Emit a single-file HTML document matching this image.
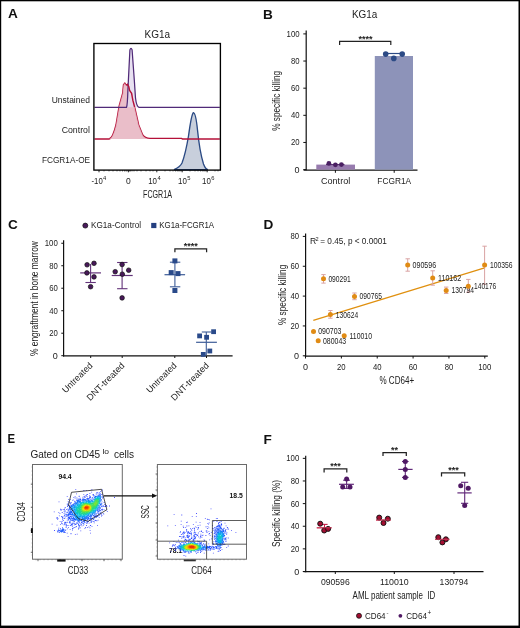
<!DOCTYPE html>
<html><head><meta charset="utf-8"><style>
html,body{margin:0;padding:0;background:#fff;}
#f{position:relative;width:520px;height:628px;overflow:hidden;background:#fff;}
svg{position:absolute;left:0;top:0;will-change:transform;}
text{font-family:"Liberation Sans", sans-serif;}
</style></head><body><div id="f">
<svg width="520" height="628" viewBox="0 0 520 628">
<rect x="0" y="0" width="520" height="628" fill="#fff"/>
<text x="8" y="18.4" font-size="13.6" text-anchor="start" fill="#111" font-weight="bold" >A</text>
<text x="157.4" y="37.9" font-size="11.1" text-anchor="middle" fill="#222" textLength="25.6" lengthAdjust="spacingAndGlyphs" >KG1a</text>
<text x="89.9" y="103" font-size="9.6" text-anchor="end" fill="#222" textLength="38.2" lengthAdjust="spacingAndGlyphs" >Unstained</text>
<text x="89.9" y="133.3" font-size="9.2" text-anchor="end" fill="#222" textLength="28.2" lengthAdjust="spacingAndGlyphs" >Control</text>
<text x="90.1" y="162.8" font-size="9.9" text-anchor="end" fill="#222" textLength="48.2" lengthAdjust="spacingAndGlyphs" >FCGR1A-OE</text>
<path d="M174,169.7 C178,168 180.5,166 182,163 C185,155 187,145 188.5,136 C190,125 191.5,114 193.4,112.6 C195.5,113 196.5,120 197.5,130 C199,145 201,156 203.5,164 C205,168 206.5,169.5 208,169.7 Z" fill="#c8cfdc" stroke="#2b4a84" stroke-width="1.35" />
<path d="M94.5,139 L109,139 C112,138.6 114,133 116,125 L119.2,106 L122.7,93.3 L123.5,84.7 L124.8,83.2 L126.1,85.2 L127.5,84.5 L128.7,86.4 L129.6,90.4 L131.6,93.3 L132.8,100.2 L134.6,107 L138.7,125 L142.7,135 C144.5,137.8 146,138.4 150,138.4 L181.5,138.4 L182.5,139 L219.8,139" fill="none" stroke="#b51038" stroke-width="1.4" />
<path d="M109,139 C112,138.6 114,133 116,125 L119.2,106 L122.7,93.3 L123.5,84.7 L124.8,83.2 L126.1,85.2 L127.5,84.5 L128.7,86.4 L129.6,90.4 L131.6,93.3 L132.8,100.2 L134.6,107 L138.7,125 L142.7,135 C144.5,137.8 146,138.4 150,139 Z" fill="#e6b3c0" stroke="none" stroke-width="1" fill-opacity="0.85"/>
<path d="M126.5,107.3 C127.3,106 127.6,100 127.9,90 L129.9,50 Q131,46.5 132.1,50 L134.3,80 L135.5,98 C136.2,104 137,106.8 139,107.3 Z" fill="#e4dcee" stroke="none" stroke-width="1" fill-opacity="0.85"/>
<path d="M94.5,107.3 L126.5,107.3 C127.3,106 127.6,100 127.9,90 L129.9,50 Q131,46.5 132.1,50 L134.3,80 L135.5,98 C136.2,104 137,106.8 139,107.3 L219.8,107.3" fill="none" stroke="#502a78" stroke-width="1.25" />
<path d="M126.1,85.2 L127.5,84.5 L128.7,86.4 L129.6,90.4 L131.6,93.3 L132.8,100.2 L134.6,107" fill="none" stroke="#b51038" stroke-width="1.4" />
<rect x="93.9" y="43.5" width="126.5" height="126.6" fill="none" stroke="#000" stroke-width="1.35"/>
<line x1="99" y1="170" x2="99" y2="172.3" stroke="#111" stroke-width="0.9"/>
<line x1="128.4" y1="170" x2="128.4" y2="172.3" stroke="#111" stroke-width="0.9"/>
<line x1="156.8" y1="170" x2="156.8" y2="172.3" stroke="#111" stroke-width="0.9"/>
<line x1="182.2" y1="170" x2="182.2" y2="172.3" stroke="#111" stroke-width="0.9"/>
<line x1="207.2" y1="170" x2="207.2" y2="172.3" stroke="#111" stroke-width="0.9"/>
<line x1="104" y1="170" x2="104" y2="171.4" stroke="#111" stroke-width="0.7"/>
<line x1="109" y1="170" x2="109" y2="171.4" stroke="#111" stroke-width="0.7"/>
<line x1="113" y1="170" x2="113" y2="171.4" stroke="#111" stroke-width="0.7"/>
<line x1="117" y1="170" x2="117" y2="171.4" stroke="#111" stroke-width="0.7"/>
<line x1="120" y1="170" x2="120" y2="171.4" stroke="#111" stroke-width="0.7"/>
<line x1="122.5" y1="170" x2="122.5" y2="171.4" stroke="#111" stroke-width="0.7"/>
<line x1="124.5" y1="170" x2="124.5" y2="171.4" stroke="#111" stroke-width="0.7"/>
<line x1="126" y1="170" x2="126" y2="171.4" stroke="#111" stroke-width="0.7"/>
<line x1="127" y1="170" x2="127" y2="171.4" stroke="#111" stroke-width="0.7"/>
<line x1="129.5" y1="170" x2="129.5" y2="171.4" stroke="#111" stroke-width="0.7"/>
<line x1="130.5" y1="170" x2="130.5" y2="171.4" stroke="#111" stroke-width="0.7"/>
<line x1="132" y1="170" x2="132" y2="171.4" stroke="#111" stroke-width="0.7"/>
<line x1="134" y1="170" x2="134" y2="171.4" stroke="#111" stroke-width="0.7"/>
<line x1="137" y1="170" x2="137" y2="171.4" stroke="#111" stroke-width="0.7"/>
<line x1="141" y1="170" x2="141" y2="171.4" stroke="#111" stroke-width="0.7"/>
<line x1="146" y1="170" x2="146" y2="171.4" stroke="#111" stroke-width="0.7"/>
<line x1="150" y1="170" x2="150" y2="171.4" stroke="#111" stroke-width="0.7"/>
<line x1="153" y1="170" x2="153" y2="171.4" stroke="#111" stroke-width="0.7"/>
<line x1="165" y1="170" x2="165" y2="171.4" stroke="#111" stroke-width="0.7"/>
<line x1="170" y1="170" x2="170" y2="171.4" stroke="#111" stroke-width="0.7"/>
<line x1="173" y1="170" x2="173" y2="171.4" stroke="#111" stroke-width="0.7"/>
<line x1="175.5" y1="170" x2="175.5" y2="171.4" stroke="#111" stroke-width="0.7"/>
<line x1="177.3" y1="170" x2="177.3" y2="171.4" stroke="#111" stroke-width="0.7"/>
<line x1="178.8" y1="170" x2="178.8" y2="171.4" stroke="#111" stroke-width="0.7"/>
<line x1="180" y1="170" x2="180" y2="171.4" stroke="#111" stroke-width="0.7"/>
<line x1="181.2" y1="170" x2="181.2" y2="171.4" stroke="#111" stroke-width="0.7"/>
<line x1="190" y1="170" x2="190" y2="171.4" stroke="#111" stroke-width="0.7"/>
<line x1="195" y1="170" x2="195" y2="171.4" stroke="#111" stroke-width="0.7"/>
<line x1="198" y1="170" x2="198" y2="171.4" stroke="#111" stroke-width="0.7"/>
<line x1="200.5" y1="170" x2="200.5" y2="171.4" stroke="#111" stroke-width="0.7"/>
<line x1="202.3" y1="170" x2="202.3" y2="171.4" stroke="#111" stroke-width="0.7"/>
<line x1="203.8" y1="170" x2="203.8" y2="171.4" stroke="#111" stroke-width="0.7"/>
<line x1="205" y1="170" x2="205" y2="171.4" stroke="#111" stroke-width="0.7"/>
<line x1="206.2" y1="170" x2="206.2" y2="171.4" stroke="#111" stroke-width="0.7"/>
<line x1="215" y1="170" x2="215" y2="171.4" stroke="#111" stroke-width="0.7"/>
<line x1="218" y1="170" x2="218" y2="171.4" stroke="#111" stroke-width="0.7"/>
<text x="91.5" y="183.9" font-size="8.5" text-anchor="start" fill="#222" textLength="11.2" lengthAdjust="spacingAndGlyphs" >-10</text>
<text x="103.0" y="180.3" font-size="5.8" text-anchor="start" fill="#222" >4</text>
<text x="125.9" y="183.9" font-size="8.5" text-anchor="start" fill="#222" >0</text>
<text x="148.2" y="183.9" font-size="8.5" text-anchor="start" fill="#222" textLength="8.8" lengthAdjust="spacingAndGlyphs" >10</text>
<text x="157.4" y="180.3" font-size="5.8" text-anchor="start" fill="#222" >4</text>
<text x="178.0" y="183.9" font-size="8.5" text-anchor="start" fill="#222" textLength="8.8" lengthAdjust="spacingAndGlyphs" >10</text>
<text x="187.2" y="180.3" font-size="5.8" text-anchor="start" fill="#222" >5</text>
<text x="202.0" y="183.9" font-size="8.5" text-anchor="start" fill="#222" textLength="8.8" lengthAdjust="spacingAndGlyphs" >10</text>
<text x="211.2" y="180.3" font-size="5.8" text-anchor="start" fill="#222" >6</text>
<text x="157.5" y="198.2" font-size="10.6" text-anchor="middle" fill="#222" textLength="28.9" lengthAdjust="spacingAndGlyphs" >FCGR1A</text>
<text x="263" y="18.6" font-size="13.6" text-anchor="start" fill="#111" font-weight="bold" >B</text>
<text x="364.7" y="18.3" font-size="11.1" text-anchor="middle" fill="#222" textLength="25.4" lengthAdjust="spacingAndGlyphs" >KG1a</text>
<line x1="303.3" y1="169.6" x2="306.2" y2="169.6" stroke="#111" stroke-width="1"/>
<text x="299.6" y="172.6" font-size="9" text-anchor="end" fill="#222" >0</text>
<line x1="303.3" y1="142.45999999999998" x2="306.2" y2="142.45999999999998" stroke="#111" stroke-width="1"/>
<text x="299.6" y="145.45999999999998" font-size="9" text-anchor="end" fill="#222" textLength="8.6" lengthAdjust="spacingAndGlyphs" >20</text>
<line x1="303.3" y1="115.32" x2="306.2" y2="115.32" stroke="#111" stroke-width="1"/>
<text x="299.6" y="118.32" font-size="9" text-anchor="end" fill="#222" textLength="8.6" lengthAdjust="spacingAndGlyphs" >40</text>
<line x1="303.3" y1="88.17999999999999" x2="306.2" y2="88.17999999999999" stroke="#111" stroke-width="1"/>
<text x="299.6" y="91.17999999999999" font-size="9" text-anchor="end" fill="#222" textLength="8.6" lengthAdjust="spacingAndGlyphs" >60</text>
<line x1="303.3" y1="61.03999999999999" x2="306.2" y2="61.03999999999999" stroke="#111" stroke-width="1"/>
<text x="299.6" y="64.03999999999999" font-size="9" text-anchor="end" fill="#222" textLength="8.6" lengthAdjust="spacingAndGlyphs" >80</text>
<line x1="303.3" y1="33.900000000000006" x2="306.2" y2="33.900000000000006" stroke="#111" stroke-width="1"/>
<text x="299.6" y="36.900000000000006" font-size="9" text-anchor="end" fill="#222" textLength="13.05" lengthAdjust="spacingAndGlyphs" >100</text>
<line x1="306.2" y1="30.6" x2="306.2" y2="170.3" stroke="#111" stroke-width="1.2"/>
<line x1="303.6" y1="170.1" x2="417.5" y2="170.1" stroke="#111" stroke-width="1.2"/>
<text x="280.1" y="100.8" font-size="10.3" text-anchor="middle" fill="#222" textLength="60" lengthAdjust="spacingAndGlyphs" transform="rotate(-90 280.1 100.8)" >% specific killing</text>
<rect x="316.3" y="164.6" width="38.7" height="5.0" fill="#977bae" stroke="none" stroke-width="0"/>
<rect x="374.8" y="56.0" width="38.2" height="113.6" fill="#8d93b9" stroke="none" stroke-width="0"/>
<line x1="335.4" y1="170" x2="335.4" y2="172.8" stroke="#111" stroke-width="1"/>
<line x1="394.2" y1="170" x2="394.2" y2="172.8" stroke="#111" stroke-width="1"/>
<text x="335.6" y="184" font-size="8.7" text-anchor="middle" fill="#222" textLength="29.2" lengthAdjust="spacingAndGlyphs" >Control</text>
<text x="394.2" y="184" font-size="8.7" text-anchor="middle" fill="#222" textLength="33.8" lengthAdjust="spacingAndGlyphs" >FCGR1A</text>
<line x1="326" y1="164.6" x2="344.5" y2="164.6" stroke="#4d2266" stroke-width="1"/>
<circle cx="328.9" cy="163.4" r="2.4" fill="#4a1f62" stroke="none" stroke-width="0"/>
<circle cx="335.4" cy="164.8" r="2.4" fill="#4a1f62" stroke="none" stroke-width="0"/>
<circle cx="341.4" cy="164.6" r="2.4" fill="#4a1f62" stroke="none" stroke-width="0"/>
<line x1="385.7" y1="53.5" x2="402.2" y2="53.5" stroke="#2c4a85" stroke-width="1.2"/>
<circle cx="385.7" cy="54.1" r="2.8" fill="#2c4a85" stroke="none" stroke-width="0"/>
<circle cx="393.8" cy="58.4" r="2.8" fill="#2c4a85" stroke="none" stroke-width="0"/>
<circle cx="402.2" cy="54.1" r="2.8" fill="#2c4a85" stroke="none" stroke-width="0"/>
<path d="M339.6,44.9 L339.6,41.4 L390.8,41.4 L390.8,44.9" fill="none" stroke="#222" stroke-width="1.2" />
<text x="365.4" y="41.9" font-size="9" text-anchor="middle" fill="#222" font-weight="bold" >****</text>
<text x="8" y="228.7" font-size="13.6" text-anchor="start" fill="#111" font-weight="bold" >C</text>
<circle cx="85.3" cy="225.6" r="2.5" fill="#4a1a5c" stroke="#111" stroke-width="0.7"/>
<text x="91" y="228.3" font-size="9.4" text-anchor="start" fill="#222" textLength="50" lengthAdjust="spacingAndGlyphs" >KG1a-Control</text>
<rect x="151.2" y="222.9" width="5.2" height="5.2" fill="#243f80" stroke="none" stroke-width="0"/>
<text x="159.3" y="228.3" font-size="9.4" text-anchor="start" fill="#222" textLength="54.8" lengthAdjust="spacingAndGlyphs" >KG1a-FCGR1A</text>
<line x1="61.3" y1="355.7" x2="63.6" y2="355.7" stroke="#111" stroke-width="1"/>
<text x="57.8" y="358.7" font-size="9" text-anchor="end" fill="#222" >0</text>
<line x1="61.3" y1="333.21" x2="63.6" y2="333.21" stroke="#111" stroke-width="1"/>
<text x="57.8" y="336.21" font-size="9" text-anchor="end" fill="#222" textLength="8.6" lengthAdjust="spacingAndGlyphs" >20</text>
<line x1="61.3" y1="310.71999999999997" x2="63.6" y2="310.71999999999997" stroke="#111" stroke-width="1"/>
<text x="57.8" y="313.71999999999997" font-size="9" text-anchor="end" fill="#222" textLength="8.6" lengthAdjust="spacingAndGlyphs" >40</text>
<line x1="61.3" y1="288.23" x2="63.6" y2="288.23" stroke="#111" stroke-width="1"/>
<text x="57.8" y="291.23" font-size="9" text-anchor="end" fill="#222" textLength="8.6" lengthAdjust="spacingAndGlyphs" >60</text>
<line x1="61.3" y1="265.74" x2="63.6" y2="265.74" stroke="#111" stroke-width="1"/>
<text x="57.8" y="268.74" font-size="9" text-anchor="end" fill="#222" textLength="8.6" lengthAdjust="spacingAndGlyphs" >80</text>
<line x1="61.3" y1="243.25" x2="63.6" y2="243.25" stroke="#111" stroke-width="1"/>
<text x="57.8" y="246.25" font-size="9" text-anchor="end" fill="#222" textLength="13.05" lengthAdjust="spacingAndGlyphs" >100</text>
<line x1="63.6" y1="240.2" x2="63.6" y2="356.4" stroke="#111" stroke-width="1.2"/>
<line x1="63.0" y1="355.9" x2="232.6" y2="355.9" stroke="#111" stroke-width="1.3"/>
<text x="38.2" y="298.6" font-size="10.3" text-anchor="middle" fill="#222" textLength="115" lengthAdjust="spacingAndGlyphs" transform="rotate(-90 38.2 298.6)" >% engraftment in bone marrow</text>
<line x1="90.6" y1="264" x2="90.6" y2="282.5" stroke="#623279" stroke-width="1.1"/>
<line x1="80.2" y1="272.9" x2="101" y2="272.9" stroke="#623279" stroke-width="1.2"/>
<line x1="85.4" y1="282.5" x2="95.8" y2="282.5" stroke="#623279" stroke-width="1.1"/>
<circle cx="87.1" cy="264.8" r="2.3" fill="#48185a" stroke="#111" stroke-width="0.7"/>
<circle cx="94" cy="263.3" r="2.3" fill="#48185a" stroke="#111" stroke-width="0.7"/>
<circle cx="86.9" cy="272.9" r="2.3" fill="#48185a" stroke="#111" stroke-width="0.7"/>
<circle cx="94" cy="276.9" r="2.3" fill="#48185a" stroke="#111" stroke-width="0.7"/>
<circle cx="90.6" cy="286.7" r="2.3" fill="#48185a" stroke="#111" stroke-width="0.7"/>
<line x1="122.1" y1="262.5" x2="122.1" y2="288.7" stroke="#623279" stroke-width="1.1"/>
<line x1="111.7" y1="275.5" x2="132.7" y2="275.5" stroke="#623279" stroke-width="1.2"/>
<line x1="117.1" y1="262.5" x2="127.5" y2="262.5" stroke="#623279" stroke-width="1.1"/>
<line x1="117.1" y1="288.7" x2="127.5" y2="288.7" stroke="#623279" stroke-width="1.1"/>
<circle cx="122.1" cy="264.5" r="2.3" fill="#48185a" stroke="#111" stroke-width="0.7"/>
<circle cx="115.2" cy="271.7" r="2.3" fill="#48185a" stroke="#111" stroke-width="0.7"/>
<circle cx="128.7" cy="270.2" r="2.3" fill="#48185a" stroke="#111" stroke-width="0.7"/>
<circle cx="122.3" cy="274.2" r="2.3" fill="#48185a" stroke="#111" stroke-width="0.7"/>
<circle cx="122.1" cy="297.9" r="2.3" fill="#48185a" stroke="#111" stroke-width="0.7"/>
<line x1="174.9" y1="262.2" x2="174.9" y2="286.8" stroke="#3e5d98" stroke-width="1.1"/>
<line x1="164.5" y1="274.7" x2="185.1" y2="274.7" stroke="#3e5d98" stroke-width="1.2"/>
<line x1="169.9" y1="262.2" x2="180.3" y2="262.2" stroke="#3e5d98" stroke-width="1.1"/>
<line x1="169.9" y1="286.8" x2="180.3" y2="286.8" stroke="#3e5d98" stroke-width="1.1"/>
<rect x="172.4" y="258.4" width="5" height="5" fill="#2a4a8a" stroke="none" stroke-width="0"/>
<rect x="168.7" y="270.1" width="5" height="5" fill="#2a4a8a" stroke="none" stroke-width="0"/>
<rect x="175.5" y="271.1" width="5" height="5" fill="#2a4a8a" stroke="none" stroke-width="0"/>
<rect x="172.4" y="288.0" width="5" height="5" fill="#2a4a8a" stroke="none" stroke-width="0"/>
<line x1="206.3" y1="332" x2="206.3" y2="355" stroke="#3e5d98" stroke-width="1.1"/>
<line x1="196.1" y1="342.3" x2="216.9" y2="342.3" stroke="#3e5d98" stroke-width="1.2"/>
<line x1="201.8" y1="332" x2="211.4" y2="332" stroke="#3e5d98" stroke-width="1.1"/>
<rect x="197.2" y="333.5" width="4.8" height="4.8" fill="#2a4a8a" stroke="none" stroke-width="0"/>
<rect x="204.2" y="334.90000000000003" width="4.8" height="4.8" fill="#2a4a8a" stroke="none" stroke-width="0"/>
<rect x="211.2" y="329.3" width="4.8" height="4.8" fill="#2a4a8a" stroke="none" stroke-width="0"/>
<rect x="207.4" y="348.6" width="4.8" height="4.8" fill="#2a4a8a" stroke="none" stroke-width="0"/>
<rect x="200.9" y="352.0" width="4.8" height="4.8" fill="#2a4a8a" stroke="none" stroke-width="0"/>
<path d="M174.9,252.3 L174.9,248.9 L206.6,248.9 L206.6,252.3" fill="none" stroke="#222" stroke-width="1.25" />
<text x="190.8" y="248.8" font-size="9" text-anchor="middle" fill="#222" font-weight="bold" >****</text>
<line x1="90.7" y1="356" x2="90.7" y2="358" stroke="#111" stroke-width="1"/>
<line x1="122.2" y1="356" x2="122.2" y2="358" stroke="#111" stroke-width="1"/>
<line x1="174.8" y1="356" x2="174.8" y2="358" stroke="#111" stroke-width="1"/>
<line x1="206.5" y1="356" x2="206.5" y2="358" stroke="#111" stroke-width="1"/>
<text x="93.10000000000001" y="366.2" font-size="9.0" text-anchor="end" fill="#222" textLength="38.5" lengthAdjust="spacingAndGlyphs" transform="rotate(-45 93.10000000000001 366.2)" >Untreated</text>
<text x="125.2" y="366.2" font-size="9.0" text-anchor="end" fill="#222" textLength="49.5" lengthAdjust="spacingAndGlyphs" transform="rotate(-45 125.2 366.2)" >DNT-treated</text>
<text x="177.20000000000002" y="366.2" font-size="9.0" text-anchor="end" fill="#222" textLength="38.5" lengthAdjust="spacingAndGlyphs" transform="rotate(-45 177.20000000000002 366.2)" >Untreated</text>
<text x="209.5" y="366.2" font-size="9.0" text-anchor="end" fill="#222" textLength="49.5" lengthAdjust="spacingAndGlyphs" transform="rotate(-45 209.5 366.2)" >DNT-treated</text>
<text x="263.5" y="228.6" font-size="13.6" text-anchor="start" fill="#111" font-weight="bold" >D</text>
<line x1="302.8" y1="355.8" x2="305.6" y2="355.8" stroke="#111" stroke-width="1"/>
<text x="299" y="358.8" font-size="9" text-anchor="end" fill="#222" >0</text>
<line x1="302.8" y1="325.95" x2="305.6" y2="325.95" stroke="#111" stroke-width="1"/>
<text x="299" y="328.95" font-size="9" text-anchor="end" fill="#222" textLength="8.6" lengthAdjust="spacingAndGlyphs" >20</text>
<line x1="302.8" y1="296.1" x2="305.6" y2="296.1" stroke="#111" stroke-width="1"/>
<text x="299" y="299.1" font-size="9" text-anchor="end" fill="#222" textLength="8.6" lengthAdjust="spacingAndGlyphs" >40</text>
<line x1="302.8" y1="266.25" x2="305.6" y2="266.25" stroke="#111" stroke-width="1"/>
<text x="299" y="269.25" font-size="9" text-anchor="end" fill="#222" textLength="8.6" lengthAdjust="spacingAndGlyphs" >60</text>
<line x1="302.8" y1="236.40000000000003" x2="305.6" y2="236.40000000000003" stroke="#111" stroke-width="1"/>
<text x="299" y="239.40000000000003" font-size="9" text-anchor="end" fill="#222" textLength="8.6" lengthAdjust="spacingAndGlyphs" >80</text>
<line x1="305.5" y1="356" x2="305.5" y2="358.5" stroke="#111" stroke-width="1"/>
<text x="305.5" y="369.7" font-size="9" text-anchor="middle" fill="#222" >0</text>
<line x1="341.36" y1="356" x2="341.36" y2="358.5" stroke="#111" stroke-width="1"/>
<text x="341.36" y="369.7" font-size="9" text-anchor="middle" fill="#222" textLength="8.6" lengthAdjust="spacingAndGlyphs" >20</text>
<line x1="377.22" y1="356" x2="377.22" y2="358.5" stroke="#111" stroke-width="1"/>
<text x="377.22" y="369.7" font-size="9" text-anchor="middle" fill="#222" textLength="8.6" lengthAdjust="spacingAndGlyphs" >40</text>
<line x1="413.08" y1="356" x2="413.08" y2="358.5" stroke="#111" stroke-width="1"/>
<text x="413.08" y="369.7" font-size="9" text-anchor="middle" fill="#222" textLength="8.6" lengthAdjust="spacingAndGlyphs" >60</text>
<line x1="448.94" y1="356" x2="448.94" y2="358.5" stroke="#111" stroke-width="1"/>
<text x="448.94" y="369.7" font-size="9" text-anchor="middle" fill="#222" textLength="8.6" lengthAdjust="spacingAndGlyphs" >80</text>
<line x1="484.79999999999995" y1="356" x2="484.79999999999995" y2="358.5" stroke="#111" stroke-width="1"/>
<text x="484.79999999999995" y="369.7" font-size="9" text-anchor="middle" fill="#222" textLength="13.05" lengthAdjust="spacingAndGlyphs" >100</text>
<line x1="305.6" y1="233.4" x2="305.6" y2="356.5" stroke="#111" stroke-width="1.2"/>
<line x1="304.8" y1="356.1" x2="487.8" y2="356.1" stroke="#111" stroke-width="1.2"/>
<text x="286.4" y="294.9" font-size="10.3" text-anchor="middle" fill="#222" textLength="60.3" lengthAdjust="spacingAndGlyphs" transform="rotate(-90 286.4 294.9)" >% specific killing</text>
<text x="396.8" y="383.6" font-size="10.6" text-anchor="middle" fill="#222" textLength="34.7" lengthAdjust="spacingAndGlyphs" >% CD64+</text>
<text x="310" y="244.2" font-size="8.6" text-anchor="start" fill="#222" >R</text>
<text x="315.6" y="240.6" font-size="5.6" text-anchor="start" fill="#222" >2</text>
<text x="320.3" y="244.2" font-size="8.7" text-anchor="start" fill="#222" textLength="66.6" lengthAdjust="spacingAndGlyphs" >= 0.45, p &lt; 0.0001</text>
<line x1="313.3" y1="320.4" x2="484.6" y2="267.9" stroke="#e0900f" stroke-width="1.3"/>
<line x1="323.5" y1="274.6" x2="323.5" y2="283.1" stroke="#d9a3a3" stroke-width="1"/>
<line x1="321.3" y1="274.6" x2="325.7" y2="274.6" stroke="#d9a3a3" stroke-width="1"/>
<line x1="321.3" y1="283.1" x2="325.7" y2="283.1" stroke="#d9a3a3" stroke-width="1"/>
<line x1="354.5" y1="293" x2="354.5" y2="299.7" stroke="#d9a3a3" stroke-width="1"/>
<line x1="352.3" y1="293" x2="356.7" y2="293" stroke="#d9a3a3" stroke-width="1"/>
<line x1="352.3" y1="299.7" x2="356.7" y2="299.7" stroke="#d9a3a3" stroke-width="1"/>
<line x1="330.4" y1="310.5" x2="330.4" y2="318.2" stroke="#d9a3a3" stroke-width="1"/>
<line x1="328.2" y1="310.5" x2="332.59999999999997" y2="310.5" stroke="#d9a3a3" stroke-width="1"/>
<line x1="328.2" y1="318.2" x2="332.59999999999997" y2="318.2" stroke="#d9a3a3" stroke-width="1"/>
<line x1="407.7" y1="258.8" x2="407.7" y2="271.2" stroke="#d9a3a3" stroke-width="1"/>
<line x1="405.5" y1="258.8" x2="409.9" y2="258.8" stroke="#d9a3a3" stroke-width="1"/>
<line x1="405.5" y1="271.2" x2="409.9" y2="271.2" stroke="#d9a3a3" stroke-width="1"/>
<line x1="432.7" y1="270.8" x2="432.7" y2="285.2" stroke="#d9a3a3" stroke-width="1"/>
<line x1="430.5" y1="270.8" x2="434.9" y2="270.8" stroke="#d9a3a3" stroke-width="1"/>
<line x1="430.5" y1="285.2" x2="434.9" y2="285.2" stroke="#d9a3a3" stroke-width="1"/>
<line x1="446.2" y1="287.1" x2="446.2" y2="293.5" stroke="#d9a3a3" stroke-width="1"/>
<line x1="444.0" y1="287.1" x2="448.4" y2="287.1" stroke="#d9a3a3" stroke-width="1"/>
<line x1="444.0" y1="293.5" x2="448.4" y2="293.5" stroke="#d9a3a3" stroke-width="1"/>
<line x1="468.3" y1="279.4" x2="468.3" y2="292.3" stroke="#d9a3a3" stroke-width="1"/>
<line x1="466.1" y1="279.4" x2="470.5" y2="279.4" stroke="#d9a3a3" stroke-width="1"/>
<line x1="466.1" y1="292.3" x2="470.5" y2="292.3" stroke="#d9a3a3" stroke-width="1"/>
<line x1="484.6" y1="246.2" x2="484.6" y2="284.2" stroke="#d9a3a3" stroke-width="1"/>
<line x1="482.40000000000003" y1="246.2" x2="486.8" y2="246.2" stroke="#d9a3a3" stroke-width="1"/>
<line x1="482.40000000000003" y1="284.2" x2="486.8" y2="284.2" stroke="#d9a3a3" stroke-width="1"/>
<circle cx="323.5" cy="278.8" r="2.5" fill="#e08b14" stroke="none" stroke-width="0"/>
<text x="328.4" y="281.7" font-size="8.2" text-anchor="start" fill="#222" textLength="22.4" lengthAdjust="spacingAndGlyphs" >090291</text>
<circle cx="354.5" cy="296.5" r="2.5" fill="#e08b14" stroke="none" stroke-width="0"/>
<text x="359.6" y="299.4" font-size="8.2" text-anchor="start" fill="#222" textLength="22.3" lengthAdjust="spacingAndGlyphs" >090765</text>
<circle cx="330.4" cy="314.6" r="2.5" fill="#e08b14" stroke="none" stroke-width="0"/>
<text x="335.8" y="317.5" font-size="8.2" text-anchor="start" fill="#222" textLength="22.3" lengthAdjust="spacingAndGlyphs" >130624</text>
<circle cx="313.5" cy="331.5" r="2.5" fill="#e08b14" stroke="none" stroke-width="0"/>
<text x="318.2" y="334.4" font-size="8.2" text-anchor="start" fill="#222" textLength="23.3" lengthAdjust="spacingAndGlyphs" >090703</text>
<circle cx="318.2" cy="340.8" r="2.5" fill="#e08b14" stroke="none" stroke-width="0"/>
<text x="323.0" y="343.7" font-size="8.2" text-anchor="start" fill="#222" textLength="23.2" lengthAdjust="spacingAndGlyphs" >080043</text>
<circle cx="344.2" cy="335.8" r="2.5" fill="#e08b14" stroke="none" stroke-width="0"/>
<text x="349.5" y="338.7" font-size="8.2" text-anchor="start" fill="#222" textLength="22.5" lengthAdjust="spacingAndGlyphs" >110010</text>
<circle cx="407.7" cy="265.0" r="2.5" fill="#e08b14" stroke="none" stroke-width="0"/>
<text x="412.5" y="267.9" font-size="8.2" text-anchor="start" fill="#222" textLength="23.7" lengthAdjust="spacingAndGlyphs" >090596</text>
<circle cx="432.7" cy="278.1" r="2.5" fill="#e08b14" stroke="none" stroke-width="0"/>
<text x="438.0" y="281.0" font-size="8.2" text-anchor="start" fill="#222" textLength="23.2" lengthAdjust="spacingAndGlyphs" >110162</text>
<circle cx="446.2" cy="290.4" r="2.5" fill="#e08b14" stroke="none" stroke-width="0"/>
<text x="451.5" y="293.29999999999995" font-size="8.2" text-anchor="start" fill="#222" textLength="22.5" lengthAdjust="spacingAndGlyphs" >130794</text>
<circle cx="468.3" cy="286.2" r="2.5" fill="#e08b14" stroke="none" stroke-width="0"/>
<text x="474.0" y="289.09999999999997" font-size="8.2" text-anchor="start" fill="#222" textLength="22.2" lengthAdjust="spacingAndGlyphs" >140176</text>
<circle cx="484.6" cy="265.0" r="2.5" fill="#e08b14" stroke="none" stroke-width="0"/>
<text x="489.9" y="267.9" font-size="8.2" text-anchor="start" fill="#222" textLength="22.6" lengthAdjust="spacingAndGlyphs" >100356</text>
<text x="7.6" y="443.0" font-size="13.6" text-anchor="start" fill="#111" font-weight="bold" textLength="7.6" lengthAdjust="spacingAndGlyphs" >E</text>
<text x="30.4" y="458.4" font-size="10.4" text-anchor="start" fill="#222" textLength="69.8" lengthAdjust="spacingAndGlyphs" >Gated on CD45</text>
<text x="102.4" y="454.4" font-size="7" text-anchor="start" fill="#222" textLength="6.6" lengthAdjust="spacingAndGlyphs" >lo</text>
<text x="113.9" y="458.4" font-size="10.4" text-anchor="start" fill="#222" textLength="20.2" lengthAdjust="spacingAndGlyphs" >cells</text>
<text x="65.0" y="478.8" font-size="6.8" text-anchor="middle" fill="#111" font-weight="bold" >94.4</text>
<text x="236.2" y="498.3" font-size="6.8" text-anchor="middle" fill="#111" font-weight="bold" >18.5</text>
<text x="175.5" y="553.2" font-size="6.8" text-anchor="middle" fill="#111" font-weight="bold" >78.1</text>
<text x="77.9" y="574.2" font-size="11.5" text-anchor="middle" fill="#222" textLength="20.4" lengthAdjust="spacingAndGlyphs" >CD33</text>
<text x="201.5" y="574.2" font-size="11.5" text-anchor="middle" fill="#222" textLength="20.5" lengthAdjust="spacingAndGlyphs" >CD64</text>
<text x="25.0" y="511.9" font-size="11.8" text-anchor="middle" fill="#222" textLength="19.8" lengthAdjust="spacingAndGlyphs" transform="rotate(-90 25.0 511.9)" >CD34</text>
<text x="148.8" y="511.9" font-size="11.8" text-anchor="middle" fill="#222" textLength="13.4" lengthAdjust="spacingAndGlyphs" transform="rotate(-90 148.8 511.9)" >SSC</text>
<path fill="rgb(38, 45, 255)" d="M76.0 493.4h0.8v0.8h-0.8zM109.2 505.6h0.8v0.8h-0.8zM51.7 523.8h0.8v0.8h-0.8zM56.6 524.7h0.8v0.8h-0.8zM90.1 532.8h0.8v0.8h-0.8zM80.4 530.5h0.8v0.8h-0.8zM53.8 511.4h0.8v0.8h-0.8zM76.8 533.7h0.8v0.8h-0.8zM54.2 530.1h0.8v0.8h-0.8zM75.4 488.9h0.8v0.8h-0.8zM85.9 490.0h0.8v0.8h-0.8zM58.6 501.4h0.8v0.8h-0.8zM66.8 495.9h0.8v0.8h-0.8zM91.5 489.0h0.8v0.8h-0.8zM114.2 497.1h0.8v0.8h-0.8zM89.7 529.9h0.8v0.8h-0.8zM67.7 536.2h0.8v0.8h-0.8zM74.9 534.3h0.8v0.8h-0.8zM106.9 511.0h0.8v0.8h-0.8zM97.0 525.3h0.8v0.8h-0.8zM83.5 490.1h0.8v0.8h-0.8z"/><path fill="rgb(36, 57, 255)" d="M92.3 494.5h0.8v0.8h-0.8zM82.8 496.5h0.8v0.8h-0.8zM105.3 505.5h0.8v0.8h-0.8zM106.2 505.1h0.8v0.8h-0.8zM76.5 497.5h0.8v0.8h-0.8zM106.1 509.4h0.8v0.8h-0.8zM105.2 506.1h0.8v0.8h-0.8zM86.1 494.4h0.8v0.8h-0.8zM106.5 505.9h0.8v0.8h-0.8zM59.5 513.3h0.8v0.8h-0.8zM78.8 495.8h0.8v0.8h-0.8zM104.1 503.9h0.8v0.8h-0.8zM95.1 520.3h0.8v0.8h-0.8zM64.4 507.7h0.8v0.8h-0.8zM100.1 491.2h0.8v0.8h-0.8zM68.7 502.3h0.8v0.8h-0.8zM103.7 502.1h0.8v0.8h-0.8zM101.6 515.2h0.8v0.8h-0.8zM95.8 493.6h0.8v0.8h-0.8zM86.6 523.0h0.8v0.8h-0.8zM85.9 495.0h0.8v0.8h-0.8zM104.4 505.9h0.8v0.8h-0.8zM103.6 509.0h0.8v0.8h-0.8zM70.2 502.6h0.8v0.8h-0.8zM73.4 496.9h0.8v0.8h-0.8zM89.2 495.5h0.8v0.8h-0.8zM102.4 495.9h0.8v0.8h-0.8zM101.9 489.4h0.8v0.8h-0.8zM97.4 492.0h0.8v0.8h-0.8zM102.1 494.5h0.8v0.8h-0.8zM96.4 492.3h0.8v0.8h-0.8zM63.1 520.2h0.8v0.8h-0.8zM93.8 522.5h0.8v0.8h-0.8zM60.5 509.4h0.8v0.8h-0.8zM100.6 514.3h0.8v0.8h-0.8zM70.6 533.4h0.8v0.8h-0.8zM71.9 526.3h0.8v0.8h-0.8zM60.0 508.7h0.8v0.8h-0.8zM65.5 526.8h0.8v0.8h-0.8zM56.3 517.6h0.8v0.8h-0.8zM89.5 493.1h0.8v0.8h-0.8zM86.2 525.1h0.8v0.8h-0.8zM102.8 513.3h0.8v0.8h-0.8zM61.7 516.5h0.8v0.8h-0.8zM98.8 517.2h0.8v0.8h-0.8zM74.4 527.1h0.8v0.8h-0.8zM68.4 502.5h0.8v0.8h-0.8zM61.1 521.6h0.8v0.8h-0.8zM89.5 527.5h0.8v0.8h-0.8zM63.6 524.4h0.8v0.8h-0.8zM62.1 523.4h0.8v0.8h-0.8zM75.1 524.1h0.8v0.8h-0.8zM57.0 517.0h0.8v0.8h-0.8zM67.8 501.2h0.8v0.8h-0.8zM101.2 515.6h0.8v0.8h-0.8zM95.5 520.1h0.8v0.8h-0.8zM87.2 494.1h0.8v0.8h-0.8zM81.6 525.5h0.8v0.8h-0.8zM72.8 499.5h0.8v0.8h-0.8zM83.2 524.8h0.8v0.8h-0.8zM97.7 519.7h0.8v0.8h-0.8zM68.2 527.2h0.8v0.8h-0.8zM64.9 507.0h0.8v0.8h-0.8zM89.9 525.0h0.8v0.8h-0.8zM83.4 494.3h0.8v0.8h-0.8zM70.9 502.0h0.8v0.8h-0.8zM64.2 518.2h0.8v0.8h-0.8zM61.0 515.9h0.8v0.8h-0.8zM96.5 520.4h0.8v0.8h-0.8zM67.3 528.4h0.8v0.8h-0.8zM69.7 529.3h0.8v0.8h-0.8zM59.7 520.9h0.8v0.8h-0.8zM72.2 529.6h0.8v0.8h-0.8zM68.4 525.2h0.8v0.8h-0.8zM91.6 526.2h0.8v0.8h-0.8zM72.9 527.6h0.8v0.8h-0.8zM84.8 495.6h0.8v0.8h-0.8zM79.9 527.4h0.8v0.8h-0.8zM74.7 496.0h0.8v0.8h-0.8zM100.9 513.4h0.8v0.8h-0.8zM64.1 509.0h0.8v0.8h-0.8zM91.3 491.7h0.8v0.8h-0.8zM57.5 518.1h0.8v0.8h-0.8zM61.8 512.1h0.8v0.8h-0.8zM86.6 496.1h0.8v0.8h-0.8zM90.3 525.2h0.8v0.8h-0.8zM103.4 513.8h0.8v0.8h-0.8zM74.7 497.6h0.8v0.8h-0.8zM76.2 526.0h0.8v0.8h-0.8zM70.6 533.0h0.8v0.8h-0.8zM57.3 519.3h0.8v0.8h-0.8zM61.5 509.0h0.8v0.8h-0.8zM66.0 509.3h0.8v0.8h-0.8zM101.7 490.5h0.8v0.8h-0.8zM70.3 525.1h0.8v0.8h-0.8zM88.7 522.7h0.8v0.8h-0.8zM75.5 526.4h0.8v0.8h-0.8zM78.7 496.2h0.8v0.8h-0.8zM85.3 527.1h0.8v0.8h-0.8zM69.9 499.2h0.8v0.8h-0.8zM72.4 500.0h0.8v0.8h-0.8zM87.2 527.2h0.8v0.8h-0.8zM72.2 528.1h0.8v0.8h-0.8zM58.9 515.4h0.8v0.8h-0.8zM62.2 520.8h0.8v0.8h-0.8zM60.0 524.0h0.8v0.8h-0.8zM78.0 528.6h0.8v0.8h-0.8zM61.3 522.9h0.8v0.8h-0.8zM68.1 499.2h0.8v0.8h-0.8zM78.6 527.6h0.8v0.8h-0.8zM88.5 526.5h0.8v0.8h-0.8zM66.8 518.5h0.8v0.8h-0.8zM84.5 528.0h0.8v0.8h-0.8zM66.8 525.2h0.8v0.8h-0.8zM66.8 520.5h0.8v0.8h-0.8zM63.7 513.2h0.8v0.8h-0.8zM63.6 510.7h0.8v0.8h-0.8zM62.3 519.3h0.8v0.8h-0.8zM61.8 523.4h0.8v0.8h-0.8zM63.3 509.0h0.8v0.8h-0.8zM64.5 517.7h0.8v0.8h-0.8zM58.4 511.9h0.8v0.8h-0.8zM60.7 509.9h0.8v0.8h-0.8zM66.1 526.6h0.8v0.8h-0.8zM66.8 532.8h0.8v0.8h-0.8zM58.4 527.8h0.8v0.8h-0.8zM64.9 532.0h0.8v0.8h-0.8z"/><path fill="rgb(34, 68, 255)" d="M96.3 515.9h0.8v0.8h-0.8zM100.6 511.7h0.8v0.8h-0.8zM90.2 496.4h0.8v0.8h-0.8zM95.9 516.7h0.8v0.8h-0.8zM93.6 495.1h0.8v0.8h-0.8zM84.1 496.7h0.8v0.8h-0.8zM88.2 520.9h0.8v0.8h-0.8zM97.7 513.1h0.8v0.8h-0.8zM93.3 495.2h0.8v0.8h-0.8zM102.2 497.6h0.8v0.8h-0.8zM76.4 498.8h0.8v0.8h-0.8zM97.7 512.0h0.8v0.8h-0.8zM66.9 505.7h0.8v0.8h-0.8zM102.6 505.2h0.8v0.8h-0.8zM102.7 496.9h0.8v0.8h-0.8zM101.1 509.0h0.8v0.8h-0.8zM94.5 519.7h0.8v0.8h-0.8zM101.6 506.5h0.8v0.8h-0.8zM67.6 509.6h0.8v0.8h-0.8zM82.4 497.6h0.8v0.8h-0.8zM74.4 501.2h0.8v0.8h-0.8zM80.0 498.7h0.8v0.8h-0.8zM96.0 516.9h0.8v0.8h-0.8zM98.7 515.0h0.8v0.8h-0.8zM96.4 514.9h0.8v0.8h-0.8zM98.1 513.7h0.8v0.8h-0.8zM92.3 518.0h0.8v0.8h-0.8zM84.2 496.2h0.8v0.8h-0.8zM99.5 512.8h0.8v0.8h-0.8zM74.4 500.8h0.8v0.8h-0.8zM64.7 511.3h0.8v0.8h-0.8zM97.4 512.0h0.8v0.8h-0.8zM101.9 509.3h0.8v0.8h-0.8zM64.6 513.9h0.8v0.8h-0.8zM98.9 514.4h0.8v0.8h-0.8zM74.7 501.3h0.8v0.8h-0.8zM101.6 501.5h0.8v0.8h-0.8zM66.4 512.4h0.8v0.8h-0.8zM79.6 497.7h0.8v0.8h-0.8zM98.1 515.4h0.8v0.8h-0.8zM68.5 505.1h0.8v0.8h-0.8zM65.7 515.2h0.8v0.8h-0.8zM64.5 511.6h0.8v0.8h-0.8zM101.7 508.9h0.8v0.8h-0.8zM89.8 496.7h0.8v0.8h-0.8zM93.7 518.0h0.8v0.8h-0.8zM67.6 504.8h0.8v0.8h-0.8zM89.3 497.3h0.8v0.8h-0.8zM102.7 506.1h0.8v0.8h-0.8zM96.7 493.4h0.8v0.8h-0.8zM99.8 493.3h0.8v0.8h-0.8zM101.2 499.3h0.8v0.8h-0.8zM89.5 495.8h0.8v0.8h-0.8zM65.4 523.0h0.8v0.8h-0.8zM78.5 498.5h0.8v0.8h-0.8zM78.0 524.2h0.8v0.8h-0.8zM62.1 527.2h0.8v0.8h-0.8zM67.9 519.7h0.8v0.8h-0.8zM81.2 524.2h0.8v0.8h-0.8zM74.7 523.5h0.8v0.8h-0.8zM90.7 520.5h0.8v0.8h-0.8zM64.7 521.7h0.8v0.8h-0.8zM70.1 521.4h0.8v0.8h-0.8zM66.9 512.2h0.8v0.8h-0.8zM89.2 497.1h0.8v0.8h-0.8zM102.1 508.7h0.8v0.8h-0.8zM66.2 523.9h0.8v0.8h-0.8zM66.8 522.3h0.8v0.8h-0.8zM64.9 522.3h0.8v0.8h-0.8zM65.6 521.9h0.8v0.8h-0.8zM64.2 522.9h0.8v0.8h-0.8zM80.9 522.3h0.8v0.8h-0.8zM93.2 519.1h0.8v0.8h-0.8zM93.2 520.9h0.8v0.8h-0.8zM94.6 516.0h0.8v0.8h-0.8zM89.2 520.1h0.8v0.8h-0.8zM103.0 505.6h0.8v0.8h-0.8zM64.6 509.9h0.8v0.8h-0.8zM102.0 509.7h0.8v0.8h-0.8zM62.6 517.7h0.8v0.8h-0.8zM98.5 493.6h0.8v0.8h-0.8zM65.3 516.5h0.8v0.8h-0.8zM72.1 524.5h0.8v0.8h-0.8zM87.4 520.9h0.8v0.8h-0.8zM93.1 494.1h0.8v0.8h-0.8zM90.0 497.4h0.8v0.8h-0.8zM71.3 524.2h0.8v0.8h-0.8zM95.3 515.7h0.8v0.8h-0.8zM92.5 517.4h0.8v0.8h-0.8zM70.4 503.2h0.8v0.8h-0.8zM65.0 513.8h0.8v0.8h-0.8zM64.3 524.0h0.8v0.8h-0.8zM66.8 511.8h0.8v0.8h-0.8zM62.5 516.5h0.8v0.8h-0.8zM101.0 494.3h0.8v0.8h-0.8zM93.5 520.9h0.8v0.8h-0.8zM66.2 524.9h0.8v0.8h-0.8zM67.0 506.2h0.8v0.8h-0.8zM78.6 526.6h0.8v0.8h-0.8zM78.6 523.4h0.8v0.8h-0.8zM76.8 523.1h0.8v0.8h-0.8zM62.1 517.1h0.8v0.8h-0.8zM60.2 528.0h0.8v0.8h-0.8zM71.1 524.6h0.8v0.8h-0.8zM79.2 525.8h0.8v0.8h-0.8zM67.5 508.5h0.8v0.8h-0.8zM84.8 497.2h0.8v0.8h-0.8zM64.4 522.1h0.8v0.8h-0.8zM78.0 523.7h0.8v0.8h-0.8zM72.7 522.9h0.8v0.8h-0.8zM67.7 503.6h0.8v0.8h-0.8zM66.8 503.7h0.8v0.8h-0.8zM72.2 522.7h0.8v0.8h-0.8zM69.4 522.5h0.8v0.8h-0.8zM79.0 522.2h0.8v0.8h-0.8zM79.3 525.1h0.8v0.8h-0.8zM80.5 524.8h0.8v0.8h-0.8zM91.5 520.4h0.8v0.8h-0.8zM69.8 504.7h0.8v0.8h-0.8zM93.9 516.1h0.8v0.8h-0.8zM75.9 523.8h0.8v0.8h-0.8zM86.3 522.6h0.8v0.8h-0.8zM71.6 523.6h0.8v0.8h-0.8zM70.6 504.4h0.8v0.8h-0.8zM76.2 522.5h0.8v0.8h-0.8zM62.5 518.2h0.8v0.8h-0.8zM65.0 524.5h0.8v0.8h-0.8zM63.8 515.7h0.8v0.8h-0.8zM97.1 516.1h0.8v0.8h-0.8zM89.9 521.8h0.8v0.8h-0.8zM99.3 491.9h0.8v0.8h-0.8zM71.2 524.1h0.8v0.8h-0.8zM70.5 523.4h0.8v0.8h-0.8zM72.4 524.7h0.8v0.8h-0.8zM68.9 522.5h0.8v0.8h-0.8zM89.5 520.0h0.8v0.8h-0.8zM67.8 504.9h0.8v0.8h-0.8zM99.9 512.6h0.8v0.8h-0.8zM64.0 515.0h0.8v0.8h-0.8zM66.9 522.2h0.8v0.8h-0.8zM80.2 523.5h0.8v0.8h-0.8zM81.6 522.6h0.8v0.8h-0.8zM67.9 519.0h0.8v0.8h-0.8zM93.7 521.0h0.8v0.8h-0.8zM91.1 521.9h0.8v0.8h-0.8zM74.2 524.5h0.8v0.8h-0.8zM68.9 522.0h0.8v0.8h-0.8zM73.5 521.6h0.8v0.8h-0.8zM86.6 521.1h0.8v0.8h-0.8zM78.1 525.3h0.8v0.8h-0.8zM66.7 516.2h0.8v0.8h-0.8zM70.3 521.8h0.8v0.8h-0.8zM87.2 522.2h0.8v0.8h-0.8zM64.0 514.9h0.8v0.8h-0.8zM73.8 523.2h0.8v0.8h-0.8zM83.6 523.8h0.8v0.8h-0.8zM94.8 517.3h0.8v0.8h-0.8zM69.2 520.9h0.8v0.8h-0.8zM91.5 521.2h0.8v0.8h-0.8zM74.1 520.9h0.8v0.8h-0.8zM58.7 529.9h0.8v0.8h-0.8zM58.3 529.2h0.8v0.8h-0.8zM63.8 531.3h0.8v0.8h-0.8zM58.7 531.7h0.8v0.8h-0.8zM57.0 530.8h0.8v0.8h-0.8zM64.0 531.9h0.8v0.8h-0.8zM57.7 531.2h0.8v0.8h-0.8zM56.9 530.4h0.8v0.8h-0.8zM65.4 529.5h0.8v0.8h-0.8zM64.2 531.5h0.8v0.8h-0.8zM57.4 531.8h0.8v0.8h-0.8zM65.0 529.9h0.8v0.8h-0.8z"/><path fill="rgb(32, 79, 255)" d="M69.7 516.1h0.8v0.8h-0.8zM80.4 499.1h0.8v0.8h-0.8zM94.8 495.7h0.8v0.8h-0.8zM89.2 518.8h0.8v0.8h-0.8zM90.6 518.7h0.8v0.8h-0.8zM76.3 500.0h0.8v0.8h-0.8zM100.6 509.7h0.8v0.8h-0.8zM95.7 513.2h0.8v0.8h-0.8zM72.8 517.0h0.8v0.8h-0.8zM66.0 514.2h0.8v0.8h-0.8zM80.3 499.4h0.8v0.8h-0.8zM82.8 498.7h0.8v0.8h-0.8zM88.7 498.3h0.8v0.8h-0.8zM95.9 513.2h0.8v0.8h-0.8zM101.4 503.6h0.8v0.8h-0.8zM69.6 516.7h0.8v0.8h-0.8zM98.0 511.1h0.8v0.8h-0.8zM100.0 510.3h0.8v0.8h-0.8zM89.8 519.8h0.8v0.8h-0.8zM69.1 517.1h0.8v0.8h-0.8zM76.8 500.2h0.8v0.8h-0.8zM99.2 506.9h0.8v0.8h-0.8zM91.9 518.5h0.8v0.8h-0.8zM87.2 497.8h0.8v0.8h-0.8zM98.4 510.4h0.8v0.8h-0.8zM100.1 507.0h0.8v0.8h-0.8zM85.2 499.1h0.8v0.8h-0.8zM100.7 505.8h0.8v0.8h-0.8zM90.4 518.3h0.8v0.8h-0.8zM101.0 506.3h0.8v0.8h-0.8zM77.8 521.5h0.8v0.8h-0.8zM68.9 510.8h0.8v0.8h-0.8zM84.0 521.5h0.8v0.8h-0.8zM70.5 518.7h0.8v0.8h-0.8zM68.1 517.8h0.8v0.8h-0.8zM101.5 503.3h0.8v0.8h-0.8zM67.0 514.5h0.8v0.8h-0.8zM91.0 518.4h0.8v0.8h-0.8zM84.1 498.7h0.8v0.8h-0.8zM69.5 509.4h0.8v0.8h-0.8zM91.0 518.0h0.8v0.8h-0.8zM79.6 499.3h0.8v0.8h-0.8zM97.5 511.3h0.8v0.8h-0.8zM68.4 508.9h0.8v0.8h-0.8zM99.7 510.2h0.8v0.8h-0.8zM79.4 499.2h0.8v0.8h-0.8zM100.1 508.0h0.8v0.8h-0.8zM94.5 515.5h0.8v0.8h-0.8zM93.7 514.0h0.8v0.8h-0.8zM78.4 499.2h0.8v0.8h-0.8zM81.2 521.9h0.8v0.8h-0.8zM97.5 510.8h0.8v0.8h-0.8zM68.4 516.9h0.8v0.8h-0.8zM99.2 508.4h0.8v0.8h-0.8zM95.3 514.8h0.8v0.8h-0.8zM93.0 498.7h0.8v0.8h-0.8zM67.9 512.7h0.8v0.8h-0.8zM89.9 518.3h0.8v0.8h-0.8zM83.0 498.4h0.8v0.8h-0.8zM87.5 498.3h0.8v0.8h-0.8zM99.1 510.8h0.8v0.8h-0.8zM95.7 513.9h0.8v0.8h-0.8zM70.8 517.5h0.8v0.8h-0.8zM88.1 498.2h0.8v0.8h-0.8zM96.7 495.6h0.8v0.8h-0.8zM99.5 493.8h0.8v0.8h-0.8zM93.5 496.4h0.8v0.8h-0.8zM99.8 494.4h0.8v0.8h-0.8zM98.8 494.4h0.8v0.8h-0.8zM100.1 494.7h0.8v0.8h-0.8zM72.8 519.0h0.8v0.8h-0.8zM69.8 509.2h0.8v0.8h-0.8zM92.1 497.0h0.8v0.8h-0.8zM77.4 521.9h0.8v0.8h-0.8zM66.9 514.2h0.8v0.8h-0.8zM80.2 498.9h0.8v0.8h-0.8zM68.4 516.2h0.8v0.8h-0.8zM91.4 516.8h0.8v0.8h-0.8zM92.4 498.5h0.8v0.8h-0.8zM93.2 515.1h0.8v0.8h-0.8zM69.0 517.9h0.8v0.8h-0.8zM72.4 519.8h0.8v0.8h-0.8zM86.8 519.0h0.8v0.8h-0.8zM71.7 520.3h0.8v0.8h-0.8zM69.5 506.8h0.8v0.8h-0.8zM74.6 520.0h0.8v0.8h-0.8zM69.0 506.8h0.8v0.8h-0.8zM68.5 513.0h0.8v0.8h-0.8zM73.5 503.3h0.8v0.8h-0.8zM99.5 510.1h0.8v0.8h-0.8zM69.7 519.6h0.8v0.8h-0.8zM69.3 518.1h0.8v0.8h-0.8zM70.4 516.2h0.8v0.8h-0.8zM100.7 505.6h0.8v0.8h-0.8zM67.6 515.0h0.8v0.8h-0.8zM83.3 522.9h0.8v0.8h-0.8zM74.8 502.1h0.8v0.8h-0.8zM93.8 515.6h0.8v0.8h-0.8zM84.0 521.1h0.8v0.8h-0.8zM70.8 515.9h0.8v0.8h-0.8zM66.2 515.8h0.8v0.8h-0.8zM99.3 510.3h0.8v0.8h-0.8zM70.7 519.5h0.8v0.8h-0.8zM81.6 521.2h0.8v0.8h-0.8zM72.7 520.8h0.8v0.8h-0.8zM82.0 521.8h0.8v0.8h-0.8zM66.2 514.3h0.8v0.8h-0.8zM83.1 522.7h0.8v0.8h-0.8zM68.0 510.0h0.8v0.8h-0.8zM70.6 517.9h0.8v0.8h-0.8zM68.7 506.4h0.8v0.8h-0.8zM69.4 505.8h0.8v0.8h-0.8zM72.8 517.4h0.8v0.8h-0.8zM83.0 521.1h0.8v0.8h-0.8zM73.2 520.3h0.8v0.8h-0.8zM67.9 511.4h0.8v0.8h-0.8zM82.6 522.9h0.8v0.8h-0.8zM90.2 517.2h0.8v0.8h-0.8zM71.4 520.0h0.8v0.8h-0.8zM74.5 502.4h0.8v0.8h-0.8zM68.5 518.5h0.8v0.8h-0.8zM81.3 520.1h0.8v0.8h-0.8zM91.5 497.8h0.8v0.8h-0.8zM81.7 521.1h0.8v0.8h-0.8zM72.4 516.2h0.8v0.8h-0.8zM97.1 510.1h0.8v0.8h-0.8zM78.8 521.3h0.8v0.8h-0.8zM87.4 518.9h0.8v0.8h-0.8zM77.4 498.8h0.8v0.8h-0.8zM91.3 516.8h0.8v0.8h-0.8zM87.8 519.4h0.8v0.8h-0.8zM77.5 521.7h0.8v0.8h-0.8zM70.3 519.6h0.8v0.8h-0.8zM71.0 518.2h0.8v0.8h-0.8zM77.7 521.3h0.8v0.8h-0.8zM70.8 515.3h0.8v0.8h-0.8zM71.8 520.0h0.8v0.8h-0.8zM80.9 520.1h0.8v0.8h-0.8zM68.5 515.1h0.8v0.8h-0.8zM86.5 498.1h0.8v0.8h-0.8zM84.3 521.7h0.8v0.8h-0.8zM70.4 518.0h0.8v0.8h-0.8zM88.8 498.1h0.8v0.8h-0.8zM90.5 517.9h0.8v0.8h-0.8zM84.5 522.1h0.8v0.8h-0.8zM69.3 518.1h0.8v0.8h-0.8zM67.8 516.9h0.8v0.8h-0.8zM67.4 515.3h0.8v0.8h-0.8zM84.6 522.1h0.8v0.8h-0.8zM71.3 516.7h0.8v0.8h-0.8zM92.8 515.5h0.8v0.8h-0.8zM59.0 530.2h0.8v0.8h-0.8zM59.0 531.9h0.8v0.8h-0.8zM58.8 530.1h0.8v0.8h-0.8zM62.8 529.0h0.8v0.8h-0.8zM63.0 531.5h0.8v0.8h-0.8zM63.2 528.9h0.8v0.8h-0.8zM63.6 532.0h0.8v0.8h-0.8zM63.1 531.8h0.8v0.8h-0.8zM60.5 529.3h0.8v0.8h-0.8zM62.6 528.1h0.8v0.8h-0.8zM58.1 530.2h0.8v0.8h-0.8zM61.9 528.7h0.8v0.8h-0.8z"/><path fill="rgb(29, 93, 254)" d="M78.4 500.1h0.8v0.8h-0.8zM91.6 499.6h0.8v0.8h-0.8zM100.1 499.6h0.8v0.8h-0.8zM69.7 508.4h0.8v0.8h-0.8zM90.1 515.3h0.8v0.8h-0.8zM69.1 508.6h0.8v0.8h-0.8zM77.0 500.0h0.8v0.8h-0.8zM91.0 515.4h0.8v0.8h-0.8zM100.6 499.4h0.8v0.8h-0.8zM70.4 507.3h0.8v0.8h-0.8zM81.9 500.2h0.8v0.8h-0.8zM98.7 508.9h0.8v0.8h-0.8zM73.1 504.1h0.8v0.8h-0.8zM86.7 499.2h0.8v0.8h-0.8zM78.0 500.2h0.8v0.8h-0.8zM98.4 508.3h0.8v0.8h-0.8zM100.9 499.9h0.8v0.8h-0.8zM84.3 499.3h0.8v0.8h-0.8zM91.1 515.0h0.8v0.8h-0.8zM70.3 512.0h0.8v0.8h-0.8zM100.0 504.7h0.8v0.8h-0.8zM72.1 503.9h0.8v0.8h-0.8zM72.1 518.3h0.8v0.8h-0.8zM69.1 512.7h0.8v0.8h-0.8zM83.6 519.5h0.8v0.8h-0.8zM88.8 517.9h0.8v0.8h-0.8zM69.8 510.9h0.8v0.8h-0.8zM86.0 517.8h0.8v0.8h-0.8zM100.7 504.4h0.8v0.8h-0.8zM87.6 518.0h0.8v0.8h-0.8zM71.0 512.1h0.8v0.8h-0.8zM98.4 507.3h0.8v0.8h-0.8zM82.9 498.9h0.8v0.8h-0.8zM100.3 504.2h0.8v0.8h-0.8zM90.1 516.3h0.8v0.8h-0.8zM78.9 520.3h0.8v0.8h-0.8zM91.8 499.5h0.8v0.8h-0.8zM95.3 496.0h0.8v0.8h-0.8zM72.6 504.0h0.8v0.8h-0.8zM81.5 500.2h0.8v0.8h-0.8zM85.3 519.5h0.8v0.8h-0.8zM94.6 513.4h0.8v0.8h-0.8zM76.5 500.8h0.8v0.8h-0.8zM72.0 518.8h0.8v0.8h-0.8zM72.9 517.7h0.8v0.8h-0.8zM70.5 509.0h0.8v0.8h-0.8zM86.8 499.1h0.8v0.8h-0.8zM95.2 511.8h0.8v0.8h-0.8zM99.6 504.3h0.8v0.8h-0.8zM82.2 499.5h0.8v0.8h-0.8zM72.3 515.5h0.8v0.8h-0.8zM88.0 499.2h0.8v0.8h-0.8zM87.7 499.5h0.8v0.8h-0.8zM87.7 517.3h0.8v0.8h-0.8zM69.5 511.6h0.8v0.8h-0.8zM88.1 517.1h0.8v0.8h-0.8zM69.1 513.5h0.8v0.8h-0.8zM78.1 520.8h0.8v0.8h-0.8zM85.2 518.3h0.8v0.8h-0.8zM88.9 516.4h0.8v0.8h-0.8zM100.8 504.5h0.8v0.8h-0.8zM95.4 511.5h0.8v0.8h-0.8zM95.0 496.6h0.8v0.8h-0.8zM86.4 499.4h0.8v0.8h-0.8zM71.0 514.2h0.8v0.8h-0.8zM69.5 508.3h0.8v0.8h-0.8zM75.2 519.2h0.8v0.8h-0.8zM99.1 505.7h0.8v0.8h-0.8zM77.9 500.5h0.8v0.8h-0.8zM69.9 514.4h0.8v0.8h-0.8zM69.6 512.0h0.8v0.8h-0.8zM99.9 503.9h0.8v0.8h-0.8zM98.3 507.5h0.8v0.8h-0.8zM73.6 518.8h0.8v0.8h-0.8zM88.9 499.4h0.8v0.8h-0.8zM98.8 509.2h0.8v0.8h-0.8zM79.9 500.0h0.8v0.8h-0.8zM98.6 508.5h0.8v0.8h-0.8zM100.5 504.5h0.8v0.8h-0.8zM91.0 515.3h0.8v0.8h-0.8zM91.3 499.4h0.8v0.8h-0.8zM100.2 503.9h0.8v0.8h-0.8zM88.2 517.9h0.8v0.8h-0.8zM69.1 507.7h0.8v0.8h-0.8zM98.1 509.4h0.8v0.8h-0.8zM100.1 497.8h0.8v0.8h-0.8zM71.1 505.1h0.8v0.8h-0.8zM100.3 499.9h0.8v0.8h-0.8zM72.1 518.0h0.8v0.8h-0.8zM70.8 514.1h0.8v0.8h-0.8zM90.3 499.3h0.8v0.8h-0.8zM71.8 512.6h0.8v0.8h-0.8zM79.0 520.3h0.8v0.8h-0.8zM98.7 507.4h0.8v0.8h-0.8zM73.0 515.8h0.8v0.8h-0.8zM81.3 519.5h0.8v0.8h-0.8zM83.9 499.1h0.8v0.8h-0.8zM83.8 499.1h0.8v0.8h-0.8zM71.6 511.7h0.8v0.8h-0.8zM89.4 516.0h0.8v0.8h-0.8zM86.6 516.9h0.8v0.8h-0.8zM98.7 495.5h0.8v0.8h-0.8zM100.0 495.3h0.8v0.8h-0.8zM97.7 494.9h0.8v0.8h-0.8zM94.9 495.9h0.8v0.8h-0.8zM90.9 516.1h0.8v0.8h-0.8zM93.5 498.7h0.8v0.8h-0.8zM100.5 502.6h0.8v0.8h-0.8zM95.4 496.6h0.8v0.8h-0.8zM94.0 498.5h0.8v0.8h-0.8zM100.2 498.3h0.8v0.8h-0.8zM99.6 495.5h0.8v0.8h-0.8zM100.9 496.5h0.8v0.8h-0.8zM98.6 495.1h0.8v0.8h-0.8zM100.1 497.6h0.8v0.8h-0.8zM100.7 496.8h0.8v0.8h-0.8zM98.8 495.6h0.8v0.8h-0.8zM88.0 518.5h0.8v0.8h-0.8zM82.2 498.9h0.8v0.8h-0.8zM70.0 511.5h0.8v0.8h-0.8zM68.5 514.0h0.8v0.8h-0.8zM77.2 520.2h0.8v0.8h-0.8zM82.7 499.5h0.8v0.8h-0.8zM79.6 520.2h0.8v0.8h-0.8zM82.6 518.9h0.8v0.8h-0.8zM69.1 507.1h0.8v0.8h-0.8zM87.0 516.0h0.8v0.8h-0.8zM81.7 499.9h0.8v0.8h-0.8zM95.9 496.1h0.8v0.8h-0.8zM63.5 530.2h0.8v0.8h-0.8zM71.8 505.1h0.8v0.8h-0.8zM79.5 520.3h0.8v0.8h-0.8zM85.2 519.6h0.8v0.8h-0.8zM73.2 517.0h0.8v0.8h-0.8zM84.2 520.4h0.8v0.8h-0.8zM75.9 502.7h0.8v0.8h-0.8zM75.6 519.4h0.8v0.8h-0.8zM75.4 519.8h0.8v0.8h-0.8zM74.6 518.4h0.8v0.8h-0.8zM87.0 518.6h0.8v0.8h-0.8zM84.6 520.4h0.8v0.8h-0.8zM88.5 517.9h0.8v0.8h-0.8zM84.5 520.0h0.8v0.8h-0.8zM92.2 514.2h0.8v0.8h-0.8zM72.9 518.4h0.8v0.8h-0.8zM83.4 520.3h0.8v0.8h-0.8zM85.4 519.3h0.8v0.8h-0.8zM77.6 500.7h0.8v0.8h-0.8zM87.0 516.9h0.8v0.8h-0.8zM73.4 518.3h0.8v0.8h-0.8zM86.1 516.6h0.8v0.8h-0.8zM88.2 499.7h0.8v0.8h-0.8zM84.4 520.0h0.8v0.8h-0.8zM71.8 513.2h0.8v0.8h-0.8zM68.0 514.2h0.8v0.8h-0.8zM74.3 502.9h0.8v0.8h-0.8zM70.2 511.3h0.8v0.8h-0.8zM75.1 502.4h0.8v0.8h-0.8zM100.8 503.0h0.8v0.8h-0.8zM74.1 518.0h0.8v0.8h-0.8zM88.1 516.6h0.8v0.8h-0.8zM70.1 508.9h0.8v0.8h-0.8zM78.2 520.0h0.8v0.8h-0.8zM67.9 514.0h0.8v0.8h-0.8zM85.7 518.3h0.8v0.8h-0.8zM87.7 517.0h0.8v0.8h-0.8zM74.6 503.3h0.8v0.8h-0.8zM100.9 504.2h0.8v0.8h-0.8zM79.8 520.0h0.8v0.8h-0.8zM74.0 518.7h0.8v0.8h-0.8zM69.2 513.9h0.8v0.8h-0.8zM70.0 509.9h0.8v0.8h-0.8zM90.0 517.7h0.8v0.8h-0.8zM69.9 511.4h0.8v0.8h-0.8zM75.3 518.9h0.8v0.8h-0.8zM70.3 506.8h0.8v0.8h-0.8zM74.3 519.4h0.8v0.8h-0.8zM71.4 513.5h0.8v0.8h-0.8zM70.2 506.2h0.8v0.8h-0.8zM74.9 519.0h0.8v0.8h-0.8zM77.7 520.6h0.8v0.8h-0.8zM73.8 519.4h0.8v0.8h-0.8zM69.9 513.6h0.8v0.8h-0.8zM82.5 519.3h0.8v0.8h-0.8zM68.8 514.0h0.8v0.8h-0.8zM71.3 511.0h0.8v0.8h-0.8zM70.0 512.8h0.8v0.8h-0.8zM85.6 519.7h0.8v0.8h-0.8zM71.0 511.1h0.8v0.8h-0.8zM68.7 514.2h0.8v0.8h-0.8zM69.0 512.3h0.8v0.8h-0.8zM80.8 519.9h0.8v0.8h-0.8zM79.6 520.4h0.8v0.8h-0.8zM69.4 508.8h0.8v0.8h-0.8zM73.0 515.3h0.8v0.8h-0.8zM69.6 512.1h0.8v0.8h-0.8zM86.4 518.0h0.8v0.8h-0.8zM70.3 513.7h0.8v0.8h-0.8zM71.6 513.6h0.8v0.8h-0.8zM62.7 529.4h0.8v0.8h-0.8zM63.3 530.1h0.8v0.8h-0.8zM60.6 531.5h0.8v0.8h-0.8zM62.5 531.0h0.8v0.8h-0.8zM63.7 529.4h0.8v0.8h-0.8zM61.9 529.8h0.8v0.8h-0.8zM61.9 529.5h0.8v0.8h-0.8zM61.4 529.7h0.8v0.8h-0.8zM61.4 530.5h0.8v0.8h-0.8zM60.0 530.2h0.8v0.8h-0.8zM63.6 529.9h0.8v0.8h-0.8zM62.3 529.9h0.8v0.8h-0.8zM62.0 530.2h0.8v0.8h-0.8zM62.3 529.1h0.8v0.8h-0.8zM61.7 531.3h0.8v0.8h-0.8zM61.2 531.3h0.8v0.8h-0.8zM60.7 531.0h0.8v0.8h-0.8zM63.4 529.0h0.8v0.8h-0.8zM59.8 531.3h0.8v0.8h-0.8zM61.2 531.4h0.8v0.8h-0.8zM62.1 530.8h0.8v0.8h-0.8zM60.4 530.5h0.8v0.8h-0.8zM61.1 531.3h0.8v0.8h-0.8zM61.0 531.6h0.8v0.8h-0.8zM61.0 531.7h0.8v0.8h-0.8zM61.6 531.4h0.8v0.8h-0.8zM61.6 530.3h0.8v0.8h-0.8zM61.0 530.2h0.8v0.8h-0.8z"/><path fill="rgb(19, 124, 248)" d="M99.2 502.9h0.8v0.8h-0.8zM87.8 514.9h0.8v0.8h-0.8zM76.3 503.4h0.8v0.8h-0.8zM84.7 518.1h0.8v0.8h-0.8zM80.5 501.0h0.8v0.8h-0.8zM71.0 507.5h0.8v0.8h-0.8zM74.9 504.0h0.8v0.8h-0.8zM91.8 500.6h0.8v0.8h-0.8zM82.0 501.5h0.8v0.8h-0.8zM82.9 518.8h0.8v0.8h-0.8zM77.0 501.1h0.8v0.8h-0.8zM82.0 517.8h0.8v0.8h-0.8zM71.3 508.2h0.8v0.8h-0.8zM91.7 514.7h0.8v0.8h-0.8zM95.3 510.8h0.8v0.8h-0.8zM73.9 511.1h0.8v0.8h-0.8zM79.6 519.7h0.8v0.8h-0.8zM94.7 512.6h0.8v0.8h-0.8zM74.6 504.6h0.8v0.8h-0.8zM94.2 497.3h0.8v0.8h-0.8zM74.6 515.8h0.8v0.8h-0.8zM79.0 501.2h0.8v0.8h-0.8zM88.1 515.2h0.8v0.8h-0.8zM79.8 501.6h0.8v0.8h-0.8zM76.2 518.2h0.8v0.8h-0.8zM78.5 518.2h0.8v0.8h-0.8zM92.7 513.1h0.8v0.8h-0.8zM85.7 499.8h0.8v0.8h-0.8zM89.7 500.7h0.8v0.8h-0.8zM79.2 517.2h0.8v0.8h-0.8zM88.0 515.0h0.8v0.8h-0.8zM83.4 518.3h0.8v0.8h-0.8zM70.9 506.2h0.8v0.8h-0.8zM72.4 510.4h0.8v0.8h-0.8zM84.2 519.0h0.8v0.8h-0.8zM87.4 500.6h0.8v0.8h-0.8zM77.6 502.3h0.8v0.8h-0.8zM73.2 505.1h0.8v0.8h-0.8zM98.6 506.4h0.8v0.8h-0.8zM74.4 513.6h0.8v0.8h-0.8zM76.5 519.8h0.8v0.8h-0.8zM99.0 505.5h0.8v0.8h-0.8zM94.2 512.2h0.8v0.8h-0.8zM83.3 518.5h0.8v0.8h-0.8zM92.5 500.6h0.8v0.8h-0.8zM74.7 514.4h0.8v0.8h-0.8zM73.7 511.9h0.8v0.8h-0.8zM73.3 511.6h0.8v0.8h-0.8zM95.9 510.2h0.8v0.8h-0.8zM84.3 500.1h0.8v0.8h-0.8zM86.0 500.6h0.8v0.8h-0.8zM84.0 516.6h0.8v0.8h-0.8zM83.1 500.6h0.8v0.8h-0.8zM77.6 519.6h0.8v0.8h-0.8zM77.5 518.1h0.8v0.8h-0.8zM80.1 517.4h0.8v0.8h-0.8zM91.5 500.1h0.8v0.8h-0.8zM71.1 510.8h0.8v0.8h-0.8zM73.1 505.2h0.8v0.8h-0.8zM82.7 518.3h0.8v0.8h-0.8zM71.9 514.2h0.8v0.8h-0.8zM72.3 510.3h0.8v0.8h-0.8zM83.1 499.8h0.8v0.8h-0.8zM74.6 504.6h0.8v0.8h-0.8zM71.9 507.8h0.8v0.8h-0.8zM77.4 500.9h0.8v0.8h-0.8zM73.9 515.0h0.8v0.8h-0.8zM74.5 514.2h0.8v0.8h-0.8zM84.7 517.6h0.8v0.8h-0.8zM79.1 499.8h0.8v0.8h-0.8zM90.3 514.7h0.8v0.8h-0.8zM84.1 519.9h0.8v0.8h-0.8zM78.9 501.6h0.8v0.8h-0.8zM72.0 505.8h0.8v0.8h-0.8zM79.4 518.5h0.8v0.8h-0.8zM74.3 504.3h0.8v0.8h-0.8zM98.4 505.5h0.8v0.8h-0.8zM74.1 514.1h0.8v0.8h-0.8zM73.0 505.5h0.8v0.8h-0.8zM71.0 506.1h0.8v0.8h-0.8zM81.4 517.7h0.8v0.8h-0.8zM97.0 509.5h0.8v0.8h-0.8zM91.8 514.7h0.8v0.8h-0.8zM96.8 509.2h0.8v0.8h-0.8zM79.0 500.7h0.8v0.8h-0.8zM82.8 500.9h0.8v0.8h-0.8zM79.1 518.9h0.8v0.8h-0.8zM73.9 513.0h0.8v0.8h-0.8zM84.3 518.2h0.8v0.8h-0.8zM75.2 503.2h0.8v0.8h-0.8zM89.5 500.1h0.8v0.8h-0.8zM74.8 515.2h0.8v0.8h-0.8zM99.8 503.4h0.8v0.8h-0.8zM77.7 519.7h0.8v0.8h-0.8zM73.4 505.2h0.8v0.8h-0.8zM90.4 514.3h0.8v0.8h-0.8zM84.2 518.0h0.8v0.8h-0.8zM87.0 515.7h0.8v0.8h-0.8zM89.8 515.3h0.8v0.8h-0.8zM72.5 512.7h0.8v0.8h-0.8zM71.7 509.5h0.8v0.8h-0.8zM84.3 516.0h0.8v0.8h-0.8zM78.7 501.6h0.8v0.8h-0.8zM90.3 514.5h0.8v0.8h-0.8zM76.3 503.4h0.8v0.8h-0.8zM72.3 513.9h0.8v0.8h-0.8zM76.0 502.4h0.8v0.8h-0.8zM88.4 499.9h0.8v0.8h-0.8zM85.4 517.6h0.8v0.8h-0.8zM95.4 510.2h0.8v0.8h-0.8zM72.5 510.1h0.8v0.8h-0.8zM91.3 500.0h0.8v0.8h-0.8zM91.6 513.1h0.8v0.8h-0.8zM74.4 514.0h0.8v0.8h-0.8zM91.7 513.6h0.8v0.8h-0.8zM99.3 496.4h0.8v0.8h-0.8zM78.9 502.1h0.8v0.8h-0.8zM78.0 518.5h0.8v0.8h-0.8zM80.1 500.9h0.8v0.8h-0.8zM83.0 500.7h0.8v0.8h-0.8zM70.9 507.8h0.8v0.8h-0.8zM71.2 506.0h0.8v0.8h-0.8zM73.7 513.5h0.8v0.8h-0.8zM72.6 514.1h0.8v0.8h-0.8zM89.8 500.4h0.8v0.8h-0.8zM76.4 502.3h0.8v0.8h-0.8zM94.2 512.2h0.8v0.8h-0.8zM85.1 516.6h0.8v0.8h-0.8zM77.0 519.3h0.8v0.8h-0.8zM98.6 505.7h0.8v0.8h-0.8zM89.7 514.8h0.8v0.8h-0.8zM74.2 514.0h0.8v0.8h-0.8zM78.2 500.9h0.8v0.8h-0.8zM71.7 506.6h0.8v0.8h-0.8zM89.5 500.5h0.8v0.8h-0.8zM89.4 515.7h0.8v0.8h-0.8zM79.1 501.4h0.8v0.8h-0.8zM71.9 509.9h0.8v0.8h-0.8zM85.8 516.1h0.8v0.8h-0.8zM84.9 500.1h0.8v0.8h-0.8zM75.5 503.4h0.8v0.8h-0.8zM72.5 505.2h0.8v0.8h-0.8zM76.8 503.2h0.8v0.8h-0.8zM74.2 504.6h0.8v0.8h-0.8zM71.8 508.0h0.8v0.8h-0.8zM86.8 515.0h0.8v0.8h-0.8zM84.9 518.8h0.8v0.8h-0.8zM87.8 499.9h0.8v0.8h-0.8zM78.2 502.8h0.8v0.8h-0.8zM94.1 496.9h0.8v0.8h-0.8zM99.8 496.4h0.8v0.8h-0.8zM99.2 503.1h0.8v0.8h-0.8zM96.6 495.9h0.8v0.8h-0.8zM94.2 496.8h0.8v0.8h-0.8zM100.0 496.0h0.8v0.8h-0.8zM99.3 496.1h0.8v0.8h-0.8zM98.3 505.0h0.8v0.8h-0.8zM94.8 496.9h0.8v0.8h-0.8zM99.7 496.6h0.8v0.8h-0.8zM91.5 500.5h0.8v0.8h-0.8zM86.8 515.1h0.8v0.8h-0.8zM85.3 517.2h0.8v0.8h-0.8zM78.6 518.8h0.8v0.8h-0.8zM72.7 509.8h0.8v0.8h-0.8zM73.2 510.2h0.8v0.8h-0.8zM76.4 519.6h0.8v0.8h-0.8zM75.9 517.8h0.8v0.8h-0.8zM77.2 519.2h0.8v0.8h-0.8zM81.8 518.0h0.8v0.8h-0.8zM79.1 501.1h0.8v0.8h-0.8zM83.0 500.6h0.8v0.8h-0.8zM82.3 518.4h0.8v0.8h-0.8zM79.6 500.9h0.8v0.8h-0.8zM71.8 507.4h0.8v0.8h-0.8zM72.3 514.6h0.8v0.8h-0.8zM82.8 518.0h0.8v0.8h-0.8zM72.0 509.2h0.8v0.8h-0.8zM79.2 518.1h0.8v0.8h-0.8zM78.5 519.0h0.8v0.8h-0.8zM89.8 514.9h0.8v0.8h-0.8zM71.1 508.2h0.8v0.8h-0.8zM82.1 517.1h0.8v0.8h-0.8zM71.9 513.6h0.8v0.8h-0.8zM72.4 513.1h0.8v0.8h-0.8zM96.8 508.8h0.8v0.8h-0.8zM82.7 516.9h0.8v0.8h-0.8zM88.8 515.9h0.8v0.8h-0.8zM85.9 516.2h0.8v0.8h-0.8zM75.9 518.1h0.8v0.8h-0.8zM94.0 513.7h0.8v0.8h-0.8zM79.1 519.2h0.8v0.8h-0.8zM71.6 506.9h0.8v0.8h-0.8zM74.7 517.1h0.8v0.8h-0.8zM72.1 506.2h0.8v0.8h-0.8zM72.5 514.3h0.8v0.8h-0.8zM81.4 517.0h0.8v0.8h-0.8zM74.0 515.1h0.8v0.8h-0.8zM72.2 510.5h0.8v0.8h-0.8zM74.8 504.3h0.8v0.8h-0.8zM83.8 517.4h0.8v0.8h-0.8zM92.2 513.4h0.8v0.8h-0.8zM77.3 502.2h0.8v0.8h-0.8zM76.9 502.9h0.8v0.8h-0.8zM71.4 509.5h0.8v0.8h-0.8zM78.9 501.0h0.8v0.8h-0.8zM73.7 514.6h0.8v0.8h-0.8zM78.9 519.3h0.8v0.8h-0.8zM76.9 501.9h0.8v0.8h-0.8zM75.8 517.1h0.8v0.8h-0.8zM88.1 500.2h0.8v0.8h-0.8zM79.7 501.7h0.8v0.8h-0.8zM73.8 509.1h0.8v0.8h-0.8zM92.2 513.5h0.8v0.8h-0.8zM72.1 513.8h0.8v0.8h-0.8zM81.9 518.4h0.8v0.8h-0.8zM84.2 519.2h0.8v0.8h-0.8zM78.2 518.2h0.8v0.8h-0.8zM91.1 500.0h0.8v0.8h-0.8zM74.3 516.0h0.8v0.8h-0.8zM74.9 516.3h0.8v0.8h-0.8zM84.1 516.9h0.8v0.8h-0.8zM79.4 518.8h0.8v0.8h-0.8zM77.4 501.1h0.8v0.8h-0.8zM78.5 500.8h0.8v0.8h-0.8zM74.4 504.8h0.8v0.8h-0.8zM91.9 514.6h0.8v0.8h-0.8zM71.8 510.0h0.8v0.8h-0.8zM71.3 506.0h0.8v0.8h-0.8zM95.2 510.3h0.8v0.8h-0.8zM75.5 518.3h0.8v0.8h-0.8zM85.9 517.2h0.8v0.8h-0.8zM86.7 515.8h0.8v0.8h-0.8zM75.7 517.9h0.8v0.8h-0.8zM77.3 518.7h0.8v0.8h-0.8zM73.1 505.7h0.8v0.8h-0.8zM80.1 517.7h0.8v0.8h-0.8zM80.0 517.8h0.8v0.8h-0.8zM75.9 503.2h0.8v0.8h-0.8zM84.7 519.7h0.8v0.8h-0.8zM72.0 509.4h0.8v0.8h-0.8zM77.7 518.1h0.8v0.8h-0.8zM76.4 503.3h0.8v0.8h-0.8zM87.6 499.8h0.8v0.8h-0.8zM74.5 504.7h0.8v0.8h-0.8zM90.1 514.2h0.8v0.8h-0.8zM76.2 519.0h0.8v0.8h-0.8zM73.9 515.1h0.8v0.8h-0.8zM78.3 519.9h0.8v0.8h-0.8zM73.4 511.6h0.8v0.8h-0.8zM72.8 514.4h0.8v0.8h-0.8zM72.3 513.5h0.8v0.8h-0.8zM73.7 510.1h0.8v0.8h-0.8zM71.5 508.4h0.8v0.8h-0.8zM82.7 518.6h0.8v0.8h-0.8zM92.2 513.5h0.8v0.8h-0.8zM76.8 502.8h0.8v0.8h-0.8zM81.3 518.8h0.8v0.8h-0.8zM72.2 513.3h0.8v0.8h-0.8zM83.8 517.4h0.8v0.8h-0.8zM91.9 513.6h0.8v0.8h-0.8zM71.6 509.7h0.8v0.8h-0.8z"/><path fill="rgb(10, 155, 241)" d="M78.8 516.3h0.8v0.8h-0.8zM85.0 501.4h0.8v0.8h-0.8zM87.8 500.8h0.8v0.8h-0.8zM91.7 500.9h0.8v0.8h-0.8zM99.6 496.8h0.8v0.8h-0.8zM87.8 501.0h0.8v0.8h-0.8zM72.0 507.9h0.8v0.8h-0.8zM95.0 510.7h0.8v0.8h-0.8zM76.8 503.8h0.8v0.8h-0.8zM78.2 516.7h0.8v0.8h-0.8zM84.6 501.1h0.8v0.8h-0.8zM91.4 512.4h0.8v0.8h-0.8zM91.2 512.1h0.8v0.8h-0.8zM80.3 516.7h0.8v0.8h-0.8zM93.1 510.9h0.8v0.8h-0.8zM81.8 516.0h0.8v0.8h-0.8zM84.2 501.4h0.8v0.8h-0.8zM75.1 516.7h0.8v0.8h-0.8zM84.9 501.5h0.8v0.8h-0.8zM79.8 516.4h0.8v0.8h-0.8zM77.8 504.3h0.8v0.8h-0.8zM73.9 505.6h0.8v0.8h-0.8zM74.9 505.1h0.8v0.8h-0.8zM73.8 507.0h0.8v0.8h-0.8zM93.5 511.6h0.8v0.8h-0.8zM89.8 500.8h0.8v0.8h-0.8zM78.1 517.4h0.8v0.8h-0.8zM73.7 507.9h0.8v0.8h-0.8zM84.5 515.5h0.8v0.8h-0.8zM73.4 508.6h0.8v0.8h-0.8zM77.8 516.9h0.8v0.8h-0.8zM86.3 500.9h0.8v0.8h-0.8zM88.2 514.5h0.8v0.8h-0.8zM89.5 513.0h0.8v0.8h-0.8zM76.1 505.7h0.8v0.8h-0.8zM97.5 506.0h0.8v0.8h-0.8zM74.6 507.0h0.8v0.8h-0.8zM92.0 501.0h0.8v0.8h-0.8zM97.1 508.6h0.8v0.8h-0.8zM86.6 501.0h0.8v0.8h-0.8zM74.9 504.8h0.8v0.8h-0.8zM76.5 514.1h0.8v0.8h-0.8zM94.9 510.6h0.8v0.8h-0.8zM73.9 506.2h0.8v0.8h-0.8zM75.1 506.2h0.8v0.8h-0.8zM88.4 514.1h0.8v0.8h-0.8zM88.7 501.5h0.8v0.8h-0.8zM94.7 511.1h0.8v0.8h-0.8zM78.5 503.7h0.8v0.8h-0.8zM90.9 513.8h0.8v0.8h-0.8zM93.7 511.5h0.8v0.8h-0.8zM74.2 505.8h0.8v0.8h-0.8zM74.8 507.3h0.8v0.8h-0.8zM97.7 505.8h0.8v0.8h-0.8zM93.5 512.0h0.8v0.8h-0.8zM74.9 504.9h0.8v0.8h-0.8zM94.7 509.9h0.8v0.8h-0.8zM84.5 500.9h0.8v0.8h-0.8zM91.4 512.5h0.8v0.8h-0.8zM76.4 517.9h0.8v0.8h-0.8zM74.5 510.3h0.8v0.8h-0.8zM80.5 501.9h0.8v0.8h-0.8zM87.6 514.3h0.8v0.8h-0.8zM76.1 505.6h0.8v0.8h-0.8zM74.7 510.9h0.8v0.8h-0.8zM80.4 516.7h0.8v0.8h-0.8zM72.3 507.7h0.8v0.8h-0.8zM91.3 512.1h0.8v0.8h-0.8zM91.4 512.5h0.8v0.8h-0.8zM78.5 516.7h0.8v0.8h-0.8zM84.9 515.4h0.8v0.8h-0.8zM80.7 502.6h0.8v0.8h-0.8zM88.8 501.4h0.8v0.8h-0.8zM80.2 502.6h0.8v0.8h-0.8zM90.1 501.6h0.8v0.8h-0.8zM73.2 506.9h0.8v0.8h-0.8zM85.9 515.4h0.8v0.8h-0.8zM86.0 501.6h0.8v0.8h-0.8zM80.0 502.3h0.8v0.8h-0.8zM74.4 512.6h0.8v0.8h-0.8zM93.7 510.9h0.8v0.8h-0.8zM89.3 501.0h0.8v0.8h-0.8zM85.9 501.2h0.8v0.8h-0.8zM76.9 503.6h0.8v0.8h-0.8zM77.0 517.7h0.8v0.8h-0.8zM82.2 516.6h0.8v0.8h-0.8zM100.0 501.2h0.8v0.8h-0.8zM87.7 501.7h0.8v0.8h-0.8zM88.1 501.2h0.8v0.8h-0.8zM97.4 507.2h0.8v0.8h-0.8zM78.5 502.8h0.8v0.8h-0.8zM91.4 501.2h0.8v0.8h-0.8zM72.6 508.7h0.8v0.8h-0.8zM72.2 508.7h0.8v0.8h-0.8zM73.8 506.1h0.8v0.8h-0.8zM76.8 514.4h0.8v0.8h-0.8zM82.7 516.5h0.8v0.8h-0.8zM89.3 501.6h0.8v0.8h-0.8zM74.1 511.5h0.8v0.8h-0.8zM89.5 501.1h0.8v0.8h-0.8zM93.4 511.0h0.8v0.8h-0.8zM84.9 501.5h0.8v0.8h-0.8zM77.4 504.7h0.8v0.8h-0.8zM74.6 510.1h0.8v0.8h-0.8zM76.6 516.2h0.8v0.8h-0.8zM95.8 508.9h0.8v0.8h-0.8zM78.8 516.5h0.8v0.8h-0.8zM73.8 507.2h0.8v0.8h-0.8zM95.8 509.7h0.8v0.8h-0.8zM97.7 507.3h0.8v0.8h-0.8zM74.7 511.0h0.8v0.8h-0.8zM76.2 516.7h0.8v0.8h-0.8zM97.2 507.5h0.8v0.8h-0.8zM89.2 513.0h0.8v0.8h-0.8zM74.8 506.3h0.8v0.8h-0.8zM73.7 508.7h0.8v0.8h-0.8zM94.7 510.3h0.8v0.8h-0.8zM84.7 515.7h0.8v0.8h-0.8zM76.3 504.0h0.8v0.8h-0.8zM73.4 506.5h0.8v0.8h-0.8zM99.3 498.7h0.8v0.8h-0.8zM94.5 510.2h0.8v0.8h-0.8zM75.9 516.9h0.8v0.8h-0.8zM81.6 516.4h0.8v0.8h-0.8zM75.8 506.8h0.8v0.8h-0.8zM94.0 512.8h0.8v0.8h-0.8zM72.3 507.5h0.8v0.8h-0.8zM74.9 516.6h0.8v0.8h-0.8zM82.8 515.9h0.8v0.8h-0.8zM84.1 501.7h0.8v0.8h-0.8zM93.4 511.1h0.8v0.8h-0.8zM74.3 509.0h0.8v0.8h-0.8zM91.9 501.7h0.8v0.8h-0.8zM90.6 501.4h0.8v0.8h-0.8zM86.7 500.9h0.8v0.8h-0.8zM91.5 501.3h0.8v0.8h-0.8zM84.8 501.7h0.8v0.8h-0.8zM89.5 501.2h0.8v0.8h-0.8zM95.0 510.2h0.8v0.8h-0.8zM90.1 513.4h0.8v0.8h-0.8zM75.1 516.6h0.8v0.8h-0.8zM77.6 504.5h0.8v0.8h-0.8zM73.7 508.0h0.8v0.8h-0.8zM93.9 512.4h0.8v0.8h-0.8zM92.2 512.2h0.8v0.8h-0.8zM83.6 516.7h0.8v0.8h-0.8zM87.4 514.6h0.8v0.8h-0.8zM90.2 501.6h0.8v0.8h-0.8zM79.6 516.1h0.8v0.8h-0.8zM74.7 511.7h0.8v0.8h-0.8zM93.7 512.2h0.8v0.8h-0.8zM78.1 503.7h0.8v0.8h-0.8zM96.9 508.3h0.8v0.8h-0.8zM88.7 514.7h0.8v0.8h-0.8zM74.4 509.2h0.8v0.8h-0.8zM75.2 513.3h0.8v0.8h-0.8zM87.7 514.8h0.8v0.8h-0.8zM80.3 502.2h0.8v0.8h-0.8zM84.1 515.1h0.8v0.8h-0.8zM73.2 506.6h0.8v0.8h-0.8zM75.5 506.7h0.8v0.8h-0.8zM95.2 509.2h0.8v0.8h-0.8zM74.8 511.3h0.8v0.8h-0.8zM80.4 516.3h0.8v0.8h-0.8zM76.7 516.6h0.8v0.8h-0.8zM82.2 516.2h0.8v0.8h-0.8zM74.7 510.8h0.8v0.8h-0.8zM86.8 500.8h0.8v0.8h-0.8zM92.7 512.6h0.8v0.8h-0.8zM98.7 496.4h0.8v0.8h-0.8zM94.0 499.0h0.8v0.8h-0.8zM99.4 501.0h0.8v0.8h-0.8zM99.2 501.0h0.8v0.8h-0.8zM99.4 497.9h0.8v0.8h-0.8zM95.3 497.5h0.8v0.8h-0.8zM97.3 496.4h0.8v0.8h-0.8zM97.6 496.1h0.8v0.8h-0.8zM99.4 497.9h0.8v0.8h-0.8zM98.4 496.6h0.8v0.8h-0.8zM97.2 505.8h0.8v0.8h-0.8zM99.3 501.4h0.8v0.8h-0.8zM99.3 500.1h0.8v0.8h-0.8zM99.4 500.5h0.8v0.8h-0.8zM99.2 501.1h0.8v0.8h-0.8zM99.1 500.0h0.8v0.8h-0.8zM99.2 500.8h0.8v0.8h-0.8zM97.8 496.6h0.8v0.8h-0.8zM99.3 499.5h0.8v0.8h-0.8zM99.9 498.7h0.8v0.8h-0.8zM97.3 496.0h0.8v0.8h-0.8zM99.2 501.3h0.8v0.8h-0.8zM98.5 496.0h0.8v0.8h-0.8zM96.8 508.2h0.8v0.8h-0.8zM99.9 497.5h0.8v0.8h-0.8zM97.8 496.5h0.8v0.8h-0.8zM99.5 499.0h0.8v0.8h-0.8zM99.4 500.0h0.8v0.8h-0.8zM94.9 498.6h0.8v0.8h-0.8zM93.5 512.4h0.8v0.8h-0.8zM74.1 507.1h0.8v0.8h-0.8zM76.7 504.8h0.8v0.8h-0.8zM76.7 516.2h0.8v0.8h-0.8zM76.3 517.4h0.8v0.8h-0.8zM74.8 507.9h0.8v0.8h-0.8zM92.8 512.4h0.8v0.8h-0.8zM76.8 515.1h0.8v0.8h-0.8zM89.6 513.5h0.8v0.8h-0.8zM75.7 515.5h0.8v0.8h-0.8zM74.7 505.8h0.8v0.8h-0.8zM92.9 512.2h0.8v0.8h-0.8zM76.7 514.5h0.8v0.8h-0.8zM89.9 501.3h0.8v0.8h-0.8zM78.3 517.8h0.8v0.8h-0.8zM76.7 515.4h0.8v0.8h-0.8zM83.6 516.3h0.8v0.8h-0.8zM74.9 512.7h0.8v0.8h-0.8zM74.3 512.0h0.8v0.8h-0.8zM73.4 506.5h0.8v0.8h-0.8zM75.2 515.5h0.8v0.8h-0.8zM97.8 507.3h0.8v0.8h-0.8zM74.8 505.1h0.8v0.8h-0.8zM74.7 512.8h0.8v0.8h-0.8zM74.4 511.5h0.8v0.8h-0.8zM79.1 516.0h0.8v0.8h-0.8zM81.9 516.2h0.8v0.8h-0.8zM97.7 506.9h0.8v0.8h-0.8zM74.2 507.2h0.8v0.8h-0.8zM77.0 517.8h0.8v0.8h-0.8zM79.4 516.0h0.8v0.8h-0.8zM80.5 515.9h0.8v0.8h-0.8zM87.1 500.8h0.8v0.8h-0.8zM73.6 507.3h0.8v0.8h-0.8zM72.0 508.7h0.8v0.8h-0.8zM74.6 507.4h0.8v0.8h-0.8zM76.9 504.4h0.8v0.8h-0.8zM74.1 509.1h0.8v0.8h-0.8zM74.6 511.5h0.8v0.8h-0.8zM76.1 516.3h0.8v0.8h-0.8zM88.6 514.4h0.8v0.8h-0.8zM78.6 517.0h0.8v0.8h-0.8zM72.0 508.5h0.8v0.8h-0.8zM92.2 512.3h0.8v0.8h-0.8zM76.8 505.5h0.8v0.8h-0.8zM78.5 517.2h0.8v0.8h-0.8zM88.7 501.1h0.8v0.8h-0.8zM72.7 507.5h0.8v0.8h-0.8zM80.9 502.1h0.8v0.8h-0.8zM82.0 516.4h0.8v0.8h-0.8zM77.5 516.5h0.8v0.8h-0.8zM82.9 516.0h0.8v0.8h-0.8zM81.6 516.1h0.8v0.8h-0.8zM83.7 516.4h0.8v0.8h-0.8zM75.4 516.1h0.8v0.8h-0.8zM74.5 505.1h0.8v0.8h-0.8zM76.9 515.4h0.8v0.8h-0.8zM83.2 516.1h0.8v0.8h-0.8zM73.6 506.2h0.8v0.8h-0.8zM77.8 517.6h0.8v0.8h-0.8zM87.4 514.1h0.8v0.8h-0.8zM78.2 516.3h0.8v0.8h-0.8zM74.4 507.6h0.8v0.8h-0.8zM75.0 515.9h0.8v0.8h-0.8zM77.9 517.2h0.8v0.8h-0.8zM75.6 513.1h0.8v0.8h-0.8zM76.0 516.5h0.8v0.8h-0.8zM75.1 516.6h0.8v0.8h-0.8zM78.2 516.8h0.8v0.8h-0.8zM90.5 501.7h0.8v0.8h-0.8zM75.7 515.5h0.8v0.8h-0.8z"/><path fill="rgb(0, 186, 235)" d="M88.3 501.9h0.8v0.8h-0.8zM77.0 515.9h0.8v0.8h-0.8zM86.6 514.6h0.8v0.8h-0.8zM78.9 514.8h0.8v0.8h-0.8zM97.8 505.3h0.8v0.8h-0.8zM92.8 511.5h0.8v0.8h-0.8zM89.0 501.9h0.8v0.8h-0.8zM81.4 514.9h0.8v0.8h-0.8zM89.6 511.9h0.8v0.8h-0.8zM75.5 512.2h0.8v0.8h-0.8zM82.7 501.8h0.8v0.8h-0.8zM95.7 508.2h0.8v0.8h-0.8zM75.9 510.1h0.8v0.8h-0.8zM97.3 497.3h0.8v0.8h-0.8zM77.5 513.6h0.8v0.8h-0.8zM77.0 505.2h0.8v0.8h-0.8zM79.9 503.0h0.8v0.8h-0.8zM93.4 499.8h0.8v0.8h-0.8zM86.2 514.0h0.8v0.8h-0.8zM77.5 513.7h0.8v0.8h-0.8zM75.7 510.1h0.8v0.8h-0.8zM75.2 509.4h0.8v0.8h-0.8zM87.6 513.4h0.8v0.8h-0.8zM89.5 502.4h0.8v0.8h-0.8zM92.5 511.6h0.8v0.8h-0.8zM94.2 508.9h0.8v0.8h-0.8zM80.9 502.8h0.8v0.8h-0.8zM81.2 514.9h0.8v0.8h-0.8zM94.0 510.5h0.8v0.8h-0.8zM78.6 515.2h0.8v0.8h-0.8zM80.0 503.4h0.8v0.8h-0.8zM88.6 502.4h0.8v0.8h-0.8zM80.6 502.9h0.8v0.8h-0.8zM78.1 504.7h0.8v0.8h-0.8zM79.5 503.3h0.8v0.8h-0.8zM78.8 514.9h0.8v0.8h-0.8zM78.1 504.7h0.8v0.8h-0.8zM78.1 515.4h0.8v0.8h-0.8zM98.3 502.6h0.8v0.8h-0.8zM83.3 501.8h0.8v0.8h-0.8zM94.3 508.9h0.8v0.8h-0.8zM96.5 507.1h0.8v0.8h-0.8zM93.4 510.6h0.8v0.8h-0.8zM80.0 515.6h0.8v0.8h-0.8zM81.9 502.5h0.8v0.8h-0.8zM76.0 513.0h0.8v0.8h-0.8zM93.0 511.4h0.8v0.8h-0.8zM93.9 500.4h0.8v0.8h-0.8zM79.8 503.2h0.8v0.8h-0.8zM77.5 514.2h0.8v0.8h-0.8zM82.8 502.5h0.8v0.8h-0.8zM88.6 512.9h0.8v0.8h-0.8zM77.8 515.5h0.8v0.8h-0.8zM99.1 502.3h0.8v0.8h-0.8zM87.0 513.1h0.8v0.8h-0.8zM87.8 502.2h0.8v0.8h-0.8zM83.3 502.4h0.8v0.8h-0.8zM75.8 509.6h0.8v0.8h-0.8zM78.8 504.6h0.8v0.8h-0.8zM92.3 501.1h0.8v0.8h-0.8zM96.3 507.3h0.8v0.8h-0.8zM89.1 512.1h0.8v0.8h-0.8zM77.3 513.1h0.8v0.8h-0.8zM75.4 507.3h0.8v0.8h-0.8zM93.8 510.6h0.8v0.8h-0.8zM75.6 512.0h0.8v0.8h-0.8zM82.6 515.5h0.8v0.8h-0.8zM85.5 514.3h0.8v0.8h-0.8zM93.4 510.4h0.8v0.8h-0.8zM79.8 504.4h0.8v0.8h-0.8zM82.4 502.0h0.8v0.8h-0.8zM77.1 515.8h0.8v0.8h-0.8zM81.1 502.5h0.8v0.8h-0.8zM83.6 515.4h0.8v0.8h-0.8zM95.6 508.4h0.8v0.8h-0.8zM78.9 503.9h0.8v0.8h-0.8zM80.8 502.8h0.8v0.8h-0.8zM78.9 513.9h0.8v0.8h-0.8zM80.1 514.9h0.8v0.8h-0.8zM75.6 508.1h0.8v0.8h-0.8zM81.5 515.4h0.8v0.8h-0.8zM76.9 506.4h0.8v0.8h-0.8zM77.6 505.5h0.8v0.8h-0.8zM85.0 514.4h0.8v0.8h-0.8zM75.3 511.3h0.8v0.8h-0.8zM85.7 514.4h0.8v0.8h-0.8zM82.3 502.0h0.8v0.8h-0.8zM77.2 515.7h0.8v0.8h-0.8zM77.1 505.1h0.8v0.8h-0.8zM75.5 509.6h0.8v0.8h-0.8zM80.9 502.9h0.8v0.8h-0.8zM80.9 502.4h0.8v0.8h-0.8zM82.8 502.0h0.8v0.8h-0.8zM78.6 515.5h0.8v0.8h-0.8zM95.2 498.2h0.8v0.8h-0.8zM75.4 508.4h0.8v0.8h-0.8zM87.7 501.8h0.8v0.8h-0.8zM77.5 505.2h0.8v0.8h-0.8zM77.8 513.3h0.8v0.8h-0.8zM91.6 511.0h0.8v0.8h-0.8zM89.3 512.5h0.8v0.8h-0.8zM88.1 512.9h0.8v0.8h-0.8zM87.3 513.5h0.8v0.8h-0.8zM77.1 515.5h0.8v0.8h-0.8zM92.9 501.2h0.8v0.8h-0.8zM89.2 502.6h0.8v0.8h-0.8zM82.4 502.4h0.8v0.8h-0.8zM76.2 513.6h0.8v0.8h-0.8zM91.8 511.3h0.8v0.8h-0.8zM81.8 502.3h0.8v0.8h-0.8zM89.4 501.8h0.8v0.8h-0.8zM85.6 514.7h0.8v0.8h-0.8zM81.5 515.0h0.8v0.8h-0.8zM83.4 501.9h0.8v0.8h-0.8zM79.9 503.8h0.8v0.8h-0.8zM96.1 507.2h0.8v0.8h-0.8zM92.8 511.7h0.8v0.8h-0.8zM78.8 514.6h0.8v0.8h-0.8zM75.1 508.9h0.8v0.8h-0.8zM77.3 505.3h0.8v0.8h-0.8zM75.3 510.8h0.8v0.8h-0.8zM96.1 507.7h0.8v0.8h-0.8zM88.8 513.8h0.8v0.8h-0.8zM76.4 506.5h0.8v0.8h-0.8zM91.9 511.6h0.8v0.8h-0.8zM81.6 515.6h0.8v0.8h-0.8zM76.0 513.3h0.8v0.8h-0.8zM75.6 509.5h0.8v0.8h-0.8zM75.7 510.9h0.8v0.8h-0.8zM94.8 509.8h0.8v0.8h-0.8zM98.6 497.2h0.8v0.8h-0.8zM98.9 497.6h0.8v0.8h-0.8zM97.4 497.2h0.8v0.8h-0.8zM97.4 497.6h0.8v0.8h-0.8zM98.7 497.4h0.8v0.8h-0.8zM95.1 508.4h0.8v0.8h-0.8zM98.7 496.9h0.8v0.8h-0.8zM95.6 498.1h0.8v0.8h-0.8zM95.3 498.7h0.8v0.8h-0.8zM98.8 497.6h0.8v0.8h-0.8zM95.7 498.7h0.8v0.8h-0.8zM98.9 497.7h0.8v0.8h-0.8zM96.7 507.6h0.8v0.8h-0.8zM96.0 498.1h0.8v0.8h-0.8zM97.4 505.1h0.8v0.8h-0.8zM93.9 510.3h0.8v0.8h-0.8zM92.8 501.4h0.8v0.8h-0.8zM98.4 502.2h0.8v0.8h-0.8zM95.3 497.9h0.8v0.8h-0.8zM98.1 497.7h0.8v0.8h-0.8zM96.6 497.7h0.8v0.8h-0.8zM96.6 496.8h0.8v0.8h-0.8zM95.4 498.1h0.8v0.8h-0.8zM97.4 497.1h0.8v0.8h-0.8zM96.1 507.7h0.8v0.8h-0.8zM97.5 497.5h0.8v0.8h-0.8zM95.2 507.9h0.8v0.8h-0.8zM98.7 502.1h0.8v0.8h-0.8zM96.4 506.9h0.8v0.8h-0.8zM89.9 512.0h0.8v0.8h-0.8zM95.7 508.4h0.8v0.8h-0.8zM96.5 496.9h0.8v0.8h-0.8zM98.9 497.7h0.8v0.8h-0.8zM83.2 515.6h0.8v0.8h-0.8zM76.5 512.9h0.8v0.8h-0.8zM75.1 511.2h0.8v0.8h-0.8zM75.1 512.2h0.8v0.8h-0.8zM82.3 501.8h0.8v0.8h-0.8zM98.9 502.7h0.8v0.8h-0.8zM93.4 510.1h0.8v0.8h-0.8zM77.0 513.9h0.8v0.8h-0.8zM80.0 503.8h0.8v0.8h-0.8zM76.3 513.2h0.8v0.8h-0.8zM78.2 504.7h0.8v0.8h-0.8zM77.4 515.2h0.8v0.8h-0.8zM75.6 508.3h0.8v0.8h-0.8zM93.8 510.0h0.8v0.8h-0.8zM77.6 514.5h0.8v0.8h-0.8zM76.6 513.1h0.8v0.8h-0.8zM81.4 515.0h0.8v0.8h-0.8zM95.8 508.3h0.8v0.8h-0.8zM77.4 515.7h0.8v0.8h-0.8zM75.1 510.0h0.8v0.8h-0.8zM83.0 515.4h0.8v0.8h-0.8zM75.4 512.8h0.8v0.8h-0.8zM75.2 509.7h0.8v0.8h-0.8zM88.2 512.9h0.8v0.8h-0.8zM81.8 502.4h0.8v0.8h-0.8zM75.4 511.4h0.8v0.8h-0.8zM83.0 515.6h0.8v0.8h-0.8zM75.5 511.7h0.8v0.8h-0.8zM78.2 515.4h0.8v0.8h-0.8zM83.2 502.7h0.8v0.8h-0.8zM77.9 515.7h0.8v0.8h-0.8zM93.0 501.6h0.8v0.8h-0.8zM75.8 508.7h0.8v0.8h-0.8zM79.9 515.1h0.8v0.8h-0.8zM76.4 513.0h0.8v0.8h-0.8zM83.4 515.1h0.8v0.8h-0.8zM79.8 502.8h0.8v0.8h-0.8zM90.5 512.1h0.8v0.8h-0.8zM75.3 506.9h0.8v0.8h-0.8zM76.4 506.2h0.8v0.8h-0.8zM79.5 504.7h0.8v0.8h-0.8zM75.8 512.6h0.8v0.8h-0.8zM86.8 514.7h0.8v0.8h-0.8zM83.0 502.1h0.8v0.8h-0.8zM80.7 515.6h0.8v0.8h-0.8z"/><path fill="rgb(12, 199, 198)" d="M86.8 502.5h0.8v0.8h-0.8zM83.5 514.1h0.8v0.8h-0.8zM94.4 508.2h0.8v0.8h-0.8zM81.2 502.8h0.8v0.8h-0.8zM91.1 502.5h0.8v0.8h-0.8zM78.4 505.8h0.8v0.8h-0.8zM76.7 509.6h0.8v0.8h-0.8zM77.6 507.5h0.8v0.8h-0.8zM80.2 504.0h0.8v0.8h-0.8zM86.2 513.0h0.8v0.8h-0.8zM79.2 505.0h0.8v0.8h-0.8zM80.1 503.9h0.8v0.8h-0.8zM95.6 507.0h0.8v0.8h-0.8zM94.6 508.1h0.8v0.8h-0.8zM96.5 506.1h0.8v0.8h-0.8zM94.8 507.9h0.8v0.8h-0.8zM76.1 510.2h0.8v0.8h-0.8zM86.3 513.7h0.8v0.8h-0.8zM81.2 503.1h0.8v0.8h-0.8zM79.3 513.7h0.8v0.8h-0.8zM77.6 506.2h0.8v0.8h-0.8zM76.5 508.7h0.8v0.8h-0.8zM94.8 499.7h0.8v0.8h-0.8zM82.7 514.3h0.8v0.8h-0.8zM88.1 512.5h0.8v0.8h-0.8zM77.5 506.5h0.8v0.8h-0.8zM90.2 502.7h0.8v0.8h-0.8zM76.4 506.9h0.8v0.8h-0.8zM76.8 507.0h0.8v0.8h-0.8zM88.8 512.1h0.8v0.8h-0.8zM88.9 512.2h0.8v0.8h-0.8zM78.1 507.0h0.8v0.8h-0.8zM76.8 512.6h0.8v0.8h-0.8zM80.8 514.5h0.8v0.8h-0.8zM79.5 514.5h0.8v0.8h-0.8zM78.8 513.0h0.8v0.8h-0.8zM85.5 502.2h0.8v0.8h-0.8zM77.0 512.5h0.8v0.8h-0.8zM88.7 512.6h0.8v0.8h-0.8zM86.7 513.5h0.8v0.8h-0.8zM97.3 504.0h0.8v0.8h-0.8zM81.0 503.4h0.8v0.8h-0.8zM90.3 501.8h0.8v0.8h-0.8zM95.1 507.3h0.8v0.8h-0.8zM98.8 499.8h0.8v0.8h-0.8zM78.5 513.7h0.8v0.8h-0.8zM76.1 507.3h0.8v0.8h-0.8zM76.2 512.2h0.8v0.8h-0.8zM76.5 507.3h0.8v0.8h-0.8zM92.3 509.9h0.8v0.8h-0.8zM81.3 502.8h0.8v0.8h-0.8zM78.9 505.3h0.8v0.8h-0.8zM83.6 514.3h0.8v0.8h-0.8zM77.3 507.3h0.8v0.8h-0.8zM78.8 506.4h0.8v0.8h-0.8zM76.2 508.4h0.8v0.8h-0.8zM80.4 513.9h0.8v0.8h-0.8zM79.2 514.7h0.8v0.8h-0.8zM78.4 507.5h0.8v0.8h-0.8zM90.8 502.6h0.8v0.8h-0.8zM79.0 506.7h0.8v0.8h-0.8zM76.4 507.1h0.8v0.8h-0.8zM83.4 513.9h0.8v0.8h-0.8zM88.3 512.7h0.8v0.8h-0.8zM79.1 506.4h0.8v0.8h-0.8zM79.6 505.8h0.8v0.8h-0.8zM80.2 504.5h0.8v0.8h-0.8zM79.6 506.0h0.8v0.8h-0.8zM78.6 507.6h0.8v0.8h-0.8zM90.1 511.6h0.8v0.8h-0.8zM80.4 514.2h0.8v0.8h-0.8zM85.1 502.5h0.8v0.8h-0.8zM93.3 509.7h0.8v0.8h-0.8zM92.1 510.8h0.8v0.8h-0.8zM88.5 512.4h0.8v0.8h-0.8zM79.8 513.8h0.8v0.8h-0.8zM77.7 507.5h0.8v0.8h-0.8zM76.7 508.3h0.8v0.8h-0.8zM76.3 507.8h0.8v0.8h-0.8zM77.2 512.5h0.8v0.8h-0.8zM77.9 511.9h0.8v0.8h-0.8zM80.6 504.7h0.8v0.8h-0.8zM76.2 508.5h0.8v0.8h-0.8zM76.0 508.8h0.8v0.8h-0.8zM77.3 507.5h0.8v0.8h-0.8zM81.3 503.4h0.8v0.8h-0.8zM78.4 505.3h0.8v0.8h-0.8zM76.5 507.9h0.8v0.8h-0.8zM77.7 505.8h0.8v0.8h-0.8zM76.5 509.2h0.8v0.8h-0.8zM84.4 502.0h0.8v0.8h-0.8zM78.6 507.1h0.8v0.8h-0.8zM90.4 511.1h0.8v0.8h-0.8zM78.1 507.1h0.8v0.8h-0.8zM85.0 514.0h0.8v0.8h-0.8zM79.9 506.3h0.8v0.8h-0.8zM86.6 501.8h0.8v0.8h-0.8zM86.8 502.4h0.8v0.8h-0.8zM91.1 502.6h0.8v0.8h-0.8zM76.0 508.1h0.8v0.8h-0.8zM86.7 502.7h0.8v0.8h-0.8zM77.0 507.7h0.8v0.8h-0.8zM90.6 511.4h0.8v0.8h-0.8zM90.2 511.1h0.8v0.8h-0.8zM80.2 514.4h0.8v0.8h-0.8zM90.9 510.9h0.8v0.8h-0.8zM83.4 514.6h0.8v0.8h-0.8zM94.3 498.8h0.8v0.8h-0.8zM79.3 505.1h0.8v0.8h-0.8zM77.5 512.4h0.8v0.8h-0.8zM97.2 504.7h0.8v0.8h-0.8zM76.9 512.8h0.8v0.8h-0.8zM78.8 513.5h0.8v0.8h-0.8zM79.2 513.0h0.8v0.8h-0.8zM75.9 511.7h0.8v0.8h-0.8zM76.1 508.0h0.8v0.8h-0.8zM78.1 512.1h0.8v0.8h-0.8zM77.2 507.7h0.8v0.8h-0.8zM79.6 514.8h0.8v0.8h-0.8zM76.8 510.7h0.8v0.8h-0.8zM79.9 506.4h0.8v0.8h-0.8zM76.1 508.0h0.8v0.8h-0.8zM80.1 514.2h0.8v0.8h-0.8zM85.7 502.0h0.8v0.8h-0.8zM79.3 505.7h0.8v0.8h-0.8zM80.0 514.6h0.8v0.8h-0.8zM78.0 507.4h0.8v0.8h-0.8zM77.5 507.3h0.8v0.8h-0.8zM83.5 514.5h0.8v0.8h-0.8zM77.9 505.7h0.8v0.8h-0.8zM80.9 504.4h0.8v0.8h-0.8zM80.5 504.3h0.8v0.8h-0.8zM86.4 513.6h0.8v0.8h-0.8zM90.3 501.9h0.8v0.8h-0.8zM76.1 508.7h0.8v0.8h-0.8zM76.2 508.9h0.8v0.8h-0.8zM90.4 502.7h0.8v0.8h-0.8zM83.0 514.0h0.8v0.8h-0.8zM79.7 505.0h0.8v0.8h-0.8zM76.9 511.4h0.8v0.8h-0.8zM94.4 498.9h0.8v0.8h-0.8zM76.3 509.2h0.8v0.8h-0.8zM82.5 514.5h0.8v0.8h-0.8zM79.6 513.6h0.8v0.8h-0.8zM88.3 512.6h0.8v0.8h-0.8zM76.8 509.1h0.8v0.8h-0.8zM80.1 514.8h0.8v0.8h-0.8zM86.7 502.7h0.8v0.8h-0.8zM78.0 513.7h0.8v0.8h-0.8zM76.8 511.1h0.8v0.8h-0.8zM88.9 512.2h0.8v0.8h-0.8zM85.5 502.5h0.8v0.8h-0.8zM88.3 512.3h0.8v0.8h-0.8zM76.3 511.3h0.8v0.8h-0.8zM88.3 512.6h0.8v0.8h-0.8zM93.1 509.4h0.8v0.8h-0.8zM98.5 501.2h0.8v0.8h-0.8zM78.1 507.5h0.8v0.8h-0.8zM80.5 504.7h0.8v0.8h-0.8zM98.7 499.4h0.8v0.8h-0.8zM94.4 498.9h0.8v0.8h-0.8zM96.8 498.1h0.8v0.8h-0.8zM98.6 499.8h0.8v0.8h-0.8zM98.9 501.6h0.8v0.8h-0.8zM96.6 498.6h0.8v0.8h-0.8zM98.2 501.4h0.8v0.8h-0.8zM94.5 499.5h0.8v0.8h-0.8zM99.0 498.3h0.8v0.8h-0.8zM98.4 499.7h0.8v0.8h-0.8zM98.2 500.7h0.8v0.8h-0.8zM96.5 506.1h0.8v0.8h-0.8zM96.0 506.8h0.8v0.8h-0.8zM94.9 498.9h0.8v0.8h-0.8zM98.9 498.0h0.8v0.8h-0.8zM98.3 499.1h0.8v0.8h-0.8zM98.5 500.7h0.8v0.8h-0.8zM97.7 498.5h0.8v0.8h-0.8zM94.9 499.8h0.8v0.8h-0.8zM97.7 498.6h0.8v0.8h-0.8zM96.6 498.2h0.8v0.8h-0.8zM97.8 504.2h0.8v0.8h-0.8zM97.8 498.3h0.8v0.8h-0.8zM98.8 499.1h0.8v0.8h-0.8zM96.6 498.5h0.8v0.8h-0.8zM98.6 498.7h0.8v0.8h-0.8zM93.8 500.9h0.8v0.8h-0.8zM97.1 498.0h0.8v0.8h-0.8zM98.8 498.4h0.8v0.8h-0.8zM98.6 498.6h0.8v0.8h-0.8zM98.3 497.9h0.8v0.8h-0.8zM99.0 497.9h0.8v0.8h-0.8zM97.4 498.6h0.8v0.8h-0.8zM97.3 498.2h0.8v0.8h-0.8zM93.5 500.9h0.8v0.8h-0.8zM98.8 498.7h0.8v0.8h-0.8zM98.3 501.6h0.8v0.8h-0.8zM76.7 512.1h0.8v0.8h-0.8zM94.4 507.8h0.8v0.8h-0.8zM84.2 514.2h0.8v0.8h-0.8zM77.7 506.8h0.8v0.8h-0.8zM80.8 514.5h0.8v0.8h-0.8zM86.6 513.4h0.8v0.8h-0.8zM79.4 513.2h0.8v0.8h-0.8zM83.5 513.9h0.8v0.8h-0.8zM90.7 510.9h0.8v0.8h-0.8zM95.9 507.3h0.8v0.8h-0.8zM79.8 505.0h0.8v0.8h-0.8zM80.8 514.1h0.8v0.8h-0.8zM78.5 505.4h0.8v0.8h-0.8zM82.1 514.6h0.8v0.8h-0.8zM76.6 511.6h0.8v0.8h-0.8zM96.4 506.4h0.8v0.8h-0.8zM76.7 511.0h0.8v0.8h-0.8zM93.5 509.6h0.8v0.8h-0.8zM80.5 514.5h0.8v0.8h-0.8zM77.6 506.9h0.8v0.8h-0.8zM79.6 513.4h0.8v0.8h-0.8zM90.5 511.2h0.8v0.8h-0.8zM76.7 510.4h0.8v0.8h-0.8zM94.2 508.2h0.8v0.8h-0.8zM76.0 506.8h0.8v0.8h-0.8zM97.3 498.4h0.8v0.8h-0.8zM93.0 510.3h0.8v0.8h-0.8zM77.2 512.1h0.8v0.8h-0.8zM85.8 502.7h0.8v0.8h-0.8zM82.8 514.0h0.8v0.8h-0.8zM79.6 514.3h0.8v0.8h-0.8zM84.0 514.6h0.8v0.8h-0.8zM78.2 506.2h0.8v0.8h-0.8zM78.8 505.7h0.8v0.8h-0.8zM75.9 508.8h0.8v0.8h-0.8zM81.3 514.6h0.8v0.8h-0.8zM78.0 507.1h0.8v0.8h-0.8zM98.5 500.9h0.8v0.8h-0.8zM76.1 509.8h0.8v0.8h-0.8zM78.7 506.7h0.8v0.8h-0.8zM78.3 506.1h0.8v0.8h-0.8zM79.5 514.3h0.8v0.8h-0.8zM76.4 509.9h0.8v0.8h-0.8zM76.5 512.7h0.8v0.8h-0.8zM76.3 507.2h0.8v0.8h-0.8zM76.8 510.3h0.8v0.8h-0.8zM78.8 505.5h0.8v0.8h-0.8zM88.5 512.1h0.8v0.8h-0.8zM84.6 514.8h0.8v0.8h-0.8zM78.3 512.6h0.8v0.8h-0.8zM84.9 514.5h0.8v0.8h-0.8zM86.3 502.7h0.8v0.8h-0.8zM76.2 512.4h0.8v0.8h-0.8zM78.4 505.8h0.8v0.8h-0.8zM79.1 506.7h0.8v0.8h-0.8zM98.0 498.0h0.8v0.8h-0.8zM79.7 513.4h0.8v0.8h-0.8zM77.0 511.9h0.8v0.8h-0.8zM78.4 505.1h0.8v0.8h-0.8zM76.0 512.8h0.8v0.8h-0.8z"/><path fill="rgb(27, 210, 156)" d="M78.8 508.9h0.8v0.8h-0.8zM92.6 509.2h0.8v0.8h-0.8zM88.9 503.3h0.8v0.8h-0.8zM92.4 509.4h0.8v0.8h-0.8zM79.7 509.0h0.8v0.8h-0.8zM82.5 502.8h0.8v0.8h-0.8zM83.7 513.2h0.8v0.8h-0.8zM80.9 511.3h0.8v0.8h-0.8zM85.8 513.0h0.8v0.8h-0.8zM87.2 503.6h0.8v0.8h-0.8zM91.0 503.3h0.8v0.8h-0.8zM79.6 508.9h0.8v0.8h-0.8zM95.0 500.1h0.8v0.8h-0.8zM78.2 508.5h0.8v0.8h-0.8zM81.3 513.7h0.8v0.8h-0.8zM85.1 513.3h0.8v0.8h-0.8zM79.0 507.8h0.8v0.8h-0.8zM80.4 505.8h0.8v0.8h-0.8zM77.2 508.9h0.8v0.8h-0.8zM82.7 513.5h0.8v0.8h-0.8zM79.5 507.8h0.8v0.8h-0.8zM78.2 511.4h0.8v0.8h-0.8zM81.0 513.3h0.8v0.8h-0.8zM80.3 505.3h0.8v0.8h-0.8zM80.9 511.2h0.8v0.8h-0.8zM91.4 510.6h0.8v0.8h-0.8zM94.5 506.9h0.8v0.8h-0.8zM79.9 510.9h0.8v0.8h-0.8zM81.4 513.8h0.8v0.8h-0.8zM79.0 508.5h0.8v0.8h-0.8zM79.9 511.0h0.8v0.8h-0.8zM80.8 513.0h0.8v0.8h-0.8zM77.8 511.3h0.8v0.8h-0.8zM79.0 512.7h0.8v0.8h-0.8zM78.9 511.6h0.8v0.8h-0.8zM85.7 513.0h0.8v0.8h-0.8zM77.3 508.8h0.8v0.8h-0.8zM79.2 507.1h0.8v0.8h-0.8zM83.5 503.2h0.8v0.8h-0.8zM79.8 510.5h0.8v0.8h-0.8zM78.7 511.6h0.8v0.8h-0.8zM85.0 513.8h0.8v0.8h-0.8zM95.7 506.3h0.8v0.8h-0.8zM78.9 509.9h0.8v0.8h-0.8zM79.7 508.0h0.8v0.8h-0.8zM77.8 510.5h0.8v0.8h-0.8zM79.0 512.3h0.8v0.8h-0.8zM80.5 505.9h0.8v0.8h-0.8zM95.5 505.8h0.8v0.8h-0.8zM88.6 503.5h0.8v0.8h-0.8zM81.6 504.4h0.8v0.8h-0.8zM78.6 509.5h0.8v0.8h-0.8zM81.5 513.2h0.8v0.8h-0.8zM92.0 508.3h0.8v0.8h-0.8zM79.2 511.3h0.8v0.8h-0.8zM83.1 513.7h0.8v0.8h-0.8zM79.0 508.4h0.8v0.8h-0.8zM80.0 506.8h0.8v0.8h-0.8zM78.2 510.7h0.8v0.8h-0.8zM92.0 509.6h0.8v0.8h-0.8zM79.5 508.5h0.8v0.8h-0.8zM77.7 510.5h0.8v0.8h-0.8zM96.0 506.2h0.8v0.8h-0.8zM82.4 513.0h0.8v0.8h-0.8zM97.6 502.8h0.8v0.8h-0.8zM78.0 509.8h0.8v0.8h-0.8zM79.8 507.5h0.8v0.8h-0.8zM90.6 503.3h0.8v0.8h-0.8zM77.1 510.8h0.8v0.8h-0.8zM80.3 512.9h0.8v0.8h-0.8zM79.7 510.4h0.8v0.8h-0.8zM84.3 513.6h0.8v0.8h-0.8zM93.2 508.3h0.8v0.8h-0.8zM78.7 511.6h0.8v0.8h-0.8zM81.7 504.7h0.8v0.8h-0.8zM80.7 512.0h0.8v0.8h-0.8zM78.8 511.0h0.8v0.8h-0.8zM89.2 503.3h0.8v0.8h-0.8zM79.6 508.3h0.8v0.8h-0.8zM94.7 500.2h0.8v0.8h-0.8zM79.6 510.5h0.8v0.8h-0.8zM78.0 510.9h0.8v0.8h-0.8zM81.3 504.3h0.8v0.8h-0.8zM90.0 503.2h0.8v0.8h-0.8zM78.7 508.4h0.8v0.8h-0.8zM79.8 510.8h0.8v0.8h-0.8zM93.5 508.2h0.8v0.8h-0.8zM85.0 512.9h0.8v0.8h-0.8zM80.2 505.8h0.8v0.8h-0.8zM79.6 509.8h0.8v0.8h-0.8zM79.1 509.1h0.8v0.8h-0.8zM90.7 503.1h0.8v0.8h-0.8zM79.5 509.5h0.8v0.8h-0.8zM93.7 507.8h0.8v0.8h-0.8zM92.3 507.9h0.8v0.8h-0.8zM93.6 508.2h0.8v0.8h-0.8zM93.2 507.9h0.8v0.8h-0.8zM79.0 508.0h0.8v0.8h-0.8zM90.7 503.0h0.8v0.8h-0.8zM83.9 513.7h0.8v0.8h-0.8zM79.7 512.0h0.8v0.8h-0.8zM77.3 511.7h0.8v0.8h-0.8zM92.7 508.9h0.8v0.8h-0.8zM82.8 513.6h0.8v0.8h-0.8zM80.3 505.7h0.8v0.8h-0.8zM97.8 499.1h0.8v0.8h-0.8zM92.4 502.2h0.8v0.8h-0.8zM76.9 510.3h0.8v0.8h-0.8zM77.7 510.7h0.8v0.8h-0.8zM93.4 508.0h0.8v0.8h-0.8zM95.9 498.9h0.8v0.8h-0.8zM81.0 513.7h0.8v0.8h-0.8zM79.3 509.8h0.8v0.8h-0.8zM80.8 513.6h0.8v0.8h-0.8zM94.6 499.8h0.8v0.8h-0.8zM77.6 509.9h0.8v0.8h-0.8zM78.0 510.2h0.8v0.8h-0.8zM89.7 502.8h0.8v0.8h-0.8zM77.3 508.6h0.8v0.8h-0.8zM80.9 513.8h0.8v0.8h-0.8zM80.9 505.8h0.8v0.8h-0.8zM95.3 506.1h0.8v0.8h-0.8zM80.3 506.2h0.8v0.8h-0.8zM84.4 513.3h0.8v0.8h-0.8zM91.0 503.1h0.8v0.8h-0.8zM95.2 506.6h0.8v0.8h-0.8zM90.0 511.4h0.8v0.8h-0.8zM82.4 503.5h0.8v0.8h-0.8zM80.3 512.2h0.8v0.8h-0.8zM92.7 509.3h0.8v0.8h-0.8zM80.8 513.1h0.8v0.8h-0.8zM79.4 509.4h0.8v0.8h-0.8zM85.7 512.9h0.8v0.8h-0.8zM89.8 511.7h0.8v0.8h-0.8zM91.4 510.3h0.8v0.8h-0.8zM80.6 512.0h0.8v0.8h-0.8zM92.1 508.3h0.8v0.8h-0.8zM78.4 508.7h0.8v0.8h-0.8zM77.6 511.1h0.8v0.8h-0.8zM78.3 509.5h0.8v0.8h-0.8zM87.0 503.2h0.8v0.8h-0.8zM89.7 503.1h0.8v0.8h-0.8zM95.6 506.6h0.8v0.8h-0.8zM95.8 506.5h0.8v0.8h-0.8zM83.9 513.5h0.8v0.8h-0.8zM85.1 513.1h0.8v0.8h-0.8zM77.7 511.7h0.8v0.8h-0.8zM85.7 513.2h0.8v0.8h-0.8zM77.2 510.2h0.8v0.8h-0.8zM78.5 510.1h0.8v0.8h-0.8zM76.9 510.1h0.8v0.8h-0.8zM80.6 512.2h0.8v0.8h-0.8zM87.4 512.8h0.8v0.8h-0.8zM78.8 508.8h0.8v0.8h-0.8zM93.5 508.1h0.8v0.8h-0.8zM91.6 510.1h0.8v0.8h-0.8zM92.0 507.8h0.8v0.8h-0.8zM80.9 511.2h0.8v0.8h-0.8zM84.0 512.9h0.8v0.8h-0.8zM88.2 503.8h0.8v0.8h-0.8zM82.4 503.5h0.8v0.8h-0.8zM79.1 510.8h0.8v0.8h-0.8zM81.0 513.0h0.8v0.8h-0.8zM79.1 508.9h0.8v0.8h-0.8zM90.2 503.7h0.8v0.8h-0.8zM92.2 508.5h0.8v0.8h-0.8zM79.3 510.4h0.8v0.8h-0.8zM78.8 511.7h0.8v0.8h-0.8zM80.4 512.4h0.8v0.8h-0.8zM96.1 505.3h0.8v0.8h-0.8zM82.7 503.0h0.8v0.8h-0.8zM88.3 503.5h0.8v0.8h-0.8zM95.0 507.0h0.8v0.8h-0.8zM79.9 509.2h0.8v0.8h-0.8zM79.4 507.6h0.8v0.8h-0.8zM90.4 503.4h0.8v0.8h-0.8zM79.3 511.0h0.8v0.8h-0.8zM88.7 503.2h0.8v0.8h-0.8zM80.1 512.6h0.8v0.8h-0.8zM81.0 513.8h0.8v0.8h-0.8zM78.4 508.8h0.8v0.8h-0.8zM77.8 511.3h0.8v0.8h-0.8zM80.2 504.8h0.8v0.8h-0.8zM78.3 508.2h0.8v0.8h-0.8zM95.0 507.6h0.8v0.8h-0.8zM77.6 508.3h0.8v0.8h-0.8zM87.1 512.3h0.8v0.8h-0.8zM83.3 503.2h0.8v0.8h-0.8zM92.6 502.0h0.8v0.8h-0.8zM88.0 503.2h0.8v0.8h-0.8zM92.1 508.0h0.8v0.8h-0.8zM79.1 510.1h0.8v0.8h-0.8zM77.6 508.0h0.8v0.8h-0.8zM80.4 513.3h0.8v0.8h-0.8zM90.2 503.3h0.8v0.8h-0.8zM80.3 504.9h0.8v0.8h-0.8zM85.2 513.3h0.8v0.8h-0.8zM79.7 512.4h0.8v0.8h-0.8zM77.5 509.7h0.8v0.8h-0.8zM91.1 510.4h0.8v0.8h-0.8zM87.1 503.5h0.8v0.8h-0.8zM82.8 502.9h0.8v0.8h-0.8zM78.1 511.5h0.8v0.8h-0.8zM78.0 507.8h0.8v0.8h-0.8zM83.4 503.4h0.8v0.8h-0.8zM77.0 511.3h0.8v0.8h-0.8zM82.7 503.0h0.8v0.8h-0.8zM79.8 510.9h0.8v0.8h-0.8zM97.1 502.8h0.8v0.8h-0.8zM92.6 502.1h0.8v0.8h-0.8zM94.5 507.7h0.8v0.8h-0.8zM95.5 499.1h0.8v0.8h-0.8zM97.1 499.6h0.8v0.8h-0.8zM94.7 499.9h0.8v0.8h-0.8zM94.9 500.4h0.8v0.8h-0.8zM94.2 500.4h0.8v0.8h-0.8zM95.5 499.6h0.8v0.8h-0.8zM92.7 509.3h0.8v0.8h-0.8zM98.0 499.2h0.8v0.8h-0.8zM96.5 504.8h0.8v0.8h-0.8zM95.9 499.0h0.8v0.8h-0.8zM97.4 499.0h0.8v0.8h-0.8zM94.3 500.6h0.8v0.8h-0.8zM95.6 506.6h0.8v0.8h-0.8zM97.2 499.7h0.8v0.8h-0.8zM96.4 504.9h0.8v0.8h-0.8zM97.7 503.7h0.8v0.8h-0.8zM97.4 498.9h0.8v0.8h-0.8zM96.3 505.6h0.8v0.8h-0.8zM95.8 499.6h0.8v0.8h-0.8zM97.7 503.7h0.8v0.8h-0.8zM97.9 503.3h0.8v0.8h-0.8zM95.5 506.0h0.8v0.8h-0.8zM95.6 506.0h0.8v0.8h-0.8zM93.7 508.6h0.8v0.8h-0.8zM95.3 498.8h0.8v0.8h-0.8zM92.6 508.2h0.8v0.8h-0.8zM97.4 499.2h0.8v0.8h-0.8zM97.4 503.4h0.8v0.8h-0.8zM95.4 506.5h0.8v0.8h-0.8zM97.8 498.8h0.8v0.8h-0.8zM98.0 499.2h0.8v0.8h-0.8zM97.5 503.6h0.8v0.8h-0.8zM97.4 498.8h0.8v0.8h-0.8zM92.6 502.5h0.8v0.8h-0.8zM95.5 499.6h0.8v0.8h-0.8zM95.7 499.7h0.8v0.8h-0.8zM93.1 508.6h0.8v0.8h-0.8zM95.7 506.0h0.8v0.8h-0.8zM95.0 499.9h0.8v0.8h-0.8zM78.3 510.8h0.8v0.8h-0.8zM89.8 511.6h0.8v0.8h-0.8zM78.5 510.0h0.8v0.8h-0.8zM80.6 513.8h0.8v0.8h-0.8zM77.8 511.1h0.8v0.8h-0.8zM87.9 503.4h0.8v0.8h-0.8zM78.1 511.3h0.8v0.8h-0.8zM79.3 511.4h0.8v0.8h-0.8zM80.3 511.9h0.8v0.8h-0.8zM77.8 511.5h0.8v0.8h-0.8zM84.8 513.7h0.8v0.8h-0.8zM77.8 511.0h0.8v0.8h-0.8zM80.4 511.9h0.8v0.8h-0.8zM83.1 503.0h0.8v0.8h-0.8zM79.1 509.6h0.8v0.8h-0.8zM80.3 511.1h0.8v0.8h-0.8zM81.9 513.0h0.8v0.8h-0.8zM78.4 511.2h0.8v0.8h-0.8zM92.6 509.6h0.8v0.8h-0.8zM80.8 513.7h0.8v0.8h-0.8zM83.2 513.9h0.8v0.8h-0.8zM82.3 513.3h0.8v0.8h-0.8zM97.1 505.5h0.8v0.8h-0.8zM97.5 503.2h0.8v0.8h-0.8zM82.8 513.1h0.8v0.8h-0.8zM85.8 513.3h0.8v0.8h-0.8zM83.7 513.5h0.8v0.8h-0.8zM76.9 511.0h0.8v0.8h-0.8zM82.4 503.0h0.8v0.8h-0.8zM80.5 505.2h0.8v0.8h-0.8zM78.1 511.2h0.8v0.8h-0.8zM77.9 508.4h0.8v0.8h-0.8zM78.7 510.5h0.8v0.8h-0.8zM80.2 513.7h0.8v0.8h-0.8zM95.6 505.8h0.8v0.8h-0.8zM77.4 510.0h0.8v0.8h-0.8zM77.0 510.9h0.8v0.8h-0.8zM80.5 512.4h0.8v0.8h-0.8zM82.5 513.6h0.8v0.8h-0.8zM77.1 509.5h0.8v0.8h-0.8zM79.5 512.7h0.8v0.8h-0.8zM84.4 513.1h0.8v0.8h-0.8zM77.1 511.2h0.8v0.8h-0.8zM88.4 503.0h0.8v0.8h-0.8zM77.6 510.4h0.8v0.8h-0.8zM98.1 503.4h0.8v0.8h-0.8z"/><path fill="rgb(43, 220, 116)" d="M80.5 508.4h0.8v0.8h-0.8zM81.6 505.4h0.8v0.8h-0.8zM88.0 511.0h0.8v0.8h-0.8zM91.6 508.6h0.8v0.8h-0.8zM81.7 505.2h0.8v0.8h-0.8zM90.4 503.8h0.8v0.8h-0.8zM91.2 508.7h0.8v0.8h-0.8zM86.1 503.0h0.8v0.8h-0.8zM90.4 504.5h0.8v0.8h-0.8zM84.9 503.5h0.8v0.8h-0.8zM86.9 511.9h0.8v0.8h-0.8zM91.8 508.9h0.8v0.8h-0.8zM81.8 511.1h0.8v0.8h-0.8zM91.7 509.4h0.8v0.8h-0.8zM91.9 504.0h0.8v0.8h-0.8zM91.8 504.0h0.8v0.8h-0.8zM92.7 502.8h0.8v0.8h-0.8zM93.0 503.8h0.8v0.8h-0.8zM90.8 510.3h0.8v0.8h-0.8zM86.4 503.5h0.8v0.8h-0.8zM92.5 506.1h0.8v0.8h-0.8zM91.8 504.3h0.8v0.8h-0.8zM84.6 503.7h0.8v0.8h-0.8zM84.1 512.8h0.8v0.8h-0.8zM81.4 505.6h0.8v0.8h-0.8zM90.7 504.7h0.8v0.8h-0.8zM91.2 508.1h0.8v0.8h-0.8zM80.4 510.5h0.8v0.8h-0.8zM94.5 506.0h0.8v0.8h-0.8zM80.4 508.5h0.8v0.8h-0.8zM81.2 505.6h0.8v0.8h-0.8zM90.8 510.8h0.8v0.8h-0.8zM84.9 512.3h0.8v0.8h-0.8zM80.7 507.9h0.8v0.8h-0.8zM86.1 512.2h0.8v0.8h-0.8zM91.0 504.7h0.8v0.8h-0.8zM92.9 503.5h0.8v0.8h-0.8zM80.0 507.3h0.8v0.8h-0.8zM85.6 503.7h0.8v0.8h-0.8zM81.5 512.4h0.8v0.8h-0.8zM88.2 511.6h0.8v0.8h-0.8zM81.2 512.5h0.8v0.8h-0.8zM84.0 512.2h0.8v0.8h-0.8zM92.2 506.8h0.8v0.8h-0.8zM96.1 504.8h0.8v0.8h-0.8zM84.3 503.7h0.8v0.8h-0.8zM83.7 512.6h0.8v0.8h-0.8zM82.7 504.4h0.8v0.8h-0.8zM93.7 506.0h0.8v0.8h-0.8zM82.5 512.7h0.8v0.8h-0.8zM83.0 512.5h0.8v0.8h-0.8zM84.2 512.0h0.8v0.8h-0.8zM93.3 502.5h0.8v0.8h-0.8zM86.8 503.5h0.8v0.8h-0.8zM86.2 503.6h0.8v0.8h-0.8zM82.5 512.7h0.8v0.8h-0.8zM80.1 509.9h0.8v0.8h-0.8zM90.2 504.3h0.8v0.8h-0.8zM83.4 512.4h0.8v0.8h-0.8zM86.8 503.5h0.8v0.8h-0.8zM93.6 502.2h0.8v0.8h-0.8zM86.0 503.6h0.8v0.8h-0.8zM80.2 509.5h0.8v0.8h-0.8zM80.7 508.8h0.8v0.8h-0.8zM90.8 504.6h0.8v0.8h-0.8zM82.8 512.7h0.8v0.8h-0.8zM84.0 512.4h0.8v0.8h-0.8zM91.1 503.2h0.8v0.8h-0.8zM84.5 503.1h0.8v0.8h-0.8zM91.6 503.6h0.8v0.8h-0.8zM91.4 502.8h0.8v0.8h-0.8zM91.4 503.9h0.8v0.8h-0.8zM93.1 506.4h0.8v0.8h-0.8zM86.2 503.6h0.8v0.8h-0.8zM80.8 509.0h0.8v0.8h-0.8zM95.1 505.1h0.8v0.8h-0.8zM85.8 512.5h0.8v0.8h-0.8zM80.3 510.3h0.8v0.8h-0.8zM82.6 504.8h0.8v0.8h-0.8zM85.2 502.9h0.8v0.8h-0.8zM95.4 505.0h0.8v0.8h-0.8zM81.7 511.9h0.8v0.8h-0.8zM96.3 504.5h0.8v0.8h-0.8zM91.4 503.7h0.8v0.8h-0.8zM91.9 508.9h0.8v0.8h-0.8zM85.3 502.9h0.8v0.8h-0.8zM96.9 498.8h0.8v0.8h-0.8zM95.2 505.5h0.8v0.8h-0.8zM90.6 510.2h0.8v0.8h-0.8zM82.1 504.4h0.8v0.8h-0.8zM85.6 502.9h0.8v0.8h-0.8zM92.3 506.0h0.8v0.8h-0.8zM83.1 512.5h0.8v0.8h-0.8zM91.4 503.6h0.8v0.8h-0.8zM80.3 507.0h0.8v0.8h-0.8zM86.2 512.5h0.8v0.8h-0.8zM91.2 507.5h0.8v0.8h-0.8zM91.5 507.5h0.8v0.8h-0.8zM82.9 512.9h0.8v0.8h-0.8zM84.4 512.2h0.8v0.8h-0.8zM91.4 506.9h0.8v0.8h-0.8zM84.2 502.9h0.8v0.8h-0.8zM81.7 512.7h0.8v0.8h-0.8zM81.1 511.1h0.8v0.8h-0.8zM80.7 507.1h0.8v0.8h-0.8zM85.4 503.7h0.8v0.8h-0.8zM96.5 504.5h0.8v0.8h-0.8zM88.9 511.3h0.8v0.8h-0.8zM97.1 504.3h0.8v0.8h-0.8zM85.3 512.5h0.8v0.8h-0.8zM91.6 509.8h0.8v0.8h-0.8zM82.1 504.4h0.8v0.8h-0.8zM83.5 512.0h0.8v0.8h-0.8zM87.0 502.9h0.8v0.8h-0.8zM97.8 501.5h0.8v0.8h-0.8zM85.2 503.4h0.8v0.8h-0.8zM97.6 501.2h0.8v0.8h-0.8zM94.6 501.4h0.8v0.8h-0.8zM91.6 509.6h0.8v0.8h-0.8zM92.4 503.7h0.8v0.8h-0.8zM91.5 503.1h0.8v0.8h-0.8zM80.2 510.5h0.8v0.8h-0.8zM92.3 503.0h0.8v0.8h-0.8zM92.9 507.1h0.8v0.8h-0.8zM92.4 507.6h0.8v0.8h-0.8zM88.8 511.4h0.8v0.8h-0.8zM81.7 512.8h0.8v0.8h-0.8zM86.3 503.6h0.8v0.8h-0.8zM93.8 507.2h0.8v0.8h-0.8zM90.4 504.0h0.8v0.8h-0.8zM80.9 509.0h0.8v0.8h-0.8zM96.5 499.0h0.8v0.8h-0.8zM80.0 509.2h0.8v0.8h-0.8zM94.0 507.6h0.8v0.8h-0.8zM81.0 504.9h0.8v0.8h-0.8zM92.1 506.1h0.8v0.8h-0.8zM84.2 512.0h0.8v0.8h-0.8zM83.5 512.1h0.8v0.8h-0.8zM84.1 503.1h0.8v0.8h-0.8zM92.6 507.5h0.8v0.8h-0.8zM86.6 512.0h0.8v0.8h-0.8zM80.4 508.8h0.8v0.8h-0.8zM84.6 503.7h0.8v0.8h-0.8zM84.9 503.7h0.8v0.8h-0.8zM93.2 502.4h0.8v0.8h-0.8zM86.3 512.7h0.8v0.8h-0.8zM93.7 506.6h0.8v0.8h-0.8zM91.5 503.2h0.8v0.8h-0.8zM85.6 503.1h0.8v0.8h-0.8zM85.5 512.2h0.8v0.8h-0.8zM86.3 512.8h0.8v0.8h-0.8zM86.8 512.3h0.8v0.8h-0.8zM83.5 512.0h0.8v0.8h-0.8zM85.0 512.8h0.8v0.8h-0.8zM97.2 502.7h0.8v0.8h-0.8zM92.0 508.6h0.8v0.8h-0.8zM81.7 511.2h0.8v0.8h-0.8zM85.9 503.3h0.8v0.8h-0.8zM81.0 504.9h0.8v0.8h-0.8zM90.3 510.0h0.8v0.8h-0.8zM84.8 503.5h0.8v0.8h-0.8zM93.9 506.5h0.8v0.8h-0.8zM94.2 501.2h0.8v0.8h-0.8zM81.8 505.3h0.8v0.8h-0.8zM85.9 512.6h0.8v0.8h-0.8zM86.9 512.1h0.8v0.8h-0.8zM93.0 507.0h0.8v0.8h-0.8zM91.0 510.2h0.8v0.8h-0.8zM92.2 506.2h0.8v0.8h-0.8zM94.5 506.3h0.8v0.8h-0.8zM85.9 512.7h0.8v0.8h-0.8zM81.2 512.7h0.8v0.8h-0.8zM80.7 508.8h0.8v0.8h-0.8zM80.6 507.4h0.8v0.8h-0.8zM91.4 502.8h0.8v0.8h-0.8zM90.7 504.4h0.8v0.8h-0.8zM80.5 508.9h0.8v0.8h-0.8zM82.2 504.5h0.8v0.8h-0.8zM96.6 499.2h0.8v0.8h-0.8zM84.5 512.5h0.8v0.8h-0.8zM86.5 512.5h0.8v0.8h-0.8zM86.8 512.8h0.8v0.8h-0.8zM80.4 510.6h0.8v0.8h-0.8zM88.8 511.4h0.8v0.8h-0.8zM87.0 512.1h0.8v0.8h-0.8zM81.6 505.3h0.8v0.8h-0.8zM85.6 503.3h0.8v0.8h-0.8zM80.3 508.7h0.8v0.8h-0.8zM81.3 512.8h0.8v0.8h-0.8zM83.1 511.9h0.8v0.8h-0.8zM83.1 512.1h0.8v0.8h-0.8zM91.7 504.3h0.8v0.8h-0.8zM88.4 511.4h0.8v0.8h-0.8zM92.3 506.9h0.8v0.8h-0.8zM80.0 507.5h0.8v0.8h-0.8zM91.7 508.4h0.8v0.8h-0.8zM80.8 509.8h0.8v0.8h-0.8zM93.7 502.4h0.8v0.8h-0.8zM81.9 511.9h0.8v0.8h-0.8zM90.2 504.6h0.8v0.8h-0.8zM85.2 503.4h0.8v0.8h-0.8zM86.0 512.5h0.8v0.8h-0.8zM93.5 507.1h0.8v0.8h-0.8zM91.9 503.6h0.8v0.8h-0.8zM80.1 510.5h0.8v0.8h-0.8zM80.6 510.3h0.8v0.8h-0.8zM82.5 504.1h0.8v0.8h-0.8zM92.1 507.0h0.8v0.8h-0.8zM85.9 503.3h0.8v0.8h-0.8zM93.0 507.5h0.8v0.8h-0.8zM91.6 503.1h0.8v0.8h-0.8zM91.8 509.0h0.8v0.8h-0.8zM91.7 503.0h0.8v0.8h-0.8zM97.3 502.3h0.8v0.8h-0.8zM96.2 499.3h0.8v0.8h-0.8zM96.9 504.2h0.8v0.8h-0.8zM92.3 506.7h0.8v0.8h-0.8zM92.7 507.6h0.8v0.8h-0.8zM91.5 504.7h0.8v0.8h-0.8zM96.3 499.2h0.8v0.8h-0.8zM91.5 504.0h0.8v0.8h-0.8zM97.2 500.7h0.8v0.8h-0.8zM95.6 505.0h0.8v0.8h-0.8zM93.1 507.7h0.8v0.8h-0.8zM98.0 500.2h0.8v0.8h-0.8zM93.3 506.4h0.8v0.8h-0.8zM96.2 503.9h0.8v0.8h-0.8zM96.4 499.0h0.8v0.8h-0.8zM91.9 509.3h0.8v0.8h-0.8zM94.0 502.5h0.8v0.8h-0.8zM97.7 501.0h0.8v0.8h-0.8zM96.1 504.0h0.8v0.8h-0.8zM97.9 501.2h0.8v0.8h-0.8zM93.8 501.9h0.8v0.8h-0.8zM96.6 499.2h0.8v0.8h-0.8zM96.4 504.8h0.8v0.8h-0.8zM92.4 503.7h0.8v0.8h-0.8zM92.0 503.7h0.8v0.8h-0.8zM96.8 499.5h0.8v0.8h-0.8zM93.2 506.3h0.8v0.8h-0.8zM94.7 505.8h0.8v0.8h-0.8zM95.2 505.4h0.8v0.8h-0.8zM97.6 500.9h0.8v0.8h-0.8zM97.4 500.5h0.8v0.8h-0.8zM97.4 501.5h0.8v0.8h-0.8zM92.0 508.5h0.8v0.8h-0.8zM94.8 501.4h0.8v0.8h-0.8zM97.7 502.4h0.8v0.8h-0.8zM96.2 504.7h0.8v0.8h-0.8zM98.0 499.9h0.8v0.8h-0.8zM93.3 506.1h0.8v0.8h-0.8zM92.4 505.9h0.8v0.8h-0.8zM96.9 504.3h0.8v0.8h-0.8zM98.1 500.7h0.8v0.8h-0.8zM97.3 501.9h0.8v0.8h-0.8zM96.1 504.7h0.8v0.8h-0.8zM96.1 504.7h0.8v0.8h-0.8zM97.2 501.5h0.8v0.8h-0.8zM93.3 507.5h0.8v0.8h-0.8zM96.8 503.8h0.8v0.8h-0.8zM96.5 499.7h0.8v0.8h-0.8zM97.8 501.6h0.8v0.8h-0.8zM94.7 501.1h0.8v0.8h-0.8zM93.1 507.6h0.8v0.8h-0.8zM97.9 500.8h0.8v0.8h-0.8zM93.3 506.7h0.8v0.8h-0.8zM97.9 499.8h0.8v0.8h-0.8zM97.4 500.9h0.8v0.8h-0.8zM97.8 501.3h0.8v0.8h-0.8zM98.1 501.2h0.8v0.8h-0.8zM96.7 504.4h0.8v0.8h-0.8zM97.2 500.9h0.8v0.8h-0.8zM97.3 500.8h0.8v0.8h-0.8zM92.1 506.7h0.8v0.8h-0.8zM95.5 505.3h0.8v0.8h-0.8zM97.6 500.0h0.8v0.8h-0.8zM95.0 506.1h0.8v0.8h-0.8zM93.9 506.6h0.8v0.8h-0.8zM96.1 499.0h0.8v0.8h-0.8zM93.4 507.8h0.8v0.8h-0.8zM92.5 507.0h0.8v0.8h-0.8zM93.5 506.1h0.8v0.8h-0.8zM93.3 502.7h0.8v0.8h-0.8zM94.2 506.4h0.8v0.8h-0.8zM94.6 506.5h0.8v0.8h-0.8zM94.9 501.2h0.8v0.8h-0.8zM97.1 500.7h0.8v0.8h-0.8zM91.3 508.5h0.8v0.8h-0.8zM96.2 504.4h0.8v0.8h-0.8zM96.1 505.3h0.8v0.8h-0.8zM93.9 502.2h0.8v0.8h-0.8zM96.5 499.7h0.8v0.8h-0.8zM94.8 501.3h0.8v0.8h-0.8zM97.1 499.8h0.8v0.8h-0.8zM93.9 502.7h0.8v0.8h-0.8zM93.1 507.8h0.8v0.8h-0.8zM92.3 506.3h0.8v0.8h-0.8zM93.8 501.9h0.8v0.8h-0.8zM90.9 510.8h0.8v0.8h-0.8zM80.5 509.3h0.8v0.8h-0.8zM85.7 511.9h0.8v0.8h-0.8zM81.8 511.1h0.8v0.8h-0.8zM93.5 506.7h0.8v0.8h-0.8zM94.2 506.6h0.8v0.8h-0.8zM92.9 503.5h0.8v0.8h-0.8zM84.4 503.4h0.8v0.8h-0.8zM91.1 509.6h0.8v0.8h-0.8zM84.2 512.0h0.8v0.8h-0.8zM85.9 512.6h0.8v0.8h-0.8zM85.3 512.7h0.8v0.8h-0.8zM82.6 503.9h0.8v0.8h-0.8zM90.6 510.6h0.8v0.8h-0.8zM80.5 508.7h0.8v0.8h-0.8zM82.7 512.2h0.8v0.8h-0.8zM81.6 512.1h0.8v0.8h-0.8zM82.4 512.8h0.8v0.8h-0.8zM92.1 502.9h0.8v0.8h-0.8zM90.7 510.7h0.8v0.8h-0.8zM80.4 509.3h0.8v0.8h-0.8zM81.3 511.1h0.8v0.8h-0.8zM81.2 512.2h0.8v0.8h-0.8zM80.5 507.8h0.8v0.8h-0.8zM85.0 512.2h0.8v0.8h-0.8zM82.5 504.8h0.8v0.8h-0.8zM80.4 508.8h0.8v0.8h-0.8zM95.0 506.1h0.8v0.8h-0.8zM81.9 512.5h0.8v0.8h-0.8zM91.4 508.3h0.8v0.8h-0.8zM91.1 509.3h0.8v0.8h-0.8zM82.7 504.2h0.8v0.8h-0.8zM90.4 510.0h0.8v0.8h-0.8zM93.9 506.2h0.8v0.8h-0.8zM81.8 512.7h0.8v0.8h-0.8zM85.1 512.5h0.8v0.8h-0.8zM82.9 512.4h0.8v0.8h-0.8zM81.9 505.3h0.8v0.8h-0.8zM92.1 506.1h0.8v0.8h-0.8zM88.3 510.8h0.8v0.8h-0.8z"/><path fill="rgb(83, 223, 84)" d="M81.5 506.8h0.8v0.8h-0.8zM88.8 504.0h0.8v0.8h-0.8zM86.0 511.2h0.8v0.8h-0.8zM90.1 509.0h0.8v0.8h-0.8zM89.0 504.1h0.8v0.8h-0.8zM83.9 504.8h0.8v0.8h-0.8zM83.1 511.3h0.8v0.8h-0.8zM90.9 505.8h0.8v0.8h-0.8zM81.3 506.6h0.8v0.8h-0.8zM89.1 510.7h0.8v0.8h-0.8zM92.2 505.4h0.8v0.8h-0.8zM88.3 504.2h0.8v0.8h-0.8zM82.8 505.4h0.8v0.8h-0.8zM90.6 505.7h0.8v0.8h-0.8zM89.6 510.0h0.8v0.8h-0.8zM88.1 504.3h0.8v0.8h-0.8zM89.2 510.3h0.8v0.8h-0.8zM91.1 506.1h0.8v0.8h-0.8zM81.9 507.3h0.8v0.8h-0.8zM91.7 505.8h0.8v0.8h-0.8zM88.9 504.0h0.8v0.8h-0.8zM83.3 504.8h0.8v0.8h-0.8zM84.2 511.1h0.8v0.8h-0.8zM87.4 511.6h0.8v0.8h-0.8zM89.5 510.3h0.8v0.8h-0.8zM88.0 510.9h0.8v0.8h-0.8zM81.6 509.7h0.8v0.8h-0.8zM87.7 511.7h0.8v0.8h-0.8zM90.4 505.1h0.8v0.8h-0.8zM89.1 510.2h0.8v0.8h-0.8zM82.2 504.9h0.8v0.8h-0.8zM92.1 505.4h0.8v0.8h-0.8zM85.1 511.0h0.8v0.8h-0.8zM92.1 504.5h0.8v0.8h-0.8zM82.9 511.1h0.8v0.8h-0.8zM85.3 510.9h0.8v0.8h-0.8zM89.5 503.9h0.8v0.8h-0.8zM83.4 504.5h0.8v0.8h-0.8zM94.7 505.5h0.8v0.8h-0.8zM82.8 504.9h0.8v0.8h-0.8zM81.4 510.5h0.8v0.8h-0.8zM92.0 505.8h0.8v0.8h-0.8zM82.5 505.1h0.8v0.8h-0.8zM81.5 506.1h0.8v0.8h-0.8zM87.3 511.3h0.8v0.8h-0.8zM95.3 501.0h0.8v0.8h-0.8zM81.2 509.3h0.8v0.8h-0.8zM87.5 511.6h0.8v0.8h-0.8zM85.6 511.8h0.8v0.8h-0.8zM96.8 503.0h0.8v0.8h-0.8zM96.8 500.3h0.8v0.8h-0.8zM88.6 504.4h0.8v0.8h-0.8zM83.1 503.8h0.8v0.8h-0.8zM81.8 506.8h0.8v0.8h-0.8zM88.9 504.3h0.8v0.8h-0.8zM89.1 510.7h0.8v0.8h-0.8zM85.1 511.0h0.8v0.8h-0.8zM95.1 500.7h0.8v0.8h-0.8zM91.9 506.2h0.8v0.8h-0.8zM81.6 510.3h0.8v0.8h-0.8zM81.3 506.9h0.8v0.8h-0.8zM81.5 506.6h0.8v0.8h-0.8zM93.8 505.1h0.8v0.8h-0.8zM88.9 503.9h0.8v0.8h-0.8zM81.3 505.8h0.8v0.8h-0.8zM91.9 505.7h0.8v0.8h-0.8zM97.0 501.2h0.8v0.8h-0.8zM90.0 509.3h0.8v0.8h-0.8zM81.3 509.2h0.8v0.8h-0.8zM81.6 506.1h0.8v0.8h-0.8zM81.2 505.9h0.8v0.8h-0.8zM82.7 511.4h0.8v0.8h-0.8zM85.3 511.2h0.8v0.8h-0.8zM90.4 505.0h0.8v0.8h-0.8zM81.0 509.1h0.8v0.8h-0.8zM89.9 504.2h0.8v0.8h-0.8zM93.1 502.9h0.8v0.8h-0.8zM97.0 500.0h0.8v0.8h-0.8zM83.2 511.3h0.8v0.8h-0.8zM94.5 502.2h0.8v0.8h-0.8zM96.1 500.4h0.8v0.8h-0.8zM85.7 510.9h0.8v0.8h-0.8zM84.0 510.9h0.8v0.8h-0.8zM81.4 509.8h0.8v0.8h-0.8zM81.6 509.1h0.8v0.8h-0.8zM89.2 509.9h0.8v0.8h-0.8zM93.8 504.3h0.8v0.8h-0.8zM87.3 511.8h0.8v0.8h-0.8zM93.0 504.0h0.8v0.8h-0.8zM81.2 509.1h0.8v0.8h-0.8zM82.9 505.7h0.8v0.8h-0.8zM81.1 507.0h0.8v0.8h-0.8zM92.8 504.8h0.8v0.8h-0.8zM96.5 503.4h0.8v0.8h-0.8zM90.2 509.5h0.8v0.8h-0.8zM82.1 505.5h0.8v0.8h-0.8zM92.6 505.4h0.8v0.8h-0.8zM91.3 506.8h0.8v0.8h-0.8zM91.6 506.0h0.8v0.8h-0.8zM89.4 504.7h0.8v0.8h-0.8zM93.9 505.4h0.8v0.8h-0.8zM82.4 504.9h0.8v0.8h-0.8zM82.3 511.5h0.8v0.8h-0.8zM89.4 504.1h0.8v0.8h-0.8zM92.9 504.4h0.8v0.8h-0.8zM95.4 503.8h0.8v0.8h-0.8zM93.8 503.6h0.8v0.8h-0.8zM90.2 509.8h0.8v0.8h-0.8zM87.1 511.5h0.8v0.8h-0.8zM90.9 509.2h0.8v0.8h-0.8zM90.4 509.1h0.8v0.8h-0.8zM89.6 510.5h0.8v0.8h-0.8zM93.3 504.7h0.8v0.8h-0.8zM81.4 506.2h0.8v0.8h-0.8zM85.1 510.9h0.8v0.8h-0.8zM91.3 505.3h0.8v0.8h-0.8zM92.0 505.9h0.8v0.8h-0.8zM85.2 511.7h0.8v0.8h-0.8zM91.8 506.6h0.8v0.8h-0.8zM85.9 511.5h0.8v0.8h-0.8zM96.1 504.2h0.8v0.8h-0.8zM89.3 510.0h0.8v0.8h-0.8zM92.9 505.8h0.8v0.8h-0.8zM81.6 506.0h0.8v0.8h-0.8zM90.1 505.7h0.8v0.8h-0.8zM91.0 505.3h0.8v0.8h-0.8zM82.3 505.7h0.8v0.8h-0.8zM86.0 511.1h0.8v0.8h-0.8zM89.0 504.0h0.8v0.8h-0.8zM94.4 505.0h0.8v0.8h-0.8zM82.4 505.7h0.8v0.8h-0.8zM82.7 511.6h0.8v0.8h-0.8zM83.3 504.0h0.8v0.8h-0.8zM82.8 510.9h0.8v0.8h-0.8zM95.1 504.2h0.8v0.8h-0.8zM93.0 505.6h0.8v0.8h-0.8zM81.7 507.1h0.8v0.8h-0.8zM83.0 511.8h0.8v0.8h-0.8zM96.8 502.9h0.8v0.8h-0.8zM95.3 504.5h0.8v0.8h-0.8zM94.0 504.7h0.8v0.8h-0.8zM82.0 511.1h0.8v0.8h-0.8zM90.6 505.2h0.8v0.8h-0.8zM82.3 511.8h0.8v0.8h-0.8zM83.1 503.8h0.8v0.8h-0.8zM81.3 506.8h0.8v0.8h-0.8zM81.0 506.6h0.8v0.8h-0.8zM88.5 503.8h0.8v0.8h-0.8zM90.3 509.2h0.8v0.8h-0.8zM87.7 511.4h0.8v0.8h-0.8zM92.8 504.9h0.8v0.8h-0.8zM93.3 503.3h0.8v0.8h-0.8zM85.1 511.2h0.8v0.8h-0.8zM81.2 507.1h0.8v0.8h-0.8zM95.4 500.2h0.8v0.8h-0.8zM83.9 511.4h0.8v0.8h-0.8zM93.7 505.5h0.8v0.8h-0.8zM90.4 509.0h0.8v0.8h-0.8zM82.8 505.1h0.8v0.8h-0.8zM84.3 511.1h0.8v0.8h-0.8zM83.5 511.1h0.8v0.8h-0.8zM83.5 503.8h0.8v0.8h-0.8zM90.3 509.5h0.8v0.8h-0.8zM89.5 504.4h0.8v0.8h-0.8zM90.0 509.4h0.8v0.8h-0.8zM91.8 505.5h0.8v0.8h-0.8zM90.9 505.3h0.8v0.8h-0.8zM82.6 511.2h0.8v0.8h-0.8zM85.5 511.6h0.8v0.8h-0.8zM81.0 509.8h0.8v0.8h-0.8zM82.3 511.2h0.8v0.8h-0.8zM92.2 505.2h0.8v0.8h-0.8zM90.2 509.2h0.8v0.8h-0.8zM87.0 511.4h0.8v0.8h-0.8zM92.7 504.6h0.8v0.8h-0.8zM86.6 511.2h0.8v0.8h-0.8zM82.0 511.2h0.8v0.8h-0.8zM89.5 510.4h0.8v0.8h-0.8zM89.2 504.5h0.8v0.8h-0.8zM93.8 504.5h0.8v0.8h-0.8zM85.3 511.1h0.8v0.8h-0.8zM82.8 511.2h0.8v0.8h-0.8zM82.7 511.2h0.8v0.8h-0.8zM92.2 504.5h0.8v0.8h-0.8zM82.5 511.6h0.8v0.8h-0.8zM93.5 503.0h0.8v0.8h-0.8zM96.4 502.1h0.8v0.8h-0.8zM91.3 505.2h0.8v0.8h-0.8zM96.0 500.5h0.8v0.8h-0.8zM94.5 501.9h0.8v0.8h-0.8zM95.8 504.0h0.8v0.8h-0.8zM93.7 503.9h0.8v0.8h-0.8zM95.9 499.9h0.8v0.8h-0.8zM96.8 502.4h0.8v0.8h-0.8zM95.9 503.8h0.8v0.8h-0.8zM95.9 499.8h0.8v0.8h-0.8zM93.2 503.7h0.8v0.8h-0.8zM91.7 505.0h0.8v0.8h-0.8zM96.3 501.3h0.8v0.8h-0.8zM97.0 502.1h0.8v0.8h-0.8zM93.1 504.3h0.8v0.8h-0.8zM96.2 502.5h0.8v0.8h-0.8zM94.9 502.2h0.8v0.8h-0.8zM96.1 499.9h0.8v0.8h-0.8zM94.5 505.7h0.8v0.8h-0.8zM94.0 503.0h0.8v0.8h-0.8zM97.0 501.1h0.8v0.8h-0.8zM94.0 504.7h0.8v0.8h-0.8zM93.4 503.3h0.8v0.8h-0.8zM93.2 503.5h0.8v0.8h-0.8zM93.8 503.6h0.8v0.8h-0.8zM96.6 502.3h0.8v0.8h-0.8zM95.6 500.5h0.8v0.8h-0.8zM93.3 504.0h0.8v0.8h-0.8zM96.8 501.0h0.8v0.8h-0.8zM96.2 503.3h0.8v0.8h-0.8zM96.3 500.3h0.8v0.8h-0.8zM95.2 500.9h0.8v0.8h-0.8zM94.6 504.8h0.8v0.8h-0.8zM92.0 504.9h0.8v0.8h-0.8zM95.9 504.2h0.8v0.8h-0.8zM94.2 504.9h0.8v0.8h-0.8zM92.7 505.7h0.8v0.8h-0.8zM96.3 502.4h0.8v0.8h-0.8zM97.0 502.3h0.8v0.8h-0.8zM92.2 505.4h0.8v0.8h-0.8zM96.2 500.7h0.8v0.8h-0.8zM96.2 503.8h0.8v0.8h-0.8zM96.2 500.3h0.8v0.8h-0.8zM96.6 500.1h0.8v0.8h-0.8zM95.4 500.4h0.8v0.8h-0.8zM93.5 505.0h0.8v0.8h-0.8zM95.5 500.2h0.8v0.8h-0.8zM94.9 502.1h0.8v0.8h-0.8zM95.9 500.9h0.8v0.8h-0.8zM96.6 502.1h0.8v0.8h-0.8zM96.2 502.6h0.8v0.8h-0.8zM92.3 505.1h0.8v0.8h-0.8zM95.9 501.3h0.8v0.8h-0.8zM96.0 501.5h0.8v0.8h-0.8zM96.1 501.7h0.8v0.8h-0.8zM93.6 504.2h0.8v0.8h-0.8zM93.6 504.6h0.8v0.8h-0.8zM94.7 502.3h0.8v0.8h-0.8zM92.5 505.4h0.8v0.8h-0.8zM93.9 505.3h0.8v0.8h-0.8zM94.5 502.5h0.8v0.8h-0.8zM95.9 500.3h0.8v0.8h-0.8zM95.5 500.3h0.8v0.8h-0.8zM96.2 500.5h0.8v0.8h-0.8zM93.9 503.3h0.8v0.8h-0.8zM95.5 501.6h0.8v0.8h-0.8zM96.0 501.2h0.8v0.8h-0.8zM93.7 503.8h0.8v0.8h-0.8zM94.1 504.9h0.8v0.8h-0.8zM95.6 500.9h0.8v0.8h-0.8zM96.7 503.3h0.8v0.8h-0.8zM96.4 502.0h0.8v0.8h-0.8zM95.7 501.7h0.8v0.8h-0.8zM95.9 500.6h0.8v0.8h-0.8zM96.7 502.2h0.8v0.8h-0.8zM92.0 505.2h0.8v0.8h-0.8zM94.5 502.0h0.8v0.8h-0.8zM93.7 503.2h0.8v0.8h-0.8zM93.9 502.9h0.8v0.8h-0.8zM96.6 500.8h0.8v0.8h-0.8zM93.9 503.9h0.8v0.8h-0.8zM94.1 505.5h0.8v0.8h-0.8zM94.5 502.4h0.8v0.8h-0.8zM94.3 502.4h0.8v0.8h-0.8zM94.5 504.8h0.8v0.8h-0.8zM94.5 505.6h0.8v0.8h-0.8zM95.3 504.4h0.8v0.8h-0.8zM95.7 504.3h0.8v0.8h-0.8zM96.0 501.1h0.8v0.8h-0.8zM95.5 500.4h0.8v0.8h-0.8zM96.9 503.1h0.8v0.8h-0.8zM96.9 501.9h0.8v0.8h-0.8zM95.6 504.7h0.8v0.8h-0.8zM96.6 501.4h0.8v0.8h-0.8zM95.8 501.0h0.8v0.8h-0.8zM96.5 503.7h0.8v0.8h-0.8zM95.7 501.3h0.8v0.8h-0.8zM94.6 502.7h0.8v0.8h-0.8zM96.2 502.2h0.8v0.8h-0.8zM95.3 503.8h0.8v0.8h-0.8zM95.2 504.2h0.8v0.8h-0.8zM96.6 501.4h0.8v0.8h-0.8zM95.7 501.2h0.8v0.8h-0.8zM93.4 503.3h0.8v0.8h-0.8zM93.4 503.7h0.8v0.8h-0.8zM96.8 501.2h0.8v0.8h-0.8zM94.3 502.4h0.8v0.8h-0.8zM93.8 504.8h0.8v0.8h-0.8zM96.0 500.1h0.8v0.8h-0.8zM96.7 500.8h0.8v0.8h-0.8zM92.9 504.2h0.8v0.8h-0.8zM97.0 503.3h0.8v0.8h-0.8zM90.0 510.7h0.8v0.8h-0.8zM81.0 509.8h0.8v0.8h-0.8zM83.8 511.5h0.8v0.8h-0.8zM83.9 504.2h0.8v0.8h-0.8zM95.0 505.4h0.8v0.8h-0.8zM86.9 511.1h0.8v0.8h-0.8zM90.6 509.1h0.8v0.8h-0.8zM87.3 511.1h0.8v0.8h-0.8zM82.6 505.1h0.8v0.8h-0.8zM83.7 504.6h0.8v0.8h-0.8zM93.3 504.6h0.8v0.8h-0.8zM81.6 510.4h0.8v0.8h-0.8zM81.8 507.0h0.8v0.8h-0.8zM84.0 511.4h0.8v0.8h-0.8zM81.2 506.4h0.8v0.8h-0.8zM93.0 504.1h0.8v0.8h-0.8zM90.7 509.0h0.8v0.8h-0.8zM84.3 511.8h0.8v0.8h-0.8zM91.7 505.3h0.8v0.8h-0.8zM81.1 510.0h0.8v0.8h-0.8zM82.1 505.6h0.8v0.8h-0.8zM92.6 504.8h0.8v0.8h-0.8zM83.9 511.8h0.8v0.8h-0.8z"/><path fill="rgb(122, 227, 52)" d="M87.0 503.8h0.8v0.8h-0.8zM82.0 510.4h0.8v0.8h-0.8zM82.9 510.0h0.8v0.8h-0.8zM82.8 509.9h0.8v0.8h-0.8zM90.2 507.3h0.8v0.8h-0.8zM88.6 510.4h0.8v0.8h-0.8zM88.6 510.2h0.8v0.8h-0.8zM86.6 504.1h0.8v0.8h-0.8zM86.0 504.7h0.8v0.8h-0.8zM90.7 506.0h0.8v0.8h-0.8zM84.8 504.3h0.8v0.8h-0.8zM86.9 504.4h0.8v0.8h-0.8zM88.0 510.1h0.8v0.8h-0.8zM90.1 506.2h0.8v0.8h-0.8zM81.2 508.6h0.8v0.8h-0.8zM82.2 510.0h0.8v0.8h-0.8zM88.0 509.9h0.8v0.8h-0.8zM84.0 504.7h0.8v0.8h-0.8zM84.4 504.4h0.8v0.8h-0.8zM90.5 507.2h0.8v0.8h-0.8zM88.9 510.5h0.8v0.8h-0.8zM90.2 506.4h0.8v0.8h-0.8zM84.4 504.2h0.8v0.8h-0.8zM86.7 504.3h0.8v0.8h-0.8zM90.9 506.3h0.8v0.8h-0.8zM90.9 507.5h0.8v0.8h-0.8zM88.4 510.2h0.8v0.8h-0.8zM84.1 504.0h0.8v0.8h-0.8zM82.9 510.0h0.8v0.8h-0.8zM94.8 504.6h0.8v0.8h-0.8zM90.1 507.8h0.8v0.8h-0.8zM81.9 508.3h0.8v0.8h-0.8zM81.8 507.8h0.8v0.8h-0.8zM81.5 508.1h0.8v0.8h-0.8zM84.4 504.1h0.8v0.8h-0.8zM94.2 503.1h0.8v0.8h-0.8zM82.9 510.7h0.8v0.8h-0.8zM86.5 503.9h0.8v0.8h-0.8zM81.7 508.0h0.8v0.8h-0.8zM95.8 503.5h0.8v0.8h-0.8zM88.4 510.5h0.8v0.8h-0.8zM84.2 504.6h0.8v0.8h-0.8zM90.8 508.8h0.8v0.8h-0.8zM82.8 510.6h0.8v0.8h-0.8zM86.6 504.6h0.8v0.8h-0.8zM84.0 504.2h0.8v0.8h-0.8zM90.7 507.9h0.8v0.8h-0.8zM90.7 507.3h0.8v0.8h-0.8zM86.4 504.4h0.8v0.8h-0.8zM82.3 510.0h0.8v0.8h-0.8zM90.9 507.3h0.8v0.8h-0.8zM90.4 508.6h0.8v0.8h-0.8zM82.3 510.6h0.8v0.8h-0.8zM94.6 504.1h0.8v0.8h-0.8zM84.8 504.7h0.8v0.8h-0.8zM90.5 507.0h0.8v0.8h-0.8zM95.8 503.4h0.8v0.8h-0.8zM81.8 507.9h0.8v0.8h-0.8zM90.1 506.4h0.8v0.8h-0.8zM90.0 508.7h0.8v0.8h-0.8zM94.7 503.3h0.8v0.8h-0.8zM84.6 504.6h0.8v0.8h-0.8zM81.5 508.8h0.8v0.8h-0.8zM84.6 504.5h0.8v0.8h-0.8zM82.7 510.7h0.8v0.8h-0.8zM88.6 510.6h0.8v0.8h-0.8zM81.1 508.0h0.8v0.8h-0.8zM82.2 510.8h0.8v0.8h-0.8zM86.9 503.8h0.8v0.8h-0.8zM88.3 510.8h0.8v0.8h-0.8zM90.0 506.7h0.8v0.8h-0.8zM90.4 508.8h0.8v0.8h-0.8zM89.0 510.8h0.8v0.8h-0.8zM84.8 504.3h0.8v0.8h-0.8zM90.6 506.7h0.8v0.8h-0.8zM87.5 504.3h0.8v0.8h-0.8zM87.7 504.1h0.8v0.8h-0.8zM95.8 503.6h0.8v0.8h-0.8zM95.1 503.3h0.8v0.8h-0.8zM81.1 508.8h0.8v0.8h-0.8zM81.7 507.8h0.8v0.8h-0.8zM81.3 508.4h0.8v0.8h-0.8zM82.9 510.5h0.8v0.8h-0.8zM82.0 510.3h0.8v0.8h-0.8zM88.3 510.5h0.8v0.8h-0.8zM90.8 508.6h0.8v0.8h-0.8zM88.5 510.6h0.8v0.8h-0.8zM84.8 504.4h0.8v0.8h-0.8zM89.0 510.3h0.8v0.8h-0.8zM94.5 503.7h0.8v0.8h-0.8zM84.0 504.1h0.8v0.8h-0.8zM90.9 507.2h0.8v0.8h-0.8zM81.6 508.1h0.8v0.8h-0.8zM86.6 504.7h0.8v0.8h-0.8zM90.5 507.4h0.8v0.8h-0.8zM88.4 510.3h0.8v0.8h-0.8zM95.4 502.0h0.8v0.8h-0.8zM95.7 502.7h0.8v0.8h-0.8zM95.9 502.0h0.8v0.8h-0.8zM95.6 502.5h0.8v0.8h-0.8zM95.9 502.3h0.8v0.8h-0.8zM94.3 503.6h0.8v0.8h-0.8zM95.3 501.8h0.8v0.8h-0.8zM95.8 503.4h0.8v0.8h-0.8zM94.8 503.6h0.8v0.8h-0.8zM95.3 502.3h0.8v0.8h-0.8zM95.8 503.7h0.8v0.8h-0.8zM96.0 502.9h0.8v0.8h-0.8zM95.5 502.2h0.8v0.8h-0.8zM95.2 502.8h0.8v0.8h-0.8zM95.1 502.8h0.8v0.8h-0.8zM94.9 504.8h0.8v0.8h-0.8zM94.4 504.4h0.8v0.8h-0.8zM94.4 502.9h0.8v0.8h-0.8zM95.3 503.6h0.8v0.8h-0.8zM95.7 503.0h0.8v0.8h-0.8zM94.3 503.7h0.8v0.8h-0.8zM95.4 503.4h0.8v0.8h-0.8zM95.6 502.9h0.8v0.8h-0.8zM95.6 502.1h0.8v0.8h-0.8zM94.2 504.2h0.8v0.8h-0.8zM94.4 503.1h0.8v0.8h-0.8zM95.7 503.4h0.8v0.8h-0.8zM95.7 502.9h0.8v0.8h-0.8zM94.2 502.9h0.8v0.8h-0.8zM95.4 503.5h0.8v0.8h-0.8zM96.0 501.8h0.8v0.8h-0.8zM94.8 504.6h0.8v0.8h-0.8zM94.6 503.1h0.8v0.8h-0.8zM95.6 502.0h0.8v0.8h-0.8zM95.0 504.7h0.8v0.8h-0.8zM94.7 503.1h0.8v0.8h-0.8zM90.5 507.5h0.8v0.8h-0.8zM90.9 505.9h0.8v0.8h-0.8zM81.1 508.2h0.8v0.8h-0.8zM82.4 510.6h0.8v0.8h-0.8zM90.5 506.2h0.8v0.8h-0.8zM90.0 507.9h0.8v0.8h-0.8zM84.8 503.9h0.8v0.8h-0.8zM81.2 508.6h0.8v0.8h-0.8zM87.7 504.7h0.8v0.8h-0.8zM81.0 508.0h0.8v0.8h-0.8zM88.8 510.1h0.8v0.8h-0.8zM87.9 504.5h0.8v0.8h-0.8zM81.9 508.6h0.8v0.8h-0.8z"/><path fill="rgb(162, 230, 26)" d="M82.8 507.8h0.8v0.8h-0.8zM89.5 505.4h0.8v0.8h-0.8zM86.7 510.2h0.8v0.8h-0.8zM85.2 504.3h0.8v0.8h-0.8zM82.9 507.2h0.8v0.8h-0.8zM90.0 505.2h0.8v0.8h-0.8zM89.3 505.7h0.8v0.8h-0.8zM83.8 510.0h0.8v0.8h-0.8zM86.2 510.3h0.8v0.8h-0.8zM83.0 505.6h0.8v0.8h-0.8zM83.8 505.7h0.8v0.8h-0.8zM85.3 503.9h0.8v0.8h-0.8zM87.3 510.0h0.8v0.8h-0.8zM85.8 510.6h0.8v0.8h-0.8zM89.7 509.2h0.8v0.8h-0.8zM87.3 509.9h0.8v0.8h-0.8zM82.8 509.3h0.8v0.8h-0.8zM82.8 506.1h0.8v0.8h-0.8zM82.1 507.5h0.8v0.8h-0.8zM89.8 505.3h0.8v0.8h-0.8zM84.2 510.1h0.8v0.8h-0.8zM89.5 505.2h0.8v0.8h-0.8zM85.5 504.7h0.8v0.8h-0.8zM82.4 507.0h0.8v0.8h-0.8zM85.0 510.4h0.8v0.8h-0.8zM83.6 505.0h0.8v0.8h-0.8zM83.4 510.1h0.8v0.8h-0.8zM87.2 509.9h0.8v0.8h-0.8zM82.0 506.3h0.8v0.8h-0.8zM82.3 506.9h0.8v0.8h-0.8zM82.8 509.3h0.8v0.8h-0.8zM85.7 504.2h0.8v0.8h-0.8zM85.7 510.3h0.8v0.8h-0.8zM89.7 505.3h0.8v0.8h-0.8zM87.8 510.3h0.8v0.8h-0.8zM85.9 510.4h0.8v0.8h-0.8zM85.5 510.5h0.8v0.8h-0.8zM82.8 506.4h0.8v0.8h-0.8zM82.7 506.4h0.8v0.8h-0.8zM89.8 504.9h0.8v0.8h-0.8zM85.9 510.4h0.8v0.8h-0.8zM83.0 510.3h0.8v0.8h-0.8zM89.4 509.7h0.8v0.8h-0.8zM89.6 509.7h0.8v0.8h-0.8zM83.3 510.8h0.8v0.8h-0.8zM86.3 510.1h0.8v0.8h-0.8zM89.8 505.0h0.8v0.8h-0.8zM82.3 507.0h0.8v0.8h-0.8zM83.9 510.6h0.8v0.8h-0.8zM82.0 506.8h0.8v0.8h-0.8zM90.0 509.5h0.8v0.8h-0.8zM89.6 505.7h0.8v0.8h-0.8zM89.1 508.9h0.8v0.8h-0.8zM89.6 505.1h0.8v0.8h-0.8zM89.4 509.3h0.8v0.8h-0.8zM83.3 505.1h0.8v0.8h-0.8zM83.7 510.4h0.8v0.8h-0.8zM89.6 509.1h0.8v0.8h-0.8zM84.4 510.7h0.8v0.8h-0.8zM87.4 510.7h0.8v0.8h-0.8zM83.5 510.2h0.8v0.8h-0.8zM83.8 510.5h0.8v0.8h-0.8zM83.3 510.5h0.8v0.8h-0.8zM85.2 510.3h0.8v0.8h-0.8zM83.9 510.4h0.8v0.8h-0.8zM89.9 504.8h0.8v0.8h-0.8zM82.9 507.4h0.8v0.8h-0.8zM84.0 509.9h0.8v0.8h-0.8zM89.6 509.7h0.8v0.8h-0.8zM87.9 510.3h0.8v0.8h-0.8zM87.8 510.3h0.8v0.8h-0.8zM89.2 505.0h0.8v0.8h-0.8zM83.7 510.7h0.8v0.8h-0.8zM86.0 510.1h0.8v0.8h-0.8zM82.2 505.8h0.8v0.8h-0.8zM83.2 505.5h0.8v0.8h-0.8zM85.4 504.7h0.8v0.8h-0.8zM86.4 510.0h0.8v0.8h-0.8zM82.4 509.1h0.8v0.8h-0.8zM89.4 508.9h0.8v0.8h-0.8zM86.0 510.2h0.8v0.8h-0.8zM85.3 510.2h0.8v0.8h-0.8zM82.6 507.0h0.8v0.8h-0.8zM82.6 506.5h0.8v0.8h-0.8zM89.1 508.9h0.8v0.8h-0.8zM86.9 510.3h0.8v0.8h-0.8zM87.4 510.2h0.8v0.8h-0.8zM85.6 510.2h0.8v0.8h-0.8zM85.8 504.8h0.8v0.8h-0.8zM82.3 509.2h0.8v0.8h-0.8zM89.9 505.6h0.8v0.8h-0.8zM82.8 509.0h0.8v0.8h-0.8zM89.1 509.0h0.8v0.8h-0.8zM82.9 507.0h0.8v0.8h-0.8zM83.8 509.9h0.8v0.8h-0.8zM83.4 510.7h0.8v0.8h-0.8zM82.3 505.9h0.8v0.8h-0.8zM83.8 505.7h0.8v0.8h-0.8zM85.5 504.3h0.8v0.8h-0.8zM83.4 505.6h0.8v0.8h-0.8zM85.6 510.5h0.8v0.8h-0.8zM89.7 505.5h0.8v0.8h-0.8zM82.9 506.6h0.8v0.8h-0.8zM87.0 510.3h0.8v0.8h-0.8zM82.3 509.2h0.8v0.8h-0.8zM87.6 510.8h0.8v0.8h-0.8zM82.5 507.8h0.8v0.8h-0.8zM84.4 510.4h0.8v0.8h-0.8zM83.9 510.7h0.8v0.8h-0.8zM89.1 509.4h0.8v0.8h-0.8zM83.9 504.9h0.8v0.8h-0.8zM84.5 510.4h0.8v0.8h-0.8zM85.7 510.5h0.8v0.8h-0.8zM83.4 510.1h0.8v0.8h-0.8zM82.7 509.0h0.8v0.8h-0.8zM83.2 510.7h0.8v0.8h-0.8zM84.1 510.3h0.8v0.8h-0.8zM82.3 507.7h0.8v0.8h-0.8zM85.2 510.2h0.8v0.8h-0.8zM85.3 503.8h0.8v0.8h-0.8zM85.9 510.0h0.8v0.8h-0.8zM89.9 509.5h0.8v0.8h-0.8zM82.7 509.4h0.8v0.8h-0.8zM89.3 505.8h0.8v0.8h-0.8zM85.6 510.8h0.8v0.8h-0.8zM86.2 510.4h0.8v0.8h-0.8zM83.1 505.7h0.8v0.8h-0.8zM82.9 507.8h0.8v0.8h-0.8zM82.4 507.3h0.8v0.8h-0.8z"/><path fill="rgb(204, 230, 13)" d="M82.2 508.4h0.8v0.8h-0.8zM83.7 508.8h0.8v0.8h-0.8zM88.5 505.4h0.8v0.8h-0.8zM89.1 508.7h0.8v0.8h-0.8zM83.7 509.0h0.8v0.8h-0.8zM89.3 506.4h0.8v0.8h-0.8zM83.3 506.3h0.8v0.8h-0.8zM83.0 509.5h0.8v0.8h-0.8zM83.8 506.8h0.8v0.8h-0.8zM89.6 506.6h0.8v0.8h-0.8zM83.3 506.8h0.8v0.8h-0.8zM89.2 508.3h0.8v0.8h-0.8zM82.7 508.2h0.8v0.8h-0.8zM89.8 505.9h0.8v0.8h-0.8zM83.1 506.6h0.8v0.8h-0.8zM89.0 505.1h0.8v0.8h-0.8zM84.5 505.7h0.8v0.8h-0.8zM88.2 505.3h0.8v0.8h-0.8zM89.6 508.4h0.8v0.8h-0.8zM89.4 505.9h0.8v0.8h-0.8zM83.5 506.1h0.8v0.8h-0.8zM88.2 505.3h0.8v0.8h-0.8zM82.3 508.7h0.8v0.8h-0.8zM83.8 509.7h0.8v0.8h-0.8zM88.3 505.0h0.8v0.8h-0.8zM88.3 509.0h0.8v0.8h-0.8zM89.2 506.0h0.8v0.8h-0.8zM88.4 505.5h0.8v0.8h-0.8zM83.0 509.6h0.8v0.8h-0.8zM82.4 508.1h0.8v0.8h-0.8zM88.9 509.8h0.8v0.8h-0.8zM84.2 505.5h0.8v0.8h-0.8zM88.6 505.2h0.8v0.8h-0.8zM90.0 506.2h0.8v0.8h-0.8zM89.1 506.7h0.8v0.8h-0.8zM82.6 508.6h0.8v0.8h-0.8zM84.9 505.3h0.8v0.8h-0.8zM83.9 509.1h0.8v0.8h-0.8zM82.4 508.3h0.8v0.8h-0.8zM83.8 506.6h0.8v0.8h-0.8zM82.2 508.0h0.8v0.8h-0.8zM89.0 505.8h0.8v0.8h-0.8zM82.4 508.3h0.8v0.8h-0.8zM84.4 505.7h0.8v0.8h-0.8zM88.1 509.2h0.8v0.8h-0.8zM83.6 509.5h0.8v0.8h-0.8zM84.0 505.2h0.8v0.8h-0.8zM88.3 509.7h0.8v0.8h-0.8zM88.5 509.1h0.8v0.8h-0.8zM84.5 505.0h0.8v0.8h-0.8zM83.6 509.2h0.8v0.8h-0.8zM89.8 506.3h0.8v0.8h-0.8zM89.5 506.2h0.8v0.8h-0.8zM89.8 506.5h0.8v0.8h-0.8zM89.7 508.3h0.8v0.8h-0.8zM88.8 505.4h0.8v0.8h-0.8zM83.0 509.3h0.8v0.8h-0.8zM84.6 505.4h0.8v0.8h-0.8zM82.7 507.9h0.8v0.8h-0.8zM83.0 509.5h0.8v0.8h-0.8zM83.3 509.2h0.8v0.8h-0.8zM88.6 509.8h0.8v0.8h-0.8zM88.2 505.4h0.8v0.8h-0.8zM82.7 508.5h0.8v0.8h-0.8zM84.9 504.9h0.8v0.8h-0.8zM88.7 509.2h0.8v0.8h-0.8zM89.0 506.7h0.8v0.8h-0.8zM84.4 505.7h0.8v0.8h-0.8zM89.9 506.2h0.8v0.8h-0.8zM83.0 509.5h0.8v0.8h-0.8zM88.5 505.8h0.8v0.8h-0.8zM88.4 505.6h0.8v0.8h-0.8zM89.3 508.1h0.8v0.8h-0.8zM84.9 505.2h0.8v0.8h-0.8zM82.9 507.9h0.8v0.8h-0.8zM89.2 506.3h0.8v0.8h-0.8zM89.4 508.5h0.8v0.8h-0.8zM84.6 505.0h0.8v0.8h-0.8zM83.6 506.4h0.8v0.8h-0.8zM84.4 505.2h0.8v0.8h-0.8zM82.6 508.1h0.8v0.8h-0.8zM89.4 506.2h0.8v0.8h-0.8zM83.9 506.7h0.8v0.8h-0.8zM84.7 505.5h0.8v0.8h-0.8zM83.6 509.3h0.8v0.8h-0.8zM83.7 509.7h0.8v0.8h-0.8zM83.7 506.6h0.8v0.8h-0.8zM83.5 506.7h0.8v0.8h-0.8zM89.9 507.9h0.8v0.8h-0.8zM83.4 509.6h0.8v0.8h-0.8zM83.7 509.3h0.8v0.8h-0.8zM84.8 505.8h0.8v0.8h-0.8zM88.4 505.8h0.8v0.8h-0.8zM84.1 505.3h0.8v0.8h-0.8zM88.4 504.9h0.8v0.8h-0.8zM82.5 507.9h0.8v0.8h-0.8zM88.1 509.2h0.8v0.8h-0.8zM82.2 508.6h0.8v0.8h-0.8zM89.9 508.1h0.8v0.8h-0.8zM83.7 509.6h0.8v0.8h-0.8zM83.5 506.1h0.8v0.8h-0.8zM83.3 506.8h0.8v0.8h-0.8zM89.4 508.8h0.8v0.8h-0.8zM82.0 508.5h0.8v0.8h-0.8zM88.4 509.6h0.8v0.8h-0.8zM88.1 504.8h0.8v0.8h-0.8zM88.5 508.8h0.8v0.8h-0.8zM84.3 505.8h0.8v0.8h-0.8zM83.5 506.4h0.8v0.8h-0.8zM88.6 509.4h0.8v0.8h-0.8zM84.1 505.0h0.8v0.8h-0.8zM89.7 508.7h0.8v0.8h-0.8zM83.6 506.6h0.8v0.8h-0.8zM83.1 506.0h0.8v0.8h-0.8zM82.3 508.1h0.8v0.8h-0.8z"/><path fill="rgb(245, 230, 1)" d="M87.3 509.6h0.8v0.8h-0.8zM83.7 508.5h0.8v0.8h-0.8zM87.6 505.0h0.8v0.8h-0.8zM89.7 507.7h0.8v0.8h-0.8zM89.5 507.7h0.8v0.8h-0.8zM84.1 508.9h0.8v0.8h-0.8zM85.0 509.4h0.8v0.8h-0.8zM89.5 507.8h0.8v0.8h-0.8zM84.1 509.8h0.8v0.8h-0.8zM87.9 505.3h0.8v0.8h-0.8zM85.7 505.2h0.8v0.8h-0.8zM89.2 507.0h0.8v0.8h-0.8zM84.4 509.1h0.8v0.8h-0.8zM83.5 508.2h0.8v0.8h-0.8zM85.8 505.4h0.8v0.8h-0.8zM89.4 507.2h0.8v0.8h-0.8zM85.3 504.8h0.8v0.8h-0.8zM83.8 508.2h0.8v0.8h-0.8zM85.5 505.8h0.8v0.8h-0.8zM87.5 509.0h0.8v0.8h-0.8zM84.8 509.5h0.8v0.8h-0.8zM89.9 507.5h0.8v0.8h-0.8zM83.0 508.6h0.8v0.8h-0.8zM85.8 505.8h0.8v0.8h-0.8zM87.5 505.3h0.8v0.8h-0.8zM84.1 508.9h0.8v0.8h-0.8zM87.0 505.6h0.8v0.8h-0.8zM87.9 505.4h0.8v0.8h-0.8zM83.1 507.9h0.8v0.8h-0.8zM87.2 505.4h0.8v0.8h-0.8zM85.1 505.3h0.8v0.8h-0.8zM83.9 508.2h0.8v0.8h-0.8zM87.1 509.6h0.8v0.8h-0.8zM83.4 508.6h0.8v0.8h-0.8zM85.3 505.6h0.8v0.8h-0.8zM89.3 507.2h0.8v0.8h-0.8zM87.6 509.5h0.8v0.8h-0.8zM89.1 507.6h0.8v0.8h-0.8zM87.6 505.8h0.8v0.8h-0.8zM87.2 505.7h0.8v0.8h-0.8zM89.5 507.4h0.8v0.8h-0.8zM87.6 509.1h0.8v0.8h-0.8zM89.9 507.7h0.8v0.8h-0.8zM87.6 505.2h0.8v0.8h-0.8zM85.3 505.2h0.8v0.8h-0.8zM89.5 507.3h0.8v0.8h-0.8zM83.1 508.3h0.8v0.8h-0.8zM87.7 505.1h0.8v0.8h-0.8zM83.0 507.9h0.8v0.8h-0.8zM89.9 506.8h0.8v0.8h-0.8zM89.7 507.1h0.8v0.8h-0.8zM87.8 505.1h0.8v0.8h-0.8zM85.6 505.7h0.8v0.8h-0.8zM87.5 505.3h0.8v0.8h-0.8zM85.4 504.9h0.8v0.8h-0.8zM83.0 508.1h0.8v0.8h-0.8zM84.7 508.9h0.8v0.8h-0.8zM83.9 507.8h0.8v0.8h-0.8zM87.3 509.6h0.8v0.8h-0.8zM87.8 508.9h0.8v0.8h-0.8zM83.7 508.2h0.8v0.8h-0.8zM87.5 508.9h0.8v0.8h-0.8zM84.2 509.3h0.8v0.8h-0.8zM89.8 506.9h0.8v0.8h-0.8zM84.9 508.9h0.8v0.8h-0.8zM90.0 507.7h0.8v0.8h-0.8zM83.2 508.6h0.8v0.8h-0.8zM87.6 509.0h0.8v0.8h-0.8zM83.6 508.7h0.8v0.8h-0.8zM87.0 505.0h0.8v0.8h-0.8zM83.9 508.0h0.8v0.8h-0.8zM84.0 509.0h0.8v0.8h-0.8zM83.5 508.1h0.8v0.8h-0.8zM89.2 507.2h0.8v0.8h-0.8zM85.4 505.5h0.8v0.8h-0.8zM87.3 509.8h0.8v0.8h-0.8zM89.4 507.2h0.8v0.8h-0.8zM87.7 509.2h0.8v0.8h-0.8zM89.4 506.8h0.8v0.8h-0.8zM89.2 507.8h0.8v0.8h-0.8zM85.4 505.4h0.8v0.8h-0.8zM87.9 505.0h0.8v0.8h-0.8zM87.8 505.2h0.8v0.8h-0.8zM89.4 507.0h0.8v0.8h-0.8zM88.0 505.5h0.8v0.8h-0.8zM89.8 507.2h0.8v0.8h-0.8zM85.6 505.2h0.8v0.8h-0.8zM84.8 509.0h0.8v0.8h-0.8zM89.5 507.4h0.8v0.8h-0.8zM87.8 509.5h0.8v0.8h-0.8zM90.0 507.0h0.8v0.8h-0.8zM84.6 509.3h0.8v0.8h-0.8zM89.8 507.8h0.8v0.8h-0.8zM87.6 509.0h0.8v0.8h-0.8zM89.0 506.9h0.8v0.8h-0.8zM83.9 508.8h0.8v0.8h-0.8zM85.5 505.4h0.8v0.8h-0.8zM87.4 509.8h0.8v0.8h-0.8zM88.0 505.8h0.8v0.8h-0.8zM83.5 508.0h0.8v0.8h-0.8zM83.8 508.3h0.8v0.8h-0.8zM87.4 505.3h0.8v0.8h-0.8zM84.3 509.2h0.8v0.8h-0.8zM85.0 505.4h0.8v0.8h-0.8zM89.9 507.1h0.8v0.8h-0.8z"/><path fill="rgb(252, 189, 0)" d="M85.0 506.2h0.8v0.8h-0.8zM83.2 507.7h0.8v0.8h-0.8zM83.9 506.9h0.8v0.8h-0.8zM86.9 509.0h0.8v0.8h-0.8zM86.2 505.5h0.8v0.8h-0.8zM83.1 507.1h0.8v0.8h-0.8zM86.2 509.4h0.8v0.8h-0.8zM88.4 507.8h0.8v0.8h-0.8zM86.1 505.8h0.8v0.8h-0.8zM86.0 504.9h0.8v0.8h-0.8zM88.7 505.8h0.8v0.8h-0.8zM84.4 505.9h0.8v0.8h-0.8zM88.6 506.6h0.8v0.8h-0.8zM88.1 508.4h0.8v0.8h-0.8zM88.9 508.4h0.8v0.8h-0.8zM88.1 508.6h0.8v0.8h-0.8zM86.9 508.9h0.8v0.8h-0.8zM83.9 507.1h0.8v0.8h-0.8zM88.5 506.7h0.8v0.8h-0.8zM85.8 509.0h0.8v0.8h-0.8zM86.4 509.6h0.8v0.8h-0.8zM85.5 509.8h0.8v0.8h-0.8zM85.8 509.1h0.8v0.8h-0.8zM86.1 505.7h0.8v0.8h-0.8zM86.8 509.0h0.8v0.8h-0.8zM85.0 509.5h0.8v0.8h-0.8zM85.0 509.0h0.8v0.8h-0.8zM88.8 508.0h0.8v0.8h-0.8zM86.2 505.5h0.8v0.8h-0.8zM88.7 506.0h0.8v0.8h-0.8zM88.2 506.6h0.8v0.8h-0.8zM86.2 509.4h0.8v0.8h-0.8zM86.4 505.4h0.8v0.8h-0.8zM86.1 509.4h0.8v0.8h-0.8zM86.7 505.6h0.8v0.8h-0.8zM86.8 509.0h0.8v0.8h-0.8zM84.5 506.4h0.8v0.8h-0.8zM88.2 506.1h0.8v0.8h-0.8zM85.1 509.0h0.8v0.8h-0.8zM83.6 507.1h0.8v0.8h-0.8zM88.2 506.3h0.8v0.8h-0.8zM84.7 506.7h0.8v0.8h-0.8zM84.4 506.5h0.8v0.8h-0.8zM83.1 507.5h0.8v0.8h-0.8zM86.1 505.5h0.8v0.8h-0.8zM86.2 504.9h0.8v0.8h-0.8zM86.6 504.8h0.8v0.8h-0.8zM83.2 507.4h0.8v0.8h-0.8zM88.4 508.8h0.8v0.8h-0.8zM86.8 505.6h0.8v0.8h-0.8zM84.7 506.5h0.8v0.8h-0.8zM86.4 508.9h0.8v0.8h-0.8zM88.7 506.4h0.8v0.8h-0.8zM85.2 509.1h0.8v0.8h-0.8zM88.3 505.8h0.8v0.8h-0.8zM86.1 509.8h0.8v0.8h-0.8zM88.6 506.6h0.8v0.8h-0.8zM88.1 508.2h0.8v0.8h-0.8zM83.5 507.5h0.8v0.8h-0.8zM86.5 504.8h0.8v0.8h-0.8zM83.8 507.7h0.8v0.8h-0.8zM86.5 509.1h0.8v0.8h-0.8zM88.3 508.0h0.8v0.8h-0.8zM88.1 506.5h0.8v0.8h-0.8zM85.2 508.8h0.8v0.8h-0.8zM84.3 506.5h0.8v0.8h-0.8zM86.1 505.5h0.8v0.8h-0.8zM86.9 509.1h0.8v0.8h-0.8zM88.6 507.8h0.8v0.8h-0.8zM83.4 507.0h0.8v0.8h-0.8zM88.9 505.9h0.8v0.8h-0.8zM88.3 505.9h0.8v0.8h-0.8zM88.0 506.1h0.8v0.8h-0.8zM86.9 508.9h0.8v0.8h-0.8zM86.4 505.6h0.8v0.8h-0.8zM84.0 506.0h0.8v0.8h-0.8zM88.8 505.9h0.8v0.8h-0.8zM86.2 509.0h0.8v0.8h-0.8zM83.7 507.2h0.8v0.8h-0.8zM85.8 508.9h0.8v0.8h-0.8zM86.9 509.7h0.8v0.8h-0.8zM83.0 507.3h0.8v0.8h-0.8zM88.7 508.2h0.8v0.8h-0.8zM83.0 506.9h0.8v0.8h-0.8zM86.5 509.8h0.8v0.8h-0.8zM89.0 506.2h0.8v0.8h-0.8zM83.5 507.4h0.8v0.8h-0.8zM84.5 506.7h0.8v0.8h-0.8zM86.6 505.0h0.8v0.8h-0.8zM86.7 509.8h0.8v0.8h-0.8zM86.7 509.4h0.8v0.8h-0.8zM86.8 504.8h0.8v0.8h-0.8zM88.1 507.9h0.8v0.8h-0.8zM84.7 506.4h0.8v0.8h-0.8zM86.5 509.7h0.8v0.8h-0.8zM88.3 506.2h0.8v0.8h-0.8zM86.9 509.6h0.8v0.8h-0.8zM85.2 509.4h0.8v0.8h-0.8zM86.5 504.8h0.8v0.8h-0.8zM86.2 509.6h0.8v0.8h-0.8zM88.6 506.1h0.8v0.8h-0.8zM85.8 509.5h0.8v0.8h-0.8zM88.6 506.8h0.8v0.8h-0.8zM85.2 509.1h0.8v0.8h-0.8zM88.3 508.8h0.8v0.8h-0.8zM84.1 506.6h0.8v0.8h-0.8zM88.7 507.9h0.8v0.8h-0.8zM83.3 507.6h0.8v0.8h-0.8zM88.4 508.3h0.8v0.8h-0.8zM86.9 505.3h0.8v0.8h-0.8zM86.9 509.5h0.8v0.8h-0.8zM85.4 509.6h0.8v0.8h-0.8zM83.8 507.1h0.8v0.8h-0.8zM86.4 505.6h0.8v0.8h-0.8zM88.4 506.7h0.8v0.8h-0.8zM83.4 507.7h0.8v0.8h-0.8zM83.6 507.8h0.8v0.8h-0.8zM88.1 506.5h0.8v0.8h-0.8zM88.4 506.3h0.8v0.8h-0.8zM86.7 509.5h0.8v0.8h-0.8zM85.3 509.7h0.8v0.8h-0.8zM86.1 509.1h0.8v0.8h-0.8zM83.5 507.0h0.8v0.8h-0.8zM88.0 506.0h0.8v0.8h-0.8zM88.9 508.8h0.8v0.8h-0.8zM85.0 509.3h0.8v0.8h-0.8z"/><path fill="rgb(254, 144, 0)" d="M88.5 507.1h0.8v0.8h-0.8zM87.2 508.2h0.8v0.8h-0.8zM84.1 508.1h0.8v0.8h-0.8zM88.8 507.1h0.8v0.8h-0.8zM88.7 506.8h0.8v0.8h-0.8zM84.3 508.8h0.8v0.8h-0.8zM87.0 508.8h0.8v0.8h-0.8zM88.1 507.2h0.8v0.8h-0.8zM84.3 508.8h0.8v0.8h-0.8zM87.4 508.2h0.8v0.8h-0.8zM87.1 507.8h0.8v0.8h-0.8zM87.1 508.0h0.8v0.8h-0.8zM84.7 507.9h0.8v0.8h-0.8zM87.3 507.9h0.8v0.8h-0.8zM88.2 507.7h0.8v0.8h-0.8zM88.9 507.2h0.8v0.8h-0.8zM88.7 507.5h0.8v0.8h-0.8zM87.6 508.6h0.8v0.8h-0.8zM84.2 507.9h0.8v0.8h-0.8zM84.6 508.7h0.8v0.8h-0.8zM84.6 508.4h0.8v0.8h-0.8zM84.3 508.4h0.8v0.8h-0.8zM88.0 506.8h0.8v0.8h-0.8zM87.6 507.9h0.8v0.8h-0.8zM88.4 507.4h0.8v0.8h-0.8zM84.3 508.0h0.8v0.8h-0.8zM87.9 508.4h0.8v0.8h-0.8zM88.9 507.3h0.8v0.8h-0.8zM84.6 508.4h0.8v0.8h-0.8zM84.5 507.9h0.8v0.8h-0.8zM84.0 508.3h0.8v0.8h-0.8zM87.3 508.3h0.8v0.8h-0.8zM87.9 508.7h0.8v0.8h-0.8zM87.3 508.1h0.8v0.8h-0.8zM84.4 508.5h0.8v0.8h-0.8zM87.1 508.5h0.8v0.8h-0.8zM87.4 508.5h0.8v0.8h-0.8zM88.3 507.6h0.8v0.8h-0.8zM88.4 507.5h0.8v0.8h-0.8zM84.2 508.2h0.8v0.8h-0.8zM88.9 507.4h0.8v0.8h-0.8zM88.0 507.5h0.8v0.8h-0.8zM88.4 507.1h0.8v0.8h-0.8zM84.9 508.5h0.8v0.8h-0.8zM88.2 507.7h0.8v0.8h-0.8zM84.1 508.1h0.8v0.8h-0.8zM88.2 507.6h0.8v0.8h-0.8zM87.5 508.5h0.8v0.8h-0.8zM88.0 508.8h0.8v0.8h-0.8zM87.2 508.7h0.8v0.8h-0.8zM84.1 508.6h0.8v0.8h-0.8zM88.7 507.2h0.8v0.8h-0.8zM87.7 508.2h0.8v0.8h-0.8zM88.7 506.8h0.8v0.8h-0.8z"/><path fill="rgb(247, 94, 3)" d="M86.7 508.0h0.8v0.8h-0.8zM85.4 506.2h0.8v0.8h-0.8zM87.8 507.7h0.8v0.8h-0.8zM86.3 505.9h0.8v0.8h-0.8zM86.8 508.6h0.8v0.8h-0.8zM87.0 508.4h0.8v0.8h-0.8zM86.4 508.7h0.8v0.8h-0.8zM86.7 508.6h0.8v0.8h-0.8zM86.7 506.6h0.8v0.8h-0.8zM87.2 507.1h0.8v0.8h-0.8zM85.5 505.8h0.8v0.8h-0.8zM86.3 506.8h0.8v0.8h-0.8zM86.8 508.6h0.8v0.8h-0.8zM86.8 508.5h0.8v0.8h-0.8zM85.3 506.3h0.8v0.8h-0.8zM84.3 507.1h0.8v0.8h-0.8zM86.7 505.9h0.8v0.8h-0.8zM86.4 506.5h0.8v0.8h-0.8zM85.6 506.0h0.8v0.8h-0.8zM86.0 506.2h0.8v0.8h-0.8zM84.7 507.5h0.8v0.8h-0.8zM85.2 507.9h0.8v0.8h-0.8zM85.7 506.6h0.8v0.8h-0.8zM85.0 508.8h0.8v0.8h-0.8zM87.2 507.2h0.8v0.8h-0.8zM87.8 506.6h0.8v0.8h-0.8zM87.1 506.3h0.8v0.8h-0.8zM87.1 507.4h0.8v0.8h-0.8zM85.6 506.0h0.8v0.8h-0.8zM86.6 508.2h0.8v0.8h-0.8zM86.6 506.1h0.8v0.8h-0.8zM87.5 507.8h0.8v0.8h-0.8zM87.9 507.5h0.8v0.8h-0.8zM87.0 507.2h0.8v0.8h-0.8zM86.1 506.6h0.8v0.8h-0.8zM87.7 507.3h0.8v0.8h-0.8zM85.1 505.9h0.8v0.8h-0.8zM86.0 507.8h0.8v0.8h-0.8zM85.2 508.2h0.8v0.8h-0.8zM86.0 505.9h0.8v0.8h-0.8zM84.3 507.3h0.8v0.8h-0.8zM87.1 507.0h0.8v0.8h-0.8zM87.9 507.2h0.8v0.8h-0.8zM85.3 506.7h0.8v0.8h-0.8zM86.6 506.1h0.8v0.8h-0.8zM87.6 506.9h0.8v0.8h-0.8zM85.3 505.9h0.8v0.8h-0.8zM86.1 506.7h0.8v0.8h-0.8zM84.5 507.6h0.8v0.8h-0.8zM87.3 506.9h0.8v0.8h-0.8zM86.4 508.6h0.8v0.8h-0.8zM84.3 506.9h0.8v0.8h-0.8zM87.5 505.9h0.8v0.8h-0.8zM87.0 507.3h0.8v0.8h-0.8zM85.8 505.8h0.8v0.8h-0.8zM87.8 506.9h0.8v0.8h-0.8zM85.7 506.8h0.8v0.8h-0.8zM87.0 507.3h0.8v0.8h-0.8zM85.2 506.2h0.8v0.8h-0.8zM85.6 506.8h0.8v0.8h-0.8zM87.1 507.6h0.8v0.8h-0.8zM87.7 507.6h0.8v0.8h-0.8zM84.9 507.5h0.8v0.8h-0.8zM85.1 508.7h0.8v0.8h-0.8zM87.5 507.4h0.8v0.8h-0.8zM86.7 508.7h0.8v0.8h-0.8zM87.3 506.7h0.8v0.8h-0.8zM86.5 508.0h0.8v0.8h-0.8zM85.1 507.9h0.8v0.8h-0.8zM86.5 508.5h0.8v0.8h-0.8zM87.4 506.4h0.8v0.8h-0.8zM86.6 505.8h0.8v0.8h-0.8zM87.1 505.8h0.8v0.8h-0.8zM86.3 507.9h0.8v0.8h-0.8zM87.8 506.5h0.8v0.8h-0.8zM85.2 506.1h0.8v0.8h-0.8zM84.6 507.5h0.8v0.8h-0.8zM86.3 508.8h0.8v0.8h-0.8zM87.8 506.2h0.8v0.8h-0.8zM86.3 508.3h0.8v0.8h-0.8zM87.9 506.5h0.8v0.8h-0.8zM84.6 507.5h0.8v0.8h-0.8zM84.9 507.4h0.8v0.8h-0.8zM87.1 507.1h0.8v0.8h-0.8zM85.0 506.9h0.8v0.8h-0.8zM85.9 507.9h0.8v0.8h-0.8zM86.2 508.5h0.8v0.8h-0.8zM87.2 507.5h0.8v0.8h-0.8zM86.4 506.6h0.8v0.8h-0.8zM84.7 507.1h0.8v0.8h-0.8zM85.2 508.6h0.8v0.8h-0.8zM87.4 507.4h0.8v0.8h-0.8zM88.0 507.1h0.8v0.8h-0.8zM86.0 508.0h0.8v0.8h-0.8zM85.9 506.4h0.8v0.8h-0.8zM86.4 506.4h0.8v0.8h-0.8zM87.4 505.9h0.8v0.8h-0.8zM85.0 506.5h0.8v0.8h-0.8zM85.9 506.1h0.8v0.8h-0.8zM87.7 506.1h0.8v0.8h-0.8zM86.5 508.1h0.8v0.8h-0.8zM85.7 508.3h0.8v0.8h-0.8zM85.9 507.9h0.8v0.8h-0.8zM84.2 507.8h0.8v0.8h-0.8zM86.2 508.3h0.8v0.8h-0.8zM85.5 508.4h0.8v0.8h-0.8zM86.7 506.2h0.8v0.8h-0.8zM86.7 506.8h0.8v0.8h-0.8zM87.6 507.8h0.8v0.8h-0.8zM87.3 507.6h0.8v0.8h-0.8zM87.5 506.3h0.8v0.8h-0.8zM86.7 505.9h0.8v0.8h-0.8zM84.0 507.6h0.8v0.8h-0.8zM84.9 507.3h0.8v0.8h-0.8zM84.5 507.6h0.8v0.8h-0.8zM87.6 507.0h0.8v0.8h-0.8zM85.2 506.0h0.8v0.8h-0.8zM86.3 508.0h0.8v0.8h-0.8zM87.0 508.8h0.8v0.8h-0.8zM87.2 507.2h0.8v0.8h-0.8zM87.3 506.4h0.8v0.8h-0.8zM85.5 505.9h0.8v0.8h-0.8zM85.8 508.1h0.8v0.8h-0.8zM86.6 506.6h0.8v0.8h-0.8zM84.8 507.5h0.8v0.8h-0.8zM87.4 506.3h0.8v0.8h-0.8zM86.3 508.1h0.8v0.8h-0.8zM86.4 506.0h0.8v0.8h-0.8zM87.5 506.4h0.8v0.8h-0.8zM85.5 508.2h0.8v0.8h-0.8zM85.1 508.3h0.8v0.8h-0.8zM86.2 508.1h0.8v0.8h-0.8zM85.0 506.6h0.8v0.8h-0.8zM87.9 506.5h0.8v0.8h-0.8zM87.3 506.7h0.8v0.8h-0.8zM86.8 508.5h0.8v0.8h-0.8zM86.2 506.6h0.8v0.8h-0.8zM84.2 507.5h0.8v0.8h-0.8zM85.5 505.9h0.8v0.8h-0.8zM87.7 507.3h0.8v0.8h-0.8zM87.0 505.9h0.8v0.8h-0.8zM84.3 507.3h0.8v0.8h-0.8zM86.3 508.8h0.8v0.8h-0.8zM85.1 506.2h0.8v0.8h-0.8zM85.3 508.3h0.8v0.8h-0.8zM85.0 506.8h0.8v0.8h-0.8zM84.8 507.1h0.8v0.8h-0.8zM86.9 508.7h0.8v0.8h-0.8zM84.1 507.7h0.8v0.8h-0.8zM85.1 508.8h0.8v0.8h-0.8zM86.0 506.0h0.8v0.8h-0.8zM87.5 507.0h0.8v0.8h-0.8zM85.1 508.5h0.8v0.8h-0.8zM85.7 508.6h0.8v0.8h-0.8zM85.5 508.7h0.8v0.8h-0.8zM86.0 508.2h0.8v0.8h-0.8zM86.9 506.3h0.8v0.8h-0.8zM84.8 507.6h0.8v0.8h-0.8zM85.0 507.9h0.8v0.8h-0.8zM85.9 506.4h0.8v0.8h-0.8zM84.3 507.4h0.8v0.8h-0.8zM87.2 506.2h0.8v0.8h-0.8zM84.7 507.7h0.8v0.8h-0.8zM85.9 507.8h0.8v0.8h-0.8zM86.0 508.4h0.8v0.8h-0.8zM84.2 507.0h0.8v0.8h-0.8zM87.1 506.1h0.8v0.8h-0.8zM87.1 506.2h0.8v0.8h-0.8zM86.9 506.5h0.8v0.8h-0.8zM85.8 505.9h0.8v0.8h-0.8zM84.8 507.7h0.8v0.8h-0.8zM86.6 508.5h0.8v0.8h-0.8zM85.9 506.8h0.8v0.8h-0.8z"/><path fill="rgb(239, 45, 7)" d="M85.1 506.8h0.8v0.8h-0.8zM86.8 507.1h0.8v0.8h-0.8zM86.4 507.7h0.8v0.8h-0.8zM85.1 507.7h0.8v0.8h-0.8zM86.8 507.5h0.8v0.8h-0.8zM85.1 507.6h0.8v0.8h-0.8zM85.4 507.7h0.8v0.8h-0.8zM85.6 507.1h0.8v0.8h-0.8zM85.4 507.3h0.8v0.8h-0.8zM86.0 507.3h0.8v0.8h-0.8zM86.2 507.1h0.8v0.8h-0.8zM85.5 507.3h0.8v0.8h-0.8zM86.5 507.6h0.8v0.8h-0.8zM85.2 507.7h0.8v0.8h-0.8zM85.2 507.0h0.8v0.8h-0.8zM86.2 507.6h0.8v0.8h-0.8zM86.0 507.7h0.8v0.8h-0.8zM86.4 507.7h0.8v0.8h-0.8zM86.6 507.4h0.8v0.8h-0.8zM85.8 507.4h0.8v0.8h-0.8zM85.0 507.3h0.8v0.8h-0.8zM86.9 506.9h0.8v0.8h-0.8zM86.1 507.7h0.8v0.8h-0.8zM85.5 507.4h0.8v0.8h-0.8zM85.8 507.4h0.8v0.8h-0.8zM85.8 507.6h0.8v0.8h-0.8zM86.9 507.2h0.8v0.8h-0.8zM85.4 507.2h0.8v0.8h-0.8zM85.1 507.1h0.8v0.8h-0.8zM86.3 507.7h0.8v0.8h-0.8zM86.9 507.5h0.8v0.8h-0.8zM85.6 507.7h0.8v0.8h-0.8zM86.3 507.4h0.8v0.8h-0.8zM87.0 507.0h0.8v0.8h-0.8zM86.8 507.7h0.8v0.8h-0.8zM85.9 506.9h0.8v0.8h-0.8zM86.0 506.9h0.8v0.8h-0.8zM85.2 507.8h0.8v0.8h-0.8zM86.1 507.5h0.8v0.8h-0.8zM86.5 506.9h0.8v0.8h-0.8zM86.8 507.8h0.8v0.8h-0.8zM85.8 507.1h0.8v0.8h-0.8zM85.7 507.6h0.8v0.8h-0.8zM86.3 507.4h0.8v0.8h-0.8zM85.5 507.7h0.8v0.8h-0.8zM85.4 507.8h0.8v0.8h-0.8zM86.7 507.1h0.8v0.8h-0.8zM86.6 507.7h0.8v0.8h-0.8zM85.2 507.7h0.8v0.8h-0.8zM85.3 507.4h0.8v0.8h-0.8zM85.8 507.6h0.8v0.8h-0.8zM85.5 507.4h0.8v0.8h-0.8zM86.9 507.0h0.8v0.8h-0.8zM85.9 506.9h0.8v0.8h-0.8zM85.3 507.3h0.8v0.8h-0.8zM85.6 507.3h0.8v0.8h-0.8zM86.9 507.8h0.8v0.8h-0.8zM86.5 506.8h0.8v0.8h-0.8zM85.8 507.1h0.8v0.8h-0.8zM85.4 507.3h0.8v0.8h-0.8zM86.8 507.5h0.8v0.8h-0.8zM85.3 506.8h0.8v0.8h-0.8zM86.2 507.8h0.8v0.8h-0.8zM85.7 507.0h0.8v0.8h-0.8zM86.8 507.2h0.8v0.8h-0.8zM86.6 507.3h0.8v0.8h-0.8zM86.1 507.2h0.8v0.8h-0.8zM86.0 506.9h0.8v0.8h-0.8zM86.8 507.0h0.8v0.8h-0.8z"/>
<path fill="rgb(38, 45, 255)" d="M169.3 542.5h0.8v0.8h-0.8zM183.6 555.1h0.8v0.8h-0.8zM170.4 548.3h0.8v0.8h-0.8zM173.5 541.3h0.8v0.8h-0.8zM170.6 551.0h0.8v0.8h-0.8zM185.4 555.7h0.8v0.8h-0.8zM226.3 546.9h0.8v0.8h-0.8zM227.8 545.6h0.8v0.8h-0.8zM213.4 521.2h0.8v0.8h-0.8zM212.9 552.8h0.8v0.8h-0.8zM225.7 525.4h0.8v0.8h-0.8zM224.6 522.8h0.8v0.8h-0.8zM182.8 525.7h0.8v0.8h-0.8zM178.2 539.7h0.8v0.8h-0.8zM195.9 516.2h0.8v0.8h-0.8zM196.1 513.1h0.8v0.8h-0.8zM199.6 522.0h0.8v0.8h-0.8zM183.3 527.1h0.8v0.8h-0.8zM235.5 531.9h0.8v0.8h-0.8zM187.1 521.7h0.8v0.8h-0.8zM191.8 515.9h0.8v0.8h-0.8zM205.5 535.1h0.8v0.8h-0.8zM192.9 524.2h0.8v0.8h-0.8zM173.7 514.2h0.8v0.8h-0.8zM211.2 538.4h0.8v0.8h-0.8zM181.4 514.6h0.8v0.8h-0.8zM199.7 524.7h0.8v0.8h-0.8zM186.1 521.9h0.8v0.8h-0.8zM203.8 552.8h0.8v0.8h-0.8zM195.7 521.8h0.8v0.8h-0.8zM212.0 525.0h0.8v0.8h-0.8zM180.8 520.7h0.8v0.8h-0.8zM180.7 523.9h0.8v0.8h-0.8zM174.9 524.9h0.8v0.8h-0.8zM167.4 525.5h0.8v0.8h-0.8zM188.5 525.5h0.8v0.8h-0.8zM209.3 539.4h0.8v0.8h-0.8zM186.5 525.6h0.8v0.8h-0.8zM210.6 508.5h0.8v0.8h-0.8zM204.9 518.2h0.8v0.8h-0.8zM231.0 529.9h0.8v0.8h-0.8z"/><path fill="rgb(36, 57, 255)" d="M175.0 544.3h0.8v0.8h-0.8zM175.3 546.7h0.8v0.8h-0.8zM175.0 547.4h0.8v0.8h-0.8zM200.1 552.1h0.8v0.8h-0.8zM173.2 544.6h0.8v0.8h-0.8zM171.9 545.9h0.8v0.8h-0.8zM196.2 552.9h0.8v0.8h-0.8zM175.0 549.6h0.8v0.8h-0.8zM173.7 548.4h0.8v0.8h-0.8zM172.5 544.4h0.8v0.8h-0.8zM174.9 550.3h0.8v0.8h-0.8zM179.3 542.2h0.8v0.8h-0.8zM208.4 543.5h0.8v0.8h-0.8zM175.8 542.0h0.8v0.8h-0.8zM177.6 542.0h0.8v0.8h-0.8zM174.5 544.7h0.8v0.8h-0.8zM173.9 545.4h0.8v0.8h-0.8zM182.4 541.9h0.8v0.8h-0.8zM221.6 549.2h0.8v0.8h-0.8zM212.3 543.8h0.8v0.8h-0.8zM218.6 550.6h0.8v0.8h-0.8zM225.5 529.1h0.8v0.8h-0.8zM226.3 533.9h0.8v0.8h-0.8zM220.2 550.1h0.8v0.8h-0.8zM213.1 544.0h0.8v0.8h-0.8zM218.1 522.4h0.8v0.8h-0.8zM227.3 527.4h0.8v0.8h-0.8zM213.1 542.9h0.8v0.8h-0.8zM217.2 518.2h0.8v0.8h-0.8zM223.7 527.8h0.8v0.8h-0.8zM215.9 518.3h0.8v0.8h-0.8zM216.6 521.1h0.8v0.8h-0.8zM227.8 537.6h0.8v0.8h-0.8zM219.4 522.1h0.8v0.8h-0.8zM225.6 540.6h0.8v0.8h-0.8zM225.8 537.4h0.8v0.8h-0.8zM227.7 529.0h0.8v0.8h-0.8zM219.1 521.7h0.8v0.8h-0.8zM224.6 544.3h0.8v0.8h-0.8zM225.5 541.2h0.8v0.8h-0.8zM212.2 528.2h0.8v0.8h-0.8zM211.9 530.8h0.8v0.8h-0.8zM226.6 532.4h0.8v0.8h-0.8zM212.1 536.0h0.8v0.8h-0.8zM217.7 551.2h0.8v0.8h-0.8zM179.8 532.2h0.8v0.8h-0.8zM180.9 534.1h0.8v0.8h-0.8zM179.6 535.9h0.8v0.8h-0.8zM190.8 528.9h0.8v0.8h-0.8zM188.0 530.9h0.8v0.8h-0.8zM184.3 540.3h0.8v0.8h-0.8zM197.4 534.6h0.8v0.8h-0.8zM179.2 536.1h0.8v0.8h-0.8zM200.3 535.7h0.8v0.8h-0.8zM185.3 537.5h0.8v0.8h-0.8zM182.7 534.2h0.8v0.8h-0.8zM186.3 529.0h0.8v0.8h-0.8zM197.4 528.9h0.8v0.8h-0.8zM197.9 532.6h0.8v0.8h-0.8zM183.4 531.9h0.8v0.8h-0.8zM191.4 530.0h0.8v0.8h-0.8zM194.0 527.7h0.8v0.8h-0.8zM180.1 531.0h0.8v0.8h-0.8zM183.5 535.5h0.8v0.8h-0.8zM194.2 529.7h0.8v0.8h-0.8zM194.0 528.4h0.8v0.8h-0.8zM181.4 537.9h0.8v0.8h-0.8zM186.4 530.7h0.8v0.8h-0.8zM183.7 537.5h0.8v0.8h-0.8zM182.1 533.3h0.8v0.8h-0.8zM192.2 528.3h0.8v0.8h-0.8zM200.1 535.6h0.8v0.8h-0.8zM197.1 540.8h0.8v0.8h-0.8zM197.8 528.0h0.8v0.8h-0.8zM199.9 536.6h0.8v0.8h-0.8zM200.9 530.5h0.8v0.8h-0.8zM213.0 541.4h0.8v0.8h-0.8zM209.2 519.5h0.8v0.8h-0.8zM186.2 529.7h0.8v0.8h-0.8zM194.3 530.7h0.8v0.8h-0.8zM205.8 526.4h0.8v0.8h-0.8zM226.9 527.1h0.8v0.8h-0.8zM196.9 535.1h0.8v0.8h-0.8zM205.8 530.6h0.8v0.8h-0.8zM196.5 526.9h0.8v0.8h-0.8zM172.2 545.0h0.8v0.8h-0.8zM202.5 532.1h0.8v0.8h-0.8zM203.7 539.4h0.8v0.8h-0.8zM207.1 528.3h0.8v0.8h-0.8zM208.5 533.7h0.8v0.8h-0.8zM210.9 532.3h0.8v0.8h-0.8zM198.0 536.4h0.8v0.8h-0.8zM193.6 527.8h0.8v0.8h-0.8zM199.5 530.9h0.8v0.8h-0.8zM220.7 521.1h0.8v0.8h-0.8zM201.5 537.3h0.8v0.8h-0.8zM227.8 528.6h0.8v0.8h-0.8zM200.5 533.8h0.8v0.8h-0.8zM190.1 528.3h0.8v0.8h-0.8zM207.7 519.1h0.8v0.8h-0.8zM205.1 543.7h0.8v0.8h-0.8zM203.5 540.9h0.8v0.8h-0.8zM199.6 537.8h0.8v0.8h-0.8zM206.5 530.6h0.8v0.8h-0.8zM201.4 535.5h0.8v0.8h-0.8zM202.6 534.8h0.8v0.8h-0.8zM206.9 528.3h0.8v0.8h-0.8zM185.3 527.3h0.8v0.8h-0.8zM213.1 529.8h0.8v0.8h-0.8zM207.5 526.0h0.8v0.8h-0.8zM205.5 526.5h0.8v0.8h-0.8zM180.0 536.2h0.8v0.8h-0.8zM195.3 526.4h0.8v0.8h-0.8zM202.3 534.9h0.8v0.8h-0.8zM207.4 523.2h0.8v0.8h-0.8zM206.6 532.1h0.8v0.8h-0.8zM204.2 540.0h0.8v0.8h-0.8zM209.7 535.3h0.8v0.8h-0.8zM198.1 527.1h0.8v0.8h-0.8zM208.5 530.9h0.8v0.8h-0.8zM206.9 518.8h0.8v0.8h-0.8zM208.8 522.4h0.8v0.8h-0.8zM201.1 531.1h0.8v0.8h-0.8zM208.4 527.5h0.8v0.8h-0.8zM198.9 541.0h0.8v0.8h-0.8zM212.7 528.1h0.8v0.8h-0.8zM197.6 525.0h0.8v0.8h-0.8zM208.1 523.7h0.8v0.8h-0.8zM209.1 533.1h0.8v0.8h-0.8z"/><path fill="rgb(34, 68, 255)" d="M200.8 541.8h0.8v0.8h-0.8zM203.2 543.3h0.8v0.8h-0.8zM200.9 542.6h0.8v0.8h-0.8zM196.8 551.8h0.8v0.8h-0.8zM190.5 552.3h0.8v0.8h-0.8zM197.7 551.9h0.8v0.8h-0.8zM187.9 552.7h0.8v0.8h-0.8zM192.6 540.3h0.8v0.8h-0.8zM176.5 548.3h0.8v0.8h-0.8zM201.3 550.9h0.8v0.8h-0.8zM179.7 542.9h0.8v0.8h-0.8zM180.3 543.0h0.8v0.8h-0.8zM180.2 550.3h0.8v0.8h-0.8zM200.1 550.6h0.8v0.8h-0.8zM195.0 551.4h0.8v0.8h-0.8zM206.6 549.7h0.8v0.8h-0.8zM203.3 543.3h0.8v0.8h-0.8zM182.5 552.0h0.8v0.8h-0.8zM181.3 542.3h0.8v0.8h-0.8zM200.6 542.9h0.8v0.8h-0.8zM176.0 548.2h0.8v0.8h-0.8zM203.8 544.0h0.8v0.8h-0.8zM207.9 549.2h0.8v0.8h-0.8zM189.3 552.8h0.8v0.8h-0.8zM201.5 550.4h0.8v0.8h-0.8zM216.3 526.3h0.8v0.8h-0.8zM213.7 534.7h0.8v0.8h-0.8zM218.9 548.9h0.8v0.8h-0.8zM224.9 538.5h0.8v0.8h-0.8zM215.1 546.0h0.8v0.8h-0.8zM225.0 537.7h0.8v0.8h-0.8zM214.2 535.9h0.8v0.8h-0.8zM219.7 547.4h0.8v0.8h-0.8zM218.6 548.4h0.8v0.8h-0.8zM219.1 547.6h0.8v0.8h-0.8zM220.8 547.3h0.8v0.8h-0.8zM217.5 548.5h0.8v0.8h-0.8zM222.7 544.3h0.8v0.8h-0.8zM213.8 538.5h0.8v0.8h-0.8zM225.4 539.1h0.8v0.8h-0.8zM214.6 527.0h0.8v0.8h-0.8zM225.9 532.8h0.8v0.8h-0.8zM218.0 523.1h0.8v0.8h-0.8zM224.5 538.5h0.8v0.8h-0.8zM223.8 544.1h0.8v0.8h-0.8zM214.1 538.9h0.8v0.8h-0.8zM220.1 547.7h0.8v0.8h-0.8zM214.2 532.7h0.8v0.8h-0.8zM218.6 524.1h0.8v0.8h-0.8zM225.4 530.9h0.8v0.8h-0.8zM220.9 523.2h0.8v0.8h-0.8zM212.7 549.0h0.8v0.8h-0.8zM223.7 542.8h0.8v0.8h-0.8zM214.0 535.9h0.8v0.8h-0.8zM221.3 524.6h0.8v0.8h-0.8zM215.4 528.8h0.8v0.8h-0.8zM215.8 526.8h0.8v0.8h-0.8zM213.6 536.7h0.8v0.8h-0.8zM223.5 528.1h0.8v0.8h-0.8zM220.8 524.1h0.8v0.8h-0.8zM225.6 538.8h0.8v0.8h-0.8zM213.8 533.1h0.8v0.8h-0.8zM218.6 524.7h0.8v0.8h-0.8zM221.0 524.6h0.8v0.8h-0.8zM214.0 527.4h0.8v0.8h-0.8zM214.8 528.7h0.8v0.8h-0.8zM216.9 525.4h0.8v0.8h-0.8zM221.2 523.9h0.8v0.8h-0.8zM214.4 532.6h0.8v0.8h-0.8zM214.4 530.0h0.8v0.8h-0.8zM214.4 537.4h0.8v0.8h-0.8zM214.4 531.2h0.8v0.8h-0.8zM225.0 530.8h0.8v0.8h-0.8zM186.4 539.5h0.8v0.8h-0.8zM192.6 538.8h0.8v0.8h-0.8zM183.7 536.3h0.8v0.8h-0.8zM186.4 535.7h0.8v0.8h-0.8zM195.5 536.3h0.8v0.8h-0.8zM189.0 539.3h0.8v0.8h-0.8zM181.4 536.5h0.8v0.8h-0.8zM187.9 532.3h0.8v0.8h-0.8zM190.3 531.3h0.8v0.8h-0.8zM186.6 531.3h0.8v0.8h-0.8zM188.7 535.9h0.8v0.8h-0.8zM183.3 532.7h0.8v0.8h-0.8zM195.0 537.1h0.8v0.8h-0.8zM191.4 536.6h0.8v0.8h-0.8zM185.2 539.1h0.8v0.8h-0.8zM185.1 542.0h0.8v0.8h-0.8zM188.7 539.1h0.8v0.8h-0.8zM188.9 533.2h0.8v0.8h-0.8zM187.8 536.7h0.8v0.8h-0.8zM184.7 532.2h0.8v0.8h-0.8zM194.9 534.0h0.8v0.8h-0.8zM190.8 538.1h0.8v0.8h-0.8zM187.8 534.7h0.8v0.8h-0.8zM187.0 534.8h0.8v0.8h-0.8zM182.8 532.1h0.8v0.8h-0.8zM188.2 541.6h0.8v0.8h-0.8zM190.8 534.6h0.8v0.8h-0.8zM193.6 540.0h0.8v0.8h-0.8zM186.4 540.4h0.8v0.8h-0.8zM193.7 537.0h0.8v0.8h-0.8zM196.2 534.4h0.8v0.8h-0.8zM191.2 538.3h0.8v0.8h-0.8zM188.9 540.0h0.8v0.8h-0.8zM187.4 535.9h0.8v0.8h-0.8zM184.2 532.6h0.8v0.8h-0.8zM190.8 533.1h0.8v0.8h-0.8zM187.8 534.7h0.8v0.8h-0.8zM191.0 538.1h0.8v0.8h-0.8zM193.4 539.0h0.8v0.8h-0.8zM190.8 533.5h0.8v0.8h-0.8zM191.5 537.4h0.8v0.8h-0.8zM190.0 532.7h0.8v0.8h-0.8zM187.0 535.6h0.8v0.8h-0.8zM186.6 535.0h0.8v0.8h-0.8zM193.1 539.7h0.8v0.8h-0.8zM186.9 532.0h0.8v0.8h-0.8zM185.3 539.3h0.8v0.8h-0.8zM183.1 536.9h0.8v0.8h-0.8zM193.5 535.9h0.8v0.8h-0.8zM195.3 532.3h0.8v0.8h-0.8zM194.0 538.5h0.8v0.8h-0.8zM187.6 536.0h0.8v0.8h-0.8zM188.6 535.7h0.8v0.8h-0.8zM193.6 532.6h0.8v0.8h-0.8zM194.7 538.5h0.8v0.8h-0.8zM187.2 533.0h0.8v0.8h-0.8zM188.6 532.9h0.8v0.8h-0.8zM186.9 537.1h0.8v0.8h-0.8zM184.5 539.4h0.8v0.8h-0.8zM194.1 535.4h0.8v0.8h-0.8zM193.3 535.0h0.8v0.8h-0.8zM181.8 536.6h0.8v0.8h-0.8zM195.1 533.5h0.8v0.8h-0.8zM191.4 536.5h0.8v0.8h-0.8zM195.0 537.4h0.8v0.8h-0.8zM193.9 534.2h0.8v0.8h-0.8zM189.2 535.6h0.8v0.8h-0.8zM188.1 537.3h0.8v0.8h-0.8zM187.8 540.1h0.8v0.8h-0.8zM190.1 538.9h0.8v0.8h-0.8zM225.1 529.9h0.8v0.8h-0.8zM194.8 537.7h0.8v0.8h-0.8zM190.9 533.8h0.8v0.8h-0.8zM194.0 536.3h0.8v0.8h-0.8zM193.8 538.1h0.8v0.8h-0.8zM183.7 532.9h0.8v0.8h-0.8zM185.8 540.0h0.8v0.8h-0.8zM188.3 532.0h0.8v0.8h-0.8zM224.8 532.6h0.8v0.8h-0.8zM182.9 536.2h0.8v0.8h-0.8zM189.2 532.4h0.8v0.8h-0.8zM188.5 538.5h0.8v0.8h-0.8zM191.0 532.6h0.8v0.8h-0.8zM189.6 532.9h0.8v0.8h-0.8zM193.9 534.5h0.8v0.8h-0.8zM183.5 531.2h0.8v0.8h-0.8zM195.7 534.0h0.8v0.8h-0.8zM194.2 532.0h0.8v0.8h-0.8zM198.2 541.2h0.8v0.8h-0.8zM212.6 545.9h0.8v0.8h-0.8zM210.6 548.6h0.8v0.8h-0.8zM207.9 549.8h0.8v0.8h-0.8zM209.5 549.7h0.8v0.8h-0.8zM210.2 546.1h0.8v0.8h-0.8zM212.2 548.4h0.8v0.8h-0.8zM210.2 549.6h0.8v0.8h-0.8zM210.8 548.4h0.8v0.8h-0.8zM211.8 545.7h0.8v0.8h-0.8zM213.8 548.9h0.8v0.8h-0.8z"/><path fill="rgb(32, 79, 255)" d="M184.7 542.5h0.8v0.8h-0.8zM180.4 549.3h0.8v0.8h-0.8zM177.0 546.2h0.8v0.8h-0.8zM179.6 549.2h0.8v0.8h-0.8zM202.9 549.2h0.8v0.8h-0.8zM190.2 551.3h0.8v0.8h-0.8zM200.7 543.6h0.8v0.8h-0.8zM177.9 547.7h0.8v0.8h-0.8zM185.1 551.5h0.8v0.8h-0.8zM202.5 544.2h0.8v0.8h-0.8zM190.5 541.7h0.8v0.8h-0.8zM186.0 542.7h0.8v0.8h-0.8zM199.7 543.1h0.8v0.8h-0.8zM197.9 550.4h0.8v0.8h-0.8zM187.5 551.2h0.8v0.8h-0.8zM177.4 546.2h0.8v0.8h-0.8zM190.9 551.8h0.8v0.8h-0.8zM194.1 542.0h0.8v0.8h-0.8zM200.0 542.9h0.8v0.8h-0.8zM191.1 541.8h0.8v0.8h-0.8zM184.1 552.0h0.8v0.8h-0.8zM184.2 542.7h0.8v0.8h-0.8zM184.1 551.2h0.8v0.8h-0.8zM190.4 551.3h0.8v0.8h-0.8zM193.1 541.6h0.8v0.8h-0.8zM177.1 547.3h0.8v0.8h-0.8zM198.7 542.6h0.8v0.8h-0.8zM185.0 551.9h0.8v0.8h-0.8zM190.7 541.6h0.8v0.8h-0.8zM186.4 551.5h0.8v0.8h-0.8zM184.7 542.2h0.8v0.8h-0.8zM180.5 550.5h0.8v0.8h-0.8zM177.7 548.0h0.8v0.8h-0.8zM205.4 549.9h0.8v0.8h-0.8zM179.8 549.9h0.8v0.8h-0.8zM202.0 545.1h0.8v0.8h-0.8zM199.7 542.2h0.8v0.8h-0.8zM188.3 551.9h0.8v0.8h-0.8zM202.6 549.7h0.8v0.8h-0.8zM178.0 545.4h0.8v0.8h-0.8zM215.4 546.8h0.8v0.8h-0.8zM176.7 546.3h0.8v0.8h-0.8zM219.4 528.7h0.8v0.8h-0.8zM222.8 543.7h0.8v0.8h-0.8zM223.5 537.5h0.8v0.8h-0.8zM224.1 535.6h0.8v0.8h-0.8zM217.3 545.2h0.8v0.8h-0.8zM216.5 546.6h0.8v0.8h-0.8zM220.3 527.7h0.8v0.8h-0.8zM215.2 541.0h0.8v0.8h-0.8zM223.9 535.3h0.8v0.8h-0.8zM217.4 527.6h0.8v0.8h-0.8zM216.3 530.3h0.8v0.8h-0.8zM220.1 546.9h0.8v0.8h-0.8zM216.4 528.0h0.8v0.8h-0.8zM217.9 546.4h0.8v0.8h-0.8zM223.1 529.6h0.8v0.8h-0.8zM219.7 527.2h0.8v0.8h-0.8zM215.2 536.4h0.8v0.8h-0.8zM216.6 547.9h0.8v0.8h-0.8zM223.8 531.8h0.8v0.8h-0.8zM215.2 538.4h0.8v0.8h-0.8zM218.4 526.6h0.8v0.8h-0.8zM216.3 547.6h0.8v0.8h-0.8zM219.0 525.7h0.8v0.8h-0.8zM216.8 544.3h0.8v0.8h-0.8zM216.1 543.0h0.8v0.8h-0.8zM223.9 538.4h0.8v0.8h-0.8zM218.4 528.7h0.8v0.8h-0.8zM215.3 533.4h0.8v0.8h-0.8zM216.9 546.4h0.8v0.8h-0.8zM215.2 538.3h0.8v0.8h-0.8zM215.9 547.6h0.8v0.8h-0.8zM217.8 547.8h0.8v0.8h-0.8zM216.3 546.5h0.8v0.8h-0.8zM214.7 541.2h0.8v0.8h-0.8zM223.5 532.8h0.8v0.8h-0.8zM215.2 530.0h0.8v0.8h-0.8zM214.6 531.4h0.8v0.8h-0.8zM217.8 525.2h0.8v0.8h-0.8zM214.5 529.5h0.8v0.8h-0.8zM224.4 530.6h0.8v0.8h-0.8zM220.5 526.5h0.8v0.8h-0.8zM217.0 528.8h0.8v0.8h-0.8zM218.0 525.1h0.8v0.8h-0.8zM221.1 527.9h0.8v0.8h-0.8zM215.5 542.2h0.8v0.8h-0.8zM214.7 541.3h0.8v0.8h-0.8zM218.5 527.9h0.8v0.8h-0.8zM221.7 544.4h0.8v0.8h-0.8zM213.9 546.9h0.8v0.8h-0.8zM223.2 529.3h0.8v0.8h-0.8zM224.1 535.1h0.8v0.8h-0.8zM223.8 532.7h0.8v0.8h-0.8zM220.5 527.2h0.8v0.8h-0.8zM216.9 528.4h0.8v0.8h-0.8zM221.6 544.4h0.8v0.8h-0.8zM217.2 544.8h0.8v0.8h-0.8zM216.5 530.3h0.8v0.8h-0.8zM219.4 526.6h0.8v0.8h-0.8zM216.0 543.7h0.8v0.8h-0.8zM220.3 526.2h0.8v0.8h-0.8zM216.4 531.2h0.8v0.8h-0.8zM215.8 532.5h0.8v0.8h-0.8zM223.8 539.5h0.8v0.8h-0.8zM215.8 527.5h0.8v0.8h-0.8zM213.5 546.5h0.8v0.8h-0.8zM215.6 528.7h0.8v0.8h-0.8zM216.9 526.1h0.8v0.8h-0.8zM214.5 535.0h0.8v0.8h-0.8zM215.4 540.1h0.8v0.8h-0.8zM221.7 544.8h0.8v0.8h-0.8zM218.7 526.1h0.8v0.8h-0.8zM215.4 534.0h0.8v0.8h-0.8zM221.0 527.9h0.8v0.8h-0.8zM214.8 532.1h0.8v0.8h-0.8zM220.6 527.5h0.8v0.8h-0.8zM221.8 528.8h0.8v0.8h-0.8zM219.8 525.2h0.8v0.8h-0.8zM223.8 532.8h0.8v0.8h-0.8zM219.2 525.0h0.8v0.8h-0.8zM215.6 543.0h0.8v0.8h-0.8zM215.4 546.5h0.8v0.8h-0.8zM194.4 541.8h0.8v0.8h-0.8zM188.6 541.9h0.8v0.8h-0.8zM197.3 542.8h0.8v0.8h-0.8zM215.6 531.3h0.8v0.8h-0.8zM215.9 532.9h0.8v0.8h-0.8zM183.0 542.6h0.8v0.8h-0.8zM217.5 526.0h0.8v0.8h-0.8zM192.3 541.2h0.8v0.8h-0.8zM189.9 541.5h0.8v0.8h-0.8zM213.1 547.6h0.8v0.8h-0.8zM216.1 546.6h0.8v0.8h-0.8zM215.6 548.1h0.8v0.8h-0.8zM211.2 546.5h0.8v0.8h-0.8zM210.3 548.1h0.8v0.8h-0.8zM208.6 548.4h0.8v0.8h-0.8zM209.2 547.4h0.8v0.8h-0.8zM208.9 546.8h0.8v0.8h-0.8zM213.0 547.5h0.8v0.8h-0.8zM208.9 545.7h0.8v0.8h-0.8zM209.3 546.5h0.8v0.8h-0.8zM209.2 546.0h0.8v0.8h-0.8zM210.5 547.4h0.8v0.8h-0.8zM208.9 546.3h0.8v0.8h-0.8zM215.8 546.0h0.8v0.8h-0.8zM213.8 547.7h0.8v0.8h-0.8zM208.4 546.7h0.8v0.8h-0.8zM213.2 546.5h0.8v0.8h-0.8zM212.3 546.7h0.8v0.8h-0.8zM213.2 547.2h0.8v0.8h-0.8zM208.3 548.4h0.8v0.8h-0.8zM209.8 547.9h0.8v0.8h-0.8zM208.8 547.3h0.8v0.8h-0.8zM207.6 546.1h0.8v0.8h-0.8zM206.8 546.0h0.8v0.8h-0.8zM211.0 547.1h0.8v0.8h-0.8zM211.1 546.8h0.8v0.8h-0.8zM206.3 545.2h0.8v0.8h-0.8zM213.9 546.9h0.8v0.8h-0.8zM208.0 547.1h0.8v0.8h-0.8zM204.5 549.5h0.8v0.8h-0.8zM209.2 547.6h0.8v0.8h-0.8zM210.8 547.5h0.8v0.8h-0.8zM216.1 547.7h0.8v0.8h-0.8zM210.3 547.9h0.8v0.8h-0.8z"/><path fill="rgb(29, 93, 254)" d="M201.8 549.0h0.8v0.8h-0.8zM198.7 543.7h0.8v0.8h-0.8zM203.1 548.2h0.8v0.8h-0.8zM205.9 546.7h0.8v0.8h-0.8zM200.8 549.3h0.8v0.8h-0.8zM180.1 544.3h0.8v0.8h-0.8zM177.7 547.1h0.8v0.8h-0.8zM196.0 550.5h0.8v0.8h-0.8zM195.7 542.9h0.8v0.8h-0.8zM207.0 547.2h0.8v0.8h-0.8zM183.1 544.0h0.8v0.8h-0.8zM178.1 546.4h0.8v0.8h-0.8zM197.3 550.2h0.8v0.8h-0.8zM204.5 545.1h0.8v0.8h-0.8zM204.4 548.7h0.8v0.8h-0.8zM204.5 548.4h0.8v0.8h-0.8zM200.8 544.5h0.8v0.8h-0.8zM201.6 548.8h0.8v0.8h-0.8zM185.3 550.9h0.8v0.8h-0.8zM199.7 549.9h0.8v0.8h-0.8zM179.2 545.9h0.8v0.8h-0.8zM203.5 546.1h0.8v0.8h-0.8zM183.3 550.3h0.8v0.8h-0.8zM200.2 549.8h0.8v0.8h-0.8zM178.9 545.3h0.8v0.8h-0.8zM207.0 546.2h0.8v0.8h-0.8zM183.4 550.9h0.8v0.8h-0.8zM182.9 550.5h0.8v0.8h-0.8zM198.6 549.6h0.8v0.8h-0.8zM179.6 545.0h0.8v0.8h-0.8zM178.3 546.8h0.8v0.8h-0.8zM202.9 549.0h0.8v0.8h-0.8zM203.0 548.6h0.8v0.8h-0.8zM202.4 545.8h0.8v0.8h-0.8zM223.0 530.0h0.8v0.8h-0.8zM219.8 545.2h0.8v0.8h-0.8zM217.9 529.1h0.8v0.8h-0.8zM219.8 528.3h0.8v0.8h-0.8zM220.8 529.4h0.8v0.8h-0.8zM222.6 541.4h0.8v0.8h-0.8zM220.1 545.8h0.8v0.8h-0.8zM222.6 538.6h0.8v0.8h-0.8zM216.4 540.8h0.8v0.8h-0.8zM218.2 530.3h0.8v0.8h-0.8zM221.9 529.8h0.8v0.8h-0.8zM222.5 537.8h0.8v0.8h-0.8zM222.0 542.5h0.8v0.8h-0.8zM219.3 529.8h0.8v0.8h-0.8zM218.3 530.3h0.8v0.8h-0.8zM218.2 545.4h0.8v0.8h-0.8zM222.5 530.9h0.8v0.8h-0.8zM220.1 529.8h0.8v0.8h-0.8zM219.5 528.3h0.8v0.8h-0.8zM222.9 541.9h0.8v0.8h-0.8zM221.0 544.6h0.8v0.8h-0.8zM222.6 540.4h0.8v0.8h-0.8zM216.6 532.0h0.8v0.8h-0.8zM217.0 543.6h0.8v0.8h-0.8zM223.0 531.2h0.8v0.8h-0.8zM217.9 545.6h0.8v0.8h-0.8zM221.7 542.3h0.8v0.8h-0.8zM222.7 530.9h0.8v0.8h-0.8zM218.4 545.5h0.8v0.8h-0.8zM218.5 529.3h0.8v0.8h-0.8zM221.0 529.6h0.8v0.8h-0.8zM217.4 543.8h0.8v0.8h-0.8zM222.9 541.2h0.8v0.8h-0.8zM220.3 545.3h0.8v0.8h-0.8zM217.7 545.6h0.8v0.8h-0.8zM220.8 528.0h0.8v0.8h-0.8zM220.8 544.7h0.8v0.8h-0.8zM220.8 529.7h0.8v0.8h-0.8zM216.9 530.2h0.8v0.8h-0.8zM222.3 542.6h0.8v0.8h-0.8zM217.9 544.3h0.8v0.8h-0.8zM216.2 541.3h0.8v0.8h-0.8zM224.1 534.7h0.8v0.8h-0.8zM215.8 534.5h0.8v0.8h-0.8zM217.3 531.8h0.8v0.8h-0.8zM215.5 536.0h0.8v0.8h-0.8zM217.0 529.3h0.8v0.8h-0.8zM219.0 546.0h0.8v0.8h-0.8zM215.7 534.5h0.8v0.8h-0.8zM223.1 541.1h0.8v0.8h-0.8zM216.8 529.3h0.8v0.8h-0.8zM222.9 530.7h0.8v0.8h-0.8zM224.3 534.9h0.8v0.8h-0.8zM223.2 531.1h0.8v0.8h-0.8zM220.8 528.2h0.8v0.8h-0.8zM217.1 532.5h0.8v0.8h-0.8zM216.9 531.4h0.8v0.8h-0.8zM218.3 529.4h0.8v0.8h-0.8zM218.3 530.9h0.8v0.8h-0.8zM216.0 540.9h0.8v0.8h-0.8zM222.9 530.4h0.8v0.8h-0.8zM216.1 534.1h0.8v0.8h-0.8zM218.1 530.9h0.8v0.8h-0.8zM216.0 535.6h0.8v0.8h-0.8zM216.7 530.0h0.8v0.8h-0.8zM223.1 530.2h0.8v0.8h-0.8zM223.0 541.6h0.8v0.8h-0.8zM222.4 529.9h0.8v0.8h-0.8zM215.9 535.2h0.8v0.8h-0.8zM222.0 543.3h0.8v0.8h-0.8zM179.7 544.3h0.8v0.8h-0.8zM222.2 529.2h0.8v0.8h-0.8zM206.1 548.3h0.8v0.8h-0.8zM200.6 544.1h0.8v0.8h-0.8zM204.6 546.0h0.8v0.8h-0.8zM204.8 548.9h0.8v0.8h-0.8zM205.9 548.5h0.8v0.8h-0.8zM205.9 547.7h0.8v0.8h-0.8zM206.4 546.9h0.8v0.8h-0.8zM205.7 547.7h0.8v0.8h-0.8zM205.1 548.8h0.8v0.8h-0.8zM206.4 546.3h0.8v0.8h-0.8zM207.3 547.5h0.8v0.8h-0.8zM207.1 548.0h0.8v0.8h-0.8zM202.1 548.8h0.8v0.8h-0.8zM206.4 547.4h0.8v0.8h-0.8zM202.6 548.4h0.8v0.8h-0.8zM207.8 547.2h0.8v0.8h-0.8zM203.6 548.8h0.8v0.8h-0.8zM207.1 546.7h0.8v0.8h-0.8zM204.2 545.4h0.8v0.8h-0.8zM204.7 545.5h0.8v0.8h-0.8zM205.5 547.3h0.8v0.8h-0.8z"/><path fill="rgb(19, 124, 248)" d="M202.0 546.7h0.8v0.8h-0.8zM201.0 548.3h0.8v0.8h-0.8zM183.1 549.5h0.8v0.8h-0.8zM200.7 545.6h0.8v0.8h-0.8zM199.7 545.1h0.8v0.8h-0.8zM203.4 547.0h0.8v0.8h-0.8zM184.4 544.0h0.8v0.8h-0.8zM179.7 548.2h0.8v0.8h-0.8zM202.9 547.2h0.8v0.8h-0.8zM180.3 548.2h0.8v0.8h-0.8zM179.4 547.3h0.8v0.8h-0.8zM197.7 550.0h0.8v0.8h-0.8zM202.2 547.4h0.8v0.8h-0.8zM201.4 548.4h0.8v0.8h-0.8zM203.3 547.7h0.8v0.8h-0.8zM204.0 546.3h0.8v0.8h-0.8zM195.3 542.7h0.8v0.8h-0.8zM202.2 548.0h0.8v0.8h-0.8zM199.8 544.7h0.8v0.8h-0.8zM203.1 547.1h0.8v0.8h-0.8zM181.6 549.6h0.8v0.8h-0.8zM179.2 546.2h0.8v0.8h-0.8zM197.5 543.2h0.8v0.8h-0.8zM184.3 544.1h0.8v0.8h-0.8zM183.3 550.1h0.8v0.8h-0.8zM194.7 550.7h0.8v0.8h-0.8zM181.1 544.4h0.8v0.8h-0.8zM195.3 543.0h0.8v0.8h-0.8zM183.5 544.1h0.8v0.8h-0.8zM180.5 544.6h0.8v0.8h-0.8zM203.5 547.3h0.8v0.8h-0.8zM198.0 549.5h0.8v0.8h-0.8zM194.1 543.0h0.8v0.8h-0.8zM181.1 544.8h0.8v0.8h-0.8zM194.9 542.8h0.8v0.8h-0.8zM202.6 547.2h0.8v0.8h-0.8zM193.5 550.6h0.8v0.8h-0.8zM202.6 547.1h0.8v0.8h-0.8zM185.7 551.0h0.8v0.8h-0.8zM204.8 546.2h0.8v0.8h-0.8zM181.1 544.9h0.8v0.8h-0.8zM182.0 549.2h0.8v0.8h-0.8zM178.7 547.8h0.8v0.8h-0.8zM181.0 544.4h0.8v0.8h-0.8zM182.1 549.3h0.8v0.8h-0.8zM194.2 542.2h0.8v0.8h-0.8zM182.7 549.4h0.8v0.8h-0.8zM179.4 547.8h0.8v0.8h-0.8zM202.4 546.7h0.8v0.8h-0.8zM178.5 548.0h0.8v0.8h-0.8zM178.5 547.9h0.8v0.8h-0.8zM179.8 549.0h0.8v0.8h-0.8zM194.6 550.3h0.8v0.8h-0.8zM182.5 549.8h0.8v0.8h-0.8zM179.0 547.7h0.8v0.8h-0.8zM194.0 543.0h0.8v0.8h-0.8zM200.7 548.1h0.8v0.8h-0.8zM221.8 540.2h0.8v0.8h-0.8zM218.7 531.3h0.8v0.8h-0.8zM222.0 539.9h0.8v0.8h-0.8zM219.4 544.0h0.8v0.8h-0.8zM219.1 543.7h0.8v0.8h-0.8zM221.5 538.6h0.8v0.8h-0.8zM215.8 536.4h0.8v0.8h-0.8zM220.5 544.1h0.8v0.8h-0.8zM216.6 542.3h0.8v0.8h-0.8zM219.4 530.1h0.8v0.8h-0.8zM219.8 543.1h0.8v0.8h-0.8zM217.0 533.3h0.8v0.8h-0.8zM218.7 531.8h0.8v0.8h-0.8zM222.1 539.9h0.8v0.8h-0.8zM221.9 538.7h0.8v0.8h-0.8zM219.5 544.3h0.8v0.8h-0.8zM223.0 536.0h0.8v0.8h-0.8zM221.6 539.5h0.8v0.8h-0.8zM222.7 536.0h0.8v0.8h-0.8zM221.8 532.4h0.8v0.8h-0.8zM221.7 538.6h0.8v0.8h-0.8zM222.9 535.1h0.8v0.8h-0.8zM221.6 539.6h0.8v0.8h-0.8zM220.3 543.3h0.8v0.8h-0.8zM218.6 545.0h0.8v0.8h-0.8zM217.2 534.5h0.8v0.8h-0.8zM216.0 539.8h0.8v0.8h-0.8zM216.6 543.0h0.8v0.8h-0.8zM219.9 531.7h0.8v0.8h-0.8zM222.5 532.7h0.8v0.8h-0.8zM222.7 534.1h0.8v0.8h-0.8zM223.1 536.1h0.8v0.8h-0.8zM223.1 534.6h0.8v0.8h-0.8zM217.6 543.3h0.8v0.8h-0.8zM220.5 530.9h0.8v0.8h-0.8zM221.8 538.3h0.8v0.8h-0.8zM217.2 541.7h0.8v0.8h-0.8zM221.5 541.5h0.8v0.8h-0.8zM216.0 537.2h0.8v0.8h-0.8zM219.5 544.1h0.8v0.8h-0.8zM219.5 543.9h0.8v0.8h-0.8zM222.3 538.9h0.8v0.8h-0.8zM222.4 540.5h0.8v0.8h-0.8zM222.3 532.4h0.8v0.8h-0.8zM220.0 544.2h0.8v0.8h-0.8zM221.2 531.1h0.8v0.8h-0.8zM223.3 533.6h0.8v0.8h-0.8zM217.6 531.9h0.8v0.8h-0.8zM221.8 532.9h0.8v0.8h-0.8zM215.9 537.7h0.8v0.8h-0.8zM222.4 542.0h0.8v0.8h-0.8zM221.9 539.4h0.8v0.8h-0.8zM215.5 538.5h0.8v0.8h-0.8zM222.8 534.9h0.8v0.8h-0.8zM217.2 535.0h0.8v0.8h-0.8zM220.1 544.9h0.8v0.8h-0.8zM217.7 543.9h0.8v0.8h-0.8zM221.1 531.9h0.8v0.8h-0.8zM219.4 543.4h0.8v0.8h-0.8zM219.7 531.8h0.8v0.8h-0.8zM217.5 531.5h0.8v0.8h-0.8zM221.7 539.2h0.8v0.8h-0.8zM221.8 539.0h0.8v0.8h-0.8zM222.2 541.6h0.8v0.8h-0.8zM220.3 544.1h0.8v0.8h-0.8zM221.0 543.4h0.8v0.8h-0.8zM216.0 536.9h0.8v0.8h-0.8zM216.5 538.8h0.8v0.8h-0.8zM218.9 543.6h0.8v0.8h-0.8zM220.2 530.5h0.8v0.8h-0.8zM220.3 531.6h0.8v0.8h-0.8zM223.4 533.0h0.8v0.8h-0.8zM222.4 532.6h0.8v0.8h-0.8zM219.3 530.8h0.8v0.8h-0.8zM218.3 532.6h0.8v0.8h-0.8zM222.1 531.8h0.8v0.8h-0.8zM220.5 531.7h0.8v0.8h-0.8zM220.7 531.0h0.8v0.8h-0.8zM215.8 536.2h0.8v0.8h-0.8zM220.8 531.0h0.8v0.8h-0.8zM218.2 532.5h0.8v0.8h-0.8zM220.4 531.0h0.8v0.8h-0.8zM220.0 531.9h0.8v0.8h-0.8zM216.4 538.9h0.8v0.8h-0.8zM221.1 542.3h0.8v0.8h-0.8zM222.4 532.5h0.8v0.8h-0.8zM222.7 534.1h0.8v0.8h-0.8zM219.3 544.9h0.8v0.8h-0.8zM222.5 536.3h0.8v0.8h-0.8zM220.7 542.7h0.8v0.8h-0.8zM217.3 535.0h0.8v0.8h-0.8zM220.9 530.9h0.8v0.8h-0.8zM222.0 531.1h0.8v0.8h-0.8zM218.1 532.1h0.8v0.8h-0.8zM221.3 542.2h0.8v0.8h-0.8zM220.1 531.3h0.8v0.8h-0.8zM221.8 532.7h0.8v0.8h-0.8zM221.0 531.9h0.8v0.8h-0.8zM193.7 542.3h0.8v0.8h-0.8zM217.1 541.2h0.8v0.8h-0.8zM216.8 533.6h0.8v0.8h-0.8zM203.3 546.6h0.8v0.8h-0.8zM219.8 543.2h0.8v0.8h-0.8zM203.5 547.1h0.8v0.8h-0.8zM202.5 546.6h0.8v0.8h-0.8zM204.8 547.5h0.8v0.8h-0.8zM204.8 546.6h0.8v0.8h-0.8zM204.4 547.0h0.8v0.8h-0.8zM205.1 547.5h0.8v0.8h-0.8zM205.3 547.9h0.8v0.8h-0.8zM203.5 546.7h0.8v0.8h-0.8zM203.3 547.0h0.8v0.8h-0.8zM205.2 547.8h0.8v0.8h-0.8zM203.7 546.9h0.8v0.8h-0.8zM201.3 549.0h0.8v0.8h-0.8zM205.0 547.2h0.8v0.8h-0.8z"/><path fill="rgb(10, 155, 241)" d="M192.3 542.7h0.8v0.8h-0.8zM181.1 548.6h0.8v0.8h-0.8zM179.8 546.7h0.8v0.8h-0.8zM186.0 543.4h0.8v0.8h-0.8zM188.2 550.9h0.8v0.8h-0.8zM180.1 545.9h0.8v0.8h-0.8zM196.8 549.2h0.8v0.8h-0.8zM198.9 548.8h0.8v0.8h-0.8zM179.7 546.1h0.8v0.8h-0.8zM190.1 542.9h0.8v0.8h-0.8zM189.8 550.5h0.8v0.8h-0.8zM183.1 544.5h0.8v0.8h-0.8zM180.9 548.2h0.8v0.8h-0.8zM198.6 548.5h0.8v0.8h-0.8zM181.6 544.7h0.8v0.8h-0.8zM198.6 544.8h0.8v0.8h-0.8zM200.8 547.8h0.8v0.8h-0.8zM181.2 548.9h0.8v0.8h-0.8zM180.0 547.0h0.8v0.8h-0.8zM180.4 547.0h0.8v0.8h-0.8zM199.5 548.2h0.8v0.8h-0.8zM196.5 543.5h0.8v0.8h-0.8zM201.1 547.9h0.8v0.8h-0.8zM199.7 548.7h0.8v0.8h-0.8zM182.4 544.9h0.8v0.8h-0.8zM179.7 547.8h0.8v0.8h-0.8zM181.2 548.6h0.8v0.8h-0.8zM196.8 543.9h0.8v0.8h-0.8zM198.7 544.2h0.8v0.8h-0.8zM182.8 544.9h0.8v0.8h-0.8zM181.3 548.9h0.8v0.8h-0.8zM189.9 550.4h0.8v0.8h-0.8zM201.1 547.4h0.8v0.8h-0.8zM199.4 548.4h0.8v0.8h-0.8zM192.5 550.3h0.8v0.8h-0.8zM180.3 546.5h0.8v0.8h-0.8zM196.8 544.0h0.8v0.8h-0.8zM191.0 542.2h0.8v0.8h-0.8zM181.6 544.4h0.8v0.8h-0.8zM201.0 547.6h0.8v0.8h-0.8zM189.8 542.2h0.8v0.8h-0.8zM199.1 549.0h0.8v0.8h-0.8zM180.4 546.1h0.8v0.8h-0.8zM184.3 549.5h0.8v0.8h-0.8zM179.4 545.5h0.8v0.8h-0.8zM184.3 549.3h0.8v0.8h-0.8zM189.7 550.9h0.8v0.8h-0.8zM188.5 550.7h0.8v0.8h-0.8zM191.7 542.2h0.8v0.8h-0.8zM189.9 543.0h0.8v0.8h-0.8zM180.4 545.7h0.8v0.8h-0.8zM183.4 545.1h0.8v0.8h-0.8zM179.6 546.1h0.8v0.8h-0.8zM182.6 544.9h0.8v0.8h-0.8zM197.1 543.5h0.8v0.8h-0.8zM191.0 551.0h0.8v0.8h-0.8zM180.0 545.8h0.8v0.8h-0.8zM200.6 546.7h0.8v0.8h-0.8zM199.2 544.4h0.8v0.8h-0.8zM180.3 546.0h0.8v0.8h-0.8zM182.7 544.6h0.8v0.8h-0.8zM186.1 543.5h0.8v0.8h-0.8zM221.8 534.5h0.8v0.8h-0.8zM222.4 534.7h0.8v0.8h-0.8zM216.5 537.8h0.8v0.8h-0.8zM222.3 535.7h0.8v0.8h-0.8zM217.5 537.0h0.8v0.8h-0.8zM218.4 533.2h0.8v0.8h-0.8zM218.6 532.8h0.8v0.8h-0.8zM216.9 539.1h0.8v0.8h-0.8zM221.8 536.3h0.8v0.8h-0.8zM220.7 541.1h0.8v0.8h-0.8zM222.2 537.3h0.8v0.8h-0.8zM217.4 536.8h0.8v0.8h-0.8zM217.3 539.4h0.8v0.8h-0.8zM220.0 542.3h0.8v0.8h-0.8zM217.7 542.3h0.8v0.8h-0.8zM220.1 542.4h0.8v0.8h-0.8zM221.0 538.7h0.8v0.8h-0.8zM219.4 533.0h0.8v0.8h-0.8zM218.1 541.7h0.8v0.8h-0.8zM220.2 542.8h0.8v0.8h-0.8zM217.1 538.3h0.8v0.8h-0.8zM218.2 542.2h0.8v0.8h-0.8zM221.2 540.4h0.8v0.8h-0.8zM221.7 534.5h0.8v0.8h-0.8zM219.8 542.6h0.8v0.8h-0.8zM220.1 532.1h0.8v0.8h-0.8zM222.5 534.7h0.8v0.8h-0.8zM220.9 539.0h0.8v0.8h-0.8zM216.7 538.8h0.8v0.8h-0.8zM216.8 538.7h0.8v0.8h-0.8zM217.7 533.1h0.8v0.8h-0.8zM217.3 538.2h0.8v0.8h-0.8zM218.8 542.8h0.8v0.8h-0.8zM219.9 542.4h0.8v0.8h-0.8zM217.3 536.9h0.8v0.8h-0.8zM217.2 539.6h0.8v0.8h-0.8zM217.1 538.9h0.8v0.8h-0.8zM220.5 542.3h0.8v0.8h-0.8zM216.6 540.5h0.8v0.8h-0.8zM218.6 542.6h0.8v0.8h-0.8zM217.5 541.1h0.8v0.8h-0.8zM221.1 540.0h0.8v0.8h-0.8zM221.5 535.8h0.8v0.8h-0.8zM220.1 532.5h0.8v0.8h-0.8zM219.2 542.1h0.8v0.8h-0.8zM220.4 533.1h0.8v0.8h-0.8zM218.1 542.3h0.8v0.8h-0.8zM216.5 540.9h0.8v0.8h-0.8zM219.0 532.9h0.8v0.8h-0.8zM218.0 541.8h0.8v0.8h-0.8zM218.8 542.5h0.8v0.8h-0.8zM221.4 540.9h0.8v0.8h-0.8zM221.6 534.7h0.8v0.8h-0.8zM219.3 532.2h0.8v0.8h-0.8zM218.3 541.5h0.8v0.8h-0.8zM219.4 542.8h0.8v0.8h-0.8zM218.2 542.0h0.8v0.8h-0.8zM216.9 539.9h0.8v0.8h-0.8zM221.1 540.6h0.8v0.8h-0.8zM217.2 539.5h0.8v0.8h-0.8zM221.5 534.0h0.8v0.8h-0.8zM219.4 532.6h0.8v0.8h-0.8zM222.1 537.3h0.8v0.8h-0.8zM217.1 536.1h0.8v0.8h-0.8zM221.9 533.9h0.8v0.8h-0.8zM221.4 532.2h0.8v0.8h-0.8zM219.5 533.2h0.8v0.8h-0.8zM219.2 542.4h0.8v0.8h-0.8zM219.4 532.6h0.8v0.8h-0.8zM218.4 541.5h0.8v0.8h-0.8zM222.4 537.9h0.8v0.8h-0.8zM217.2 535.9h0.8v0.8h-0.8zM216.7 536.3h0.8v0.8h-0.8zM217.6 533.3h0.8v0.8h-0.8zM218.3 541.8h0.8v0.8h-0.8zM221.9 533.1h0.8v0.8h-0.8zM217.4 537.6h0.8v0.8h-0.8zM221.5 538.7h0.8v0.8h-0.8zM216.9 538.4h0.8v0.8h-0.8zM222.4 536.4h0.8v0.8h-0.8zM220.8 541.5h0.8v0.8h-0.8zM220.2 533.7h0.8v0.8h-0.8zM221.5 534.3h0.8v0.8h-0.8zM218.6 532.7h0.8v0.8h-0.8zM220.6 533.3h0.8v0.8h-0.8zM216.7 538.0h0.8v0.8h-0.8zM221.9 534.2h0.8v0.8h-0.8zM221.9 533.8h0.8v0.8h-0.8zM221.0 532.8h0.8v0.8h-0.8zM216.8 538.8h0.8v0.8h-0.8zM216.7 540.5h0.8v0.8h-0.8zM222.1 534.9h0.8v0.8h-0.8zM219.0 533.0h0.8v0.8h-0.8zM221.8 536.2h0.8v0.8h-0.8zM218.4 533.4h0.8v0.8h-0.8zM217.3 539.2h0.8v0.8h-0.8zM220.6 533.1h0.8v0.8h-0.8zM222.2 536.2h0.8v0.8h-0.8zM222.4 533.8h0.8v0.8h-0.8zM190.9 542.4h0.8v0.8h-0.8zM192.7 542.5h0.8v0.8h-0.8zM221.8 533.6h0.8v0.8h-0.8zM216.9 535.4h0.8v0.8h-0.8zM200.4 548.9h0.8v0.8h-0.8z"/><path fill="rgb(0, 186, 235)" d="M181.4 547.0h0.8v0.8h-0.8zM183.2 548.8h0.8v0.8h-0.8zM183.3 548.2h0.8v0.8h-0.8zM183.2 549.0h0.8v0.8h-0.8zM200.0 547.9h0.8v0.8h-0.8zM181.3 545.4h0.8v0.8h-0.8zM182.4 548.5h0.8v0.8h-0.8zM199.5 547.1h0.8v0.8h-0.8zM180.8 545.7h0.8v0.8h-0.8zM197.7 544.7h0.8v0.8h-0.8zM200.1 545.9h0.8v0.8h-0.8zM182.2 545.7h0.8v0.8h-0.8zM180.7 547.5h0.8v0.8h-0.8zM180.6 547.3h0.8v0.8h-0.8zM184.0 544.1h0.8v0.8h-0.8zM200.0 546.0h0.8v0.8h-0.8zM181.3 546.4h0.8v0.8h-0.8zM184.4 544.5h0.8v0.8h-0.8zM182.4 545.5h0.8v0.8h-0.8zM182.3 548.4h0.8v0.8h-0.8zM196.1 543.5h0.8v0.8h-0.8zM184.5 550.0h0.8v0.8h-0.8zM200.1 547.2h0.8v0.8h-0.8zM181.1 546.1h0.8v0.8h-0.8zM199.7 548.0h0.8v0.8h-0.8zM199.7 545.2h0.8v0.8h-0.8zM184.4 544.4h0.8v0.8h-0.8zM182.3 548.2h0.8v0.8h-0.8zM181.9 545.5h0.8v0.8h-0.8zM181.4 547.3h0.8v0.8h-0.8zM196.2 543.8h0.8v0.8h-0.8zM185.2 549.7h0.8v0.8h-0.8zM180.9 547.6h0.8v0.8h-0.8zM181.8 549.0h0.8v0.8h-0.8zM200.4 545.4h0.8v0.8h-0.8zM181.9 548.8h0.8v0.8h-0.8zM182.5 548.7h0.8v0.8h-0.8zM183.2 548.9h0.8v0.8h-0.8zM187.0 543.3h0.8v0.8h-0.8zM181.2 547.3h0.8v0.8h-0.8zM181.0 548.0h0.8v0.8h-0.8zM186.8 544.0h0.8v0.8h-0.8zM180.9 546.7h0.8v0.8h-0.8zM180.9 547.0h0.8v0.8h-0.8zM180.9 546.2h0.8v0.8h-0.8zM219.8 539.2h0.8v0.8h-0.8zM218.5 539.3h0.8v0.8h-0.8zM220.2 538.4h0.8v0.8h-0.8zM218.3 536.4h0.8v0.8h-0.8zM221.3 537.7h0.8v0.8h-0.8zM217.5 540.3h0.8v0.8h-0.8zM219.1 540.3h0.8v0.8h-0.8zM218.9 533.3h0.8v0.8h-0.8zM219.4 541.0h0.8v0.8h-0.8zM219.2 541.8h0.8v0.8h-0.8zM220.1 540.7h0.8v0.8h-0.8zM217.8 534.0h0.8v0.8h-0.8zM220.1 540.7h0.8v0.8h-0.8zM217.5 534.9h0.8v0.8h-0.8zM219.7 540.2h0.8v0.8h-0.8zM218.7 533.9h0.8v0.8h-0.8zM218.5 541.5h0.8v0.8h-0.8zM219.2 540.7h0.8v0.8h-0.8zM219.0 533.3h0.8v0.8h-0.8zM219.6 539.4h0.8v0.8h-0.8zM217.6 539.9h0.8v0.8h-0.8zM220.4 540.9h0.8v0.8h-0.8zM219.7 540.0h0.8v0.8h-0.8zM218.8 534.2h0.8v0.8h-0.8zM220.4 540.7h0.8v0.8h-0.8zM219.6 539.6h0.8v0.8h-0.8zM218.5 540.1h0.8v0.8h-0.8zM217.5 534.7h0.8v0.8h-0.8zM218.0 539.1h0.8v0.8h-0.8zM219.0 533.8h0.8v0.8h-0.8zM218.3 539.1h0.8v0.8h-0.8zM219.3 534.3h0.8v0.8h-0.8zM219.3 539.8h0.8v0.8h-0.8zM220.3 539.5h0.8v0.8h-0.8zM219.0 540.0h0.8v0.8h-0.8zM219.7 540.6h0.8v0.8h-0.8zM219.8 541.9h0.8v0.8h-0.8zM218.0 536.6h0.8v0.8h-0.8zM220.5 537.8h0.8v0.8h-0.8zM220.5 534.6h0.8v0.8h-0.8zM218.8 534.7h0.8v0.8h-0.8zM218.0 534.8h0.8v0.8h-0.8zM221.2 537.3h0.8v0.8h-0.8zM219.0 534.4h0.8v0.8h-0.8zM219.7 534.2h0.8v0.8h-0.8zM220.0 541.0h0.8v0.8h-0.8zM218.7 533.4h0.8v0.8h-0.8zM217.9 540.8h0.8v0.8h-0.8zM218.8 533.1h0.8v0.8h-0.8zM220.5 534.9h0.8v0.8h-0.8zM219.3 533.5h0.8v0.8h-0.8zM220.6 535.9h0.8v0.8h-0.8zM220.4 534.3h0.8v0.8h-0.8zM220.7 537.9h0.8v0.8h-0.8zM217.6 540.7h0.8v0.8h-0.8zM221.3 534.6h0.8v0.8h-0.8zM220.4 534.4h0.8v0.8h-0.8zM218.5 536.0h0.8v0.8h-0.8zM220.2 541.8h0.8v0.8h-0.8zM220.3 541.7h0.8v0.8h-0.8zM220.2 540.3h0.8v0.8h-0.8zM218.1 536.2h0.8v0.8h-0.8zM221.0 535.6h0.8v0.8h-0.8zM217.6 539.9h0.8v0.8h-0.8zM219.7 541.9h0.8v0.8h-0.8zM220.9 535.9h0.8v0.8h-0.8zM219.1 539.9h0.8v0.8h-0.8zM219.4 541.9h0.8v0.8h-0.8zM218.5 541.3h0.8v0.8h-0.8zM220.2 538.1h0.8v0.8h-0.8zM218.4 540.4h0.8v0.8h-0.8zM220.3 534.1h0.8v0.8h-0.8zM217.5 535.4h0.8v0.8h-0.8zM221.2 535.2h0.8v0.8h-0.8zM218.7 534.6h0.8v0.8h-0.8zM220.9 535.2h0.8v0.8h-0.8zM218.2 534.6h0.8v0.8h-0.8zM218.1 540.2h0.8v0.8h-0.8zM221.4 535.4h0.8v0.8h-0.8zM220.5 541.9h0.8v0.8h-0.8zM219.7 540.2h0.8v0.8h-0.8zM221.0 535.5h0.8v0.8h-0.8zM218.4 539.6h0.8v0.8h-0.8zM219.1 534.3h0.8v0.8h-0.8zM217.6 535.3h0.8v0.8h-0.8zM221.2 534.4h0.8v0.8h-0.8zM218.4 536.2h0.8v0.8h-0.8zM217.8 535.5h0.8v0.8h-0.8zM219.3 541.5h0.8v0.8h-0.8zM220.6 535.3h0.8v0.8h-0.8zM218.1 534.1h0.8v0.8h-0.8z"/><path fill="rgb(12, 199, 198)" d="M183.8 548.7h0.8v0.8h-0.8zM182.5 546.0h0.8v0.8h-0.8zM183.3 545.3h0.8v0.8h-0.8zM183.4 545.2h0.8v0.8h-0.8zM198.9 545.9h0.8v0.8h-0.8zM181.8 546.7h0.8v0.8h-0.8zM181.9 547.1h0.8v0.8h-0.8zM198.0 548.1h0.8v0.8h-0.8zM181.5 546.7h0.8v0.8h-0.8zM183.8 548.8h0.8v0.8h-0.8zM199.1 546.1h0.8v0.8h-0.8zM199.9 546.5h0.8v0.8h-0.8zM200.0 546.6h0.8v0.8h-0.8zM195.2 549.3h0.8v0.8h-0.8zM199.8 546.7h0.8v0.8h-0.8zM199.6 546.3h0.8v0.8h-0.8zM199.8 546.3h0.8v0.8h-0.8zM198.9 545.6h0.8v0.8h-0.8zM200.3 546.4h0.8v0.8h-0.8zM194.5 549.8h0.8v0.8h-0.8zM181.7 547.3h0.8v0.8h-0.8zM184.9 544.7h0.8v0.8h-0.8zM187.7 543.5h0.8v0.8h-0.8zM195.1 549.3h0.8v0.8h-0.8zM181.9 547.8h0.8v0.8h-0.8zM199.0 545.8h0.8v0.8h-0.8zM184.0 548.4h0.8v0.8h-0.8zM199.1 547.6h0.8v0.8h-0.8zM194.0 544.1h0.8v0.8h-0.8zM182.3 547.4h0.8v0.8h-0.8zM188.0 543.6h0.8v0.8h-0.8zM181.9 546.6h0.8v0.8h-0.8zM183.0 545.9h0.8v0.8h-0.8zM182.8 545.6h0.8v0.8h-0.8zM197.7 548.5h0.8v0.8h-0.8zM185.4 544.6h0.8v0.8h-0.8zM195.1 549.2h0.8v0.8h-0.8zM183.0 545.5h0.8v0.8h-0.8zM197.6 548.5h0.8v0.8h-0.8zM194.9 549.3h0.8v0.8h-0.8zM182.1 547.1h0.8v0.8h-0.8zM188.0 543.7h0.8v0.8h-0.8zM182.3 546.2h0.8v0.8h-0.8zM182.3 547.1h0.8v0.8h-0.8zM185.8 549.2h0.8v0.8h-0.8zM197.6 549.0h0.8v0.8h-0.8zM198.5 545.6h0.8v0.8h-0.8zM184.5 544.4h0.8v0.8h-0.8zM182.1 546.6h0.8v0.8h-0.8zM198.5 548.0h0.8v0.8h-0.8zM182.1 546.2h0.8v0.8h-0.8zM199.3 546.0h0.8v0.8h-0.8zM185.8 549.2h0.8v0.8h-0.8zM199.3 545.6h0.8v0.8h-0.8zM199.7 546.7h0.8v0.8h-0.8zM200.1 546.8h0.8v0.8h-0.8zM185.9 549.7h0.8v0.8h-0.8zM181.6 547.6h0.8v0.8h-0.8zM199.3 547.6h0.8v0.8h-0.8zM195.0 544.1h0.8v0.8h-0.8zM183.0 545.3h0.8v0.8h-0.8zM186.3 549.6h0.8v0.8h-0.8zM195.0 543.5h0.8v0.8h-0.8zM181.6 547.0h0.8v0.8h-0.8zM182.1 546.4h0.8v0.8h-0.8zM198.8 547.4h0.8v0.8h-0.8zM182.2 547.7h0.8v0.8h-0.8zM181.8 546.8h0.8v0.8h-0.8zM182.7 545.1h0.8v0.8h-0.8zM197.5 548.2h0.8v0.8h-0.8zM198.8 545.4h0.8v0.8h-0.8zM182.6 546.0h0.8v0.8h-0.8zM185.6 549.7h0.8v0.8h-0.8zM181.6 546.2h0.8v0.8h-0.8zM186.3 549.6h0.8v0.8h-0.8zM198.9 545.3h0.8v0.8h-0.8zM181.5 546.9h0.8v0.8h-0.8zM181.8 547.8h0.8v0.8h-0.8zM199.2 548.1h0.8v0.8h-0.8zM199.1 545.9h0.8v0.8h-0.8zM181.7 548.0h0.8v0.8h-0.8zM181.5 546.4h0.8v0.8h-0.8zM198.9 547.7h0.8v0.8h-0.8zM193.6 543.7h0.8v0.8h-0.8zM196.1 549.4h0.8v0.8h-0.8zM195.1 543.7h0.8v0.8h-0.8zM199.4 545.5h0.8v0.8h-0.8zM181.6 546.4h0.8v0.8h-0.8zM199.5 547.0h0.8v0.8h-0.8zM200.3 546.6h0.8v0.8h-0.8zM188.2 543.1h0.8v0.8h-0.8zM183.5 548.4h0.8v0.8h-0.8zM185.8 549.5h0.8v0.8h-0.8zM218.1 539.0h0.8v0.8h-0.8zM221.1 537.0h0.8v0.8h-0.8zM220.0 537.3h0.8v0.8h-0.8zM221.3 536.8h0.8v0.8h-0.8zM219.2 536.8h0.8v0.8h-0.8zM218.7 538.1h0.8v0.8h-0.8zM221.4 536.0h0.8v0.8h-0.8zM219.2 536.4h0.8v0.8h-0.8zM220.4 537.6h0.8v0.8h-0.8zM218.9 536.0h0.8v0.8h-0.8zM220.2 536.6h0.8v0.8h-0.8zM218.8 538.5h0.8v0.8h-0.8zM220.5 536.9h0.8v0.8h-0.8zM218.9 536.4h0.8v0.8h-0.8zM219.7 535.7h0.8v0.8h-0.8zM219.0 537.5h0.8v0.8h-0.8zM219.2 536.8h0.8v0.8h-0.8zM220.0 536.5h0.8v0.8h-0.8zM218.5 536.9h0.8v0.8h-0.8zM219.4 538.9h0.8v0.8h-0.8zM218.7 535.1h0.8v0.8h-0.8zM218.6 536.7h0.8v0.8h-0.8zM219.1 538.9h0.8v0.8h-0.8zM220.0 535.8h0.8v0.8h-0.8zM220.2 537.9h0.8v0.8h-0.8zM219.3 537.2h0.8v0.8h-0.8zM219.2 538.0h0.8v0.8h-0.8zM219.9 536.2h0.8v0.8h-0.8zM217.8 537.8h0.8v0.8h-0.8zM219.7 535.6h0.8v0.8h-0.8zM219.5 535.7h0.8v0.8h-0.8zM220.4 537.2h0.8v0.8h-0.8zM220.4 536.2h0.8v0.8h-0.8zM220.1 536.5h0.8v0.8h-0.8zM220.8 536.6h0.8v0.8h-0.8zM217.9 538.9h0.8v0.8h-0.8zM218.9 535.5h0.8v0.8h-0.8zM221.0 536.3h0.8v0.8h-0.8zM220.5 537.0h0.8v0.8h-0.8zM220.7 536.8h0.8v0.8h-0.8zM217.7 539.0h0.8v0.8h-0.8zM217.6 537.9h0.8v0.8h-0.8zM219.0 536.1h0.8v0.8h-0.8zM218.6 536.9h0.8v0.8h-0.8zM220.1 537.1h0.8v0.8h-0.8zM220.9 536.7h0.8v0.8h-0.8zM218.5 538.1h0.8v0.8h-0.8zM218.5 538.4h0.8v0.8h-0.8zM219.7 536.7h0.8v0.8h-0.8zM220.1 537.6h0.8v0.8h-0.8zM218.9 537.6h0.8v0.8h-0.8zM220.8 536.5h0.8v0.8h-0.8zM218.5 537.2h0.8v0.8h-0.8zM219.3 535.7h0.8v0.8h-0.8zM219.4 537.7h0.8v0.8h-0.8zM218.6 538.5h0.8v0.8h-0.8zM218.7 535.4h0.8v0.8h-0.8zM218.7 538.2h0.8v0.8h-0.8zM218.9 538.6h0.8v0.8h-0.8zM220.4 537.9h0.8v0.8h-0.8zM220.1 536.8h0.8v0.8h-0.8zM219.0 536.1h0.8v0.8h-0.8zM219.0 536.7h0.8v0.8h-0.8zM220.1 538.0h0.8v0.8h-0.8zM217.8 537.8h0.8v0.8h-0.8zM219.2 535.6h0.8v0.8h-0.8zM220.4 536.2h0.8v0.8h-0.8zM218.3 537.1h0.8v0.8h-0.8zM217.5 537.0h0.8v0.8h-0.8zM219.1 535.2h0.8v0.8h-0.8zM217.9 538.4h0.8v0.8h-0.8zM220.0 536.7h0.8v0.8h-0.8zM218.3 538.8h0.8v0.8h-0.8zM218.6 537.2h0.8v0.8h-0.8zM219.1 538.7h0.8v0.8h-0.8zM219.0 536.0h0.8v0.8h-0.8zM219.5 535.7h0.8v0.8h-0.8zM218.5 538.3h0.8v0.8h-0.8zM218.1 538.7h0.8v0.8h-0.8zM218.1 537.8h0.8v0.8h-0.8zM198.5 545.6h0.8v0.8h-0.8zM199.2 545.1h0.8v0.8h-0.8zM200.4 547.0h0.8v0.8h-0.8z"/><path fill="rgb(27, 210, 156)" d="M197.4 544.9h0.8v0.8h-0.8zM193.1 544.0h0.8v0.8h-0.8zM189.3 543.3h0.8v0.8h-0.8zM182.6 547.7h0.8v0.8h-0.8zM189.1 549.4h0.8v0.8h-0.8zM187.2 549.5h0.8v0.8h-0.8zM198.6 546.9h0.8v0.8h-0.8zM197.2 544.9h0.8v0.8h-0.8zM188.9 544.1h0.8v0.8h-0.8zM183.4 547.7h0.8v0.8h-0.8zM183.3 547.0h0.8v0.8h-0.8zM187.3 549.4h0.8v0.8h-0.8zM193.8 550.0h0.8v0.8h-0.8zM198.5 546.1h0.8v0.8h-0.8zM183.1 547.8h0.8v0.8h-0.8zM194.0 549.7h0.8v0.8h-0.8zM186.0 544.4h0.8v0.8h-0.8zM187.9 549.6h0.8v0.8h-0.8zM196.8 544.2h0.8v0.8h-0.8zM183.0 546.1h0.8v0.8h-0.8zM189.0 549.5h0.8v0.8h-0.8zM186.9 549.6h0.8v0.8h-0.8zM192.5 543.6h0.8v0.8h-0.8zM193.4 544.1h0.8v0.8h-0.8zM183.2 547.7h0.8v0.8h-0.8zM189.0 549.7h0.8v0.8h-0.8zM199.1 546.7h0.8v0.8h-0.8zM198.9 546.7h0.8v0.8h-0.8zM183.2 546.8h0.8v0.8h-0.8zM188.9 543.4h0.8v0.8h-0.8zM196.9 544.5h0.8v0.8h-0.8zM186.4 544.7h0.8v0.8h-0.8zM187.9 549.3h0.8v0.8h-0.8zM187.8 549.6h0.8v0.8h-0.8zM199.0 546.6h0.8v0.8h-0.8zM186.7 549.6h0.8v0.8h-0.8zM198.7 546.7h0.8v0.8h-0.8zM193.9 549.5h0.8v0.8h-0.8zM182.8 546.9h0.8v0.8h-0.8zM197.0 544.9h0.8v0.8h-0.8zM187.2 549.9h0.8v0.8h-0.8zM188.9 549.7h0.8v0.8h-0.8zM188.4 549.5h0.8v0.8h-0.8zM188.9 549.8h0.8v0.8h-0.8zM186.9 549.6h0.8v0.8h-0.8zM183.3 547.1h0.8v0.8h-0.8zM189.1 549.6h0.8v0.8h-0.8zM186.8 549.7h0.8v0.8h-0.8zM196.5 544.2h0.8v0.8h-0.8zM183.1 547.1h0.8v0.8h-0.8zM187.1 549.7h0.8v0.8h-0.8zM187.2 549.3h0.8v0.8h-0.8zM199.2 546.3h0.8v0.8h-0.8zM194.1 550.1h0.8v0.8h-0.8zM199.3 546.9h0.8v0.8h-0.8zM183.4 548.0h0.8v0.8h-0.8zM188.6 543.8h0.8v0.8h-0.8zM193.2 543.3h0.8v0.8h-0.8zM188.3 549.4h0.8v0.8h-0.8zM189.1 549.3h0.8v0.8h-0.8zM188.9 543.2h0.8v0.8h-0.8zM198.7 546.7h0.8v0.8h-0.8z"/><path fill="rgb(43, 220, 116)" d="M192.9 549.4h0.8v0.8h-0.8zM191.1 549.4h0.8v0.8h-0.8zM183.6 546.1h0.8v0.8h-0.8zM184.5 548.2h0.8v0.8h-0.8zM183.9 547.6h0.8v0.8h-0.8zM184.2 545.6h0.8v0.8h-0.8zM192.1 549.4h0.8v0.8h-0.8zM185.1 548.3h0.8v0.8h-0.8zM198.0 546.0h0.8v0.8h-0.8zM183.5 545.3h0.8v0.8h-0.8zM183.4 547.2h0.8v0.8h-0.8zM197.1 548.3h0.8v0.8h-0.8zM185.2 548.1h0.8v0.8h-0.8zM191.8 543.9h0.8v0.8h-0.8zM183.6 545.7h0.8v0.8h-0.8zM185.2 548.6h0.8v0.8h-0.8zM193.2 549.3h0.8v0.8h-0.8zM191.7 549.9h0.8v0.8h-0.8zM183.9 547.8h0.8v0.8h-0.8zM193.3 549.2h0.8v0.8h-0.8zM196.4 544.7h0.8v0.8h-0.8zM197.7 545.8h0.8v0.8h-0.8zM196.6 548.8h0.8v0.8h-0.8zM184.3 545.2h0.8v0.8h-0.8zM190.0 543.6h0.8v0.8h-0.8zM196.9 548.5h0.8v0.8h-0.8zM191.6 550.1h0.8v0.8h-0.8zM190.9 550.1h0.8v0.8h-0.8zM195.5 545.0h0.8v0.8h-0.8zM196.4 544.1h0.8v0.8h-0.8zM197.5 547.5h0.8v0.8h-0.8zM197.4 548.9h0.8v0.8h-0.8zM190.0 549.7h0.8v0.8h-0.8zM191.6 543.1h0.8v0.8h-0.8zM192.0 549.8h0.8v0.8h-0.8zM192.6 549.6h0.8v0.8h-0.8zM190.2 543.9h0.8v0.8h-0.8zM190.3 543.1h0.8v0.8h-0.8zM189.5 549.3h0.8v0.8h-0.8zM195.5 544.2h0.8v0.8h-0.8zM191.9 543.9h0.8v0.8h-0.8zM195.9 544.8h0.8v0.8h-0.8zM197.7 545.3h0.8v0.8h-0.8zM197.9 545.4h0.8v0.8h-0.8zM198.4 546.0h0.8v0.8h-0.8zM183.6 547.6h0.8v0.8h-0.8zM190.4 549.2h0.8v0.8h-0.8zM191.6 543.7h0.8v0.8h-0.8zM197.9 546.1h0.8v0.8h-0.8zM189.7 543.8h0.8v0.8h-0.8zM183.6 547.2h0.8v0.8h-0.8zM183.9 547.8h0.8v0.8h-0.8zM197.9 547.4h0.8v0.8h-0.8zM195.5 545.0h0.8v0.8h-0.8zM196.6 549.0h0.8v0.8h-0.8zM192.4 543.3h0.8v0.8h-0.8zM189.9 549.1h0.8v0.8h-0.8zM183.9 547.3h0.8v0.8h-0.8zM196.9 548.3h0.8v0.8h-0.8zM190.0 549.4h0.8v0.8h-0.8zM196.4 544.9h0.8v0.8h-0.8zM196.5 548.8h0.8v0.8h-0.8zM189.9 549.6h0.8v0.8h-0.8zM198.2 547.4h0.8v0.8h-0.8zM191.3 549.2h0.8v0.8h-0.8zM184.4 546.0h0.8v0.8h-0.8zM197.1 548.5h0.8v0.8h-0.8zM185.3 548.2h0.8v0.8h-0.8zM190.0 549.2h0.8v0.8h-0.8zM191.3 550.1h0.8v0.8h-0.8zM198.4 547.1h0.8v0.8h-0.8zM190.9 549.3h0.8v0.8h-0.8zM184.1 547.9h0.8v0.8h-0.8zM197.5 545.7h0.8v0.8h-0.8zM192.0 543.6h0.8v0.8h-0.8zM191.4 549.8h0.8v0.8h-0.8zM196.3 544.8h0.8v0.8h-0.8zM191.1 549.5h0.8v0.8h-0.8zM190.0 549.7h0.8v0.8h-0.8zM189.7 543.8h0.8v0.8h-0.8zM198.1 545.2h0.8v0.8h-0.8zM192.0 543.1h0.8v0.8h-0.8zM190.1 549.6h0.8v0.8h-0.8zM191.6 549.2h0.8v0.8h-0.8zM192.2 549.8h0.8v0.8h-0.8zM183.9 548.0h0.8v0.8h-0.8zM193.1 549.9h0.8v0.8h-0.8zM192.1 549.4h0.8v0.8h-0.8zM198.3 547.2h0.8v0.8h-0.8zM197.5 545.5h0.8v0.8h-0.8zM191.5 543.3h0.8v0.8h-0.8z"/><path fill="rgb(83, 223, 84)" d="M186.9 544.9h0.8v0.8h-0.8zM184.3 546.8h0.8v0.8h-0.8zM183.9 546.2h0.8v0.8h-0.8zM186.6 544.9h0.8v0.8h-0.8zM197.8 547.0h0.8v0.8h-0.8zM195.5 548.9h0.8v0.8h-0.8zM195.6 548.2h0.8v0.8h-0.8zM198.1 546.9h0.8v0.8h-0.8zM197.1 545.9h0.8v0.8h-0.8zM196.7 545.6h0.8v0.8h-0.8zM185.1 545.3h0.8v0.8h-0.8zM195.6 548.3h0.8v0.8h-0.8zM198.3 547.0h0.8v0.8h-0.8zM196.0 548.6h0.8v0.8h-0.8zM197.2 545.7h0.8v0.8h-0.8zM196.0 548.6h0.8v0.8h-0.8zM197.9 546.2h0.8v0.8h-0.8zM198.2 546.8h0.8v0.8h-0.8zM198.2 547.1h0.8v0.8h-0.8zM183.7 546.1h0.8v0.8h-0.8zM184.0 546.4h0.8v0.8h-0.8zM183.8 546.2h0.8v0.8h-0.8zM196.1 548.2h0.8v0.8h-0.8zM186.9 544.6h0.8v0.8h-0.8zM184.4 545.7h0.8v0.8h-0.8zM183.7 547.0h0.8v0.8h-0.8zM183.9 546.4h0.8v0.8h-0.8zM185.4 546.1h0.8v0.8h-0.8zM186.5 544.4h0.8v0.8h-0.8zM198.2 546.6h0.8v0.8h-0.8zM184.1 546.1h0.8v0.8h-0.8zM196.0 548.6h0.8v0.8h-0.8zM197.9 546.9h0.8v0.8h-0.8zM184.3 546.5h0.8v0.8h-0.8zM185.2 546.1h0.8v0.8h-0.8zM197.5 546.7h0.8v0.8h-0.8zM197.7 546.3h0.8v0.8h-0.8zM187.2 545.0h0.8v0.8h-0.8zM184.6 545.4h0.8v0.8h-0.8zM185.0 545.9h0.8v0.8h-0.8zM197.2 545.9h0.8v0.8h-0.8zM197.6 547.0h0.8v0.8h-0.8zM184.3 546.2h0.8v0.8h-0.8zM186.6 544.5h0.8v0.8h-0.8zM184.3 546.5h0.8v0.8h-0.8zM186.7 544.3h0.8v0.8h-0.8zM185.4 545.8h0.8v0.8h-0.8zM195.9 548.2h0.8v0.8h-0.8zM197.5 546.7h0.8v0.8h-0.8zM197.9 547.0h0.8v0.8h-0.8zM196.3 548.2h0.8v0.8h-0.8zM197.7 546.6h0.8v0.8h-0.8zM196.0 549.0h0.8v0.8h-0.8zM197.8 547.0h0.8v0.8h-0.8zM196.2 549.1h0.8v0.8h-0.8zM195.6 548.8h0.8v0.8h-0.8zM184.7 545.8h0.8v0.8h-0.8zM196.0 548.6h0.8v0.8h-0.8zM196.1 548.3h0.8v0.8h-0.8zM185.2 545.7h0.8v0.8h-0.8zM195.5 548.1h0.8v0.8h-0.8zM185.2 545.6h0.8v0.8h-0.8zM197.6 546.5h0.8v0.8h-0.8zM184.9 545.2h0.8v0.8h-0.8zM187.1 544.4h0.8v0.8h-0.8zM196.0 548.9h0.8v0.8h-0.8zM184.8 546.1h0.8v0.8h-0.8zM197.1 545.3h0.8v0.8h-0.8zM185.1 545.7h0.8v0.8h-0.8zM197.2 545.8h0.8v0.8h-0.8z"/><path fill="rgb(122, 227, 52)" d="M195.3 544.7h0.8v0.8h-0.8zM186.3 548.3h0.8v0.8h-0.8zM196.9 547.4h0.8v0.8h-0.8zM195.3 544.8h0.8v0.8h-0.8zM195.2 545.0h0.8v0.8h-0.8zM187.6 544.9h0.8v0.8h-0.8zM195.4 544.8h0.8v0.8h-0.8zM195.0 544.2h0.8v0.8h-0.8zM185.7 548.6h0.8v0.8h-0.8zM196.9 547.7h0.8v0.8h-0.8zM197.2 547.7h0.8v0.8h-0.8zM188.0 544.7h0.8v0.8h-0.8zM187.8 544.4h0.8v0.8h-0.8zM195.0 544.8h0.8v0.8h-0.8zM197.4 548.0h0.8v0.8h-0.8zM196.6 547.5h0.8v0.8h-0.8zM195.2 544.3h0.8v0.8h-0.8zM194.7 548.6h0.8v0.8h-0.8zM188.0 544.7h0.8v0.8h-0.8zM188.3 544.2h0.8v0.8h-0.8zM194.8 548.1h0.8v0.8h-0.8zM196.8 547.7h0.8v0.8h-0.8zM197.4 547.3h0.8v0.8h-0.8zM196.7 547.9h0.8v0.8h-0.8zM188.2 544.4h0.8v0.8h-0.8zM194.7 548.2h0.8v0.8h-0.8zM187.7 545.0h0.8v0.8h-0.8zM186.2 548.6h0.8v0.8h-0.8zM195.0 544.3h0.8v0.8h-0.8zM188.2 544.7h0.8v0.8h-0.8zM197.1 547.1h0.8v0.8h-0.8zM187.7 544.7h0.8v0.8h-0.8zM196.8 547.7h0.8v0.8h-0.8zM194.7 548.3h0.8v0.8h-0.8zM194.8 544.2h0.8v0.8h-0.8zM195.1 548.9h0.8v0.8h-0.8zM194.6 548.3h0.8v0.8h-0.8zM186.4 548.2h0.8v0.8h-0.8zM195.3 545.1h0.8v0.8h-0.8zM197.1 547.7h0.8v0.8h-0.8zM194.8 548.3h0.8v0.8h-0.8zM194.9 544.4h0.8v0.8h-0.8zM197.2 547.4h0.8v0.8h-0.8zM185.4 548.8h0.8v0.8h-0.8zM196.9 547.6h0.8v0.8h-0.8zM185.6 548.5h0.8v0.8h-0.8zM194.7 544.8h0.8v0.8h-0.8zM188.0 544.6h0.8v0.8h-0.8zM186.3 548.7h0.8v0.8h-0.8zM197.3 547.1h0.8v0.8h-0.8zM186.1 549.1h0.8v0.8h-0.8zM187.9 544.5h0.8v0.8h-0.8zM185.5 548.5h0.8v0.8h-0.8zM196.6 547.2h0.8v0.8h-0.8zM186.1 548.4h0.8v0.8h-0.8zM188.3 544.2h0.8v0.8h-0.8zM187.7 544.4h0.8v0.8h-0.8zM195.2 548.2h0.8v0.8h-0.8zM185.8 548.5h0.8v0.8h-0.8zM194.8 548.3h0.8v0.8h-0.8zM186.3 548.2h0.8v0.8h-0.8zM197.4 547.4h0.8v0.8h-0.8z"/><path fill="rgb(162, 230, 26)" d="M193.7 544.7h0.8v0.8h-0.8zM187.1 548.6h0.8v0.8h-0.8zM185.2 547.5h0.8v0.8h-0.8zM189.3 545.0h0.8v0.8h-0.8zM189.0 544.9h0.8v0.8h-0.8zM193.6 548.9h0.8v0.8h-0.8zM186.4 545.9h0.8v0.8h-0.8zM193.5 548.4h0.8v0.8h-0.8zM196.9 546.9h0.8v0.8h-0.8zM188.7 544.7h0.8v0.8h-0.8zM184.6 547.7h0.8v0.8h-0.8zM186.3 545.6h0.8v0.8h-0.8zM188.8 548.5h0.8v0.8h-0.8zM185.3 547.5h0.8v0.8h-0.8zM187.4 548.6h0.8v0.8h-0.8zM184.6 546.7h0.8v0.8h-0.8zM187.6 549.0h0.8v0.8h-0.8zM196.0 545.4h0.8v0.8h-0.8zM193.8 548.9h0.8v0.8h-0.8zM187.7 548.6h0.8v0.8h-0.8zM184.6 548.0h0.8v0.8h-0.8zM186.1 545.8h0.8v0.8h-0.8zM193.5 544.4h0.8v0.8h-0.8zM197.0 546.8h0.8v0.8h-0.8zM193.5 548.8h0.8v0.8h-0.8zM185.5 545.9h0.8v0.8h-0.8zM187.1 548.2h0.8v0.8h-0.8zM195.9 545.5h0.8v0.8h-0.8zM186.6 548.2h0.8v0.8h-0.8zM187.4 548.6h0.8v0.8h-0.8zM195.6 546.0h0.8v0.8h-0.8zM184.5 547.5h0.8v0.8h-0.8zM185.3 548.0h0.8v0.8h-0.8zM193.8 548.5h0.8v0.8h-0.8zM196.0 545.3h0.8v0.8h-0.8zM196.1 545.8h0.8v0.8h-0.8zM195.6 545.3h0.8v0.8h-0.8zM193.8 544.9h0.8v0.8h-0.8zM184.7 547.9h0.8v0.8h-0.8zM194.3 544.7h0.8v0.8h-0.8zM184.9 547.6h0.8v0.8h-0.8zM197.4 547.0h0.8v0.8h-0.8zM188.9 544.1h0.8v0.8h-0.8zM187.5 548.7h0.8v0.8h-0.8zM197.1 547.0h0.8v0.8h-0.8zM189.0 544.4h0.8v0.8h-0.8zM187.3 548.8h0.8v0.8h-0.8zM185.7 545.2h0.8v0.8h-0.8zM184.6 546.2h0.8v0.8h-0.8zM188.9 548.7h0.8v0.8h-0.8zM193.9 548.2h0.8v0.8h-0.8zM188.3 548.2h0.8v0.8h-0.8zM193.6 548.8h0.8v0.8h-0.8zM196.2 546.0h0.8v0.8h-0.8zM189.2 548.2h0.8v0.8h-0.8zM185.3 546.9h0.8v0.8h-0.8zM184.5 546.9h0.8v0.8h-0.8zM186.3 545.8h0.8v0.8h-0.8zM184.6 547.1h0.8v0.8h-0.8zM185.3 547.5h0.8v0.8h-0.8zM187.4 548.7h0.8v0.8h-0.8zM185.0 546.8h0.8v0.8h-0.8zM184.9 546.9h0.8v0.8h-0.8zM196.3 545.8h0.8v0.8h-0.8zM196.2 545.4h0.8v0.8h-0.8zM184.5 546.6h0.8v0.8h-0.8zM185.5 546.1h0.8v0.8h-0.8zM184.6 547.6h0.8v0.8h-0.8zM185.0 547.7h0.8v0.8h-0.8zM189.0 544.6h0.8v0.8h-0.8zM196.9 546.5h0.8v0.8h-0.8zM185.0 546.1h0.8v0.8h-0.8zM197.0 546.4h0.8v0.8h-0.8zM193.7 548.8h0.8v0.8h-0.8zM188.9 544.2h0.8v0.8h-0.8zM188.1 549.1h0.8v0.8h-0.8zM185.8 545.9h0.8v0.8h-0.8zM196.0 545.7h0.8v0.8h-0.8zM189.4 548.2h0.8v0.8h-0.8zM189.0 548.3h0.8v0.8h-0.8zM184.9 546.2h0.8v0.8h-0.8zM195.6 545.8h0.8v0.8h-0.8zM189.3 544.8h0.8v0.8h-0.8zM195.8 545.8h0.8v0.8h-0.8zM196.2 545.9h0.8v0.8h-0.8zM188.7 544.8h0.8v0.8h-0.8zM196.3 545.2h0.8v0.8h-0.8zM194.0 544.9h0.8v0.8h-0.8zM186.4 548.3h0.8v0.8h-0.8zM188.3 548.8h0.8v0.8h-0.8zM184.8 546.8h0.8v0.8h-0.8zM196.9 546.9h0.8v0.8h-0.8zM196.0 545.7h0.8v0.8h-0.8zM185.3 547.7h0.8v0.8h-0.8zM197.0 546.3h0.8v0.8h-0.8zM184.7 547.0h0.8v0.8h-0.8zM189.1 548.6h0.8v0.8h-0.8zM187.0 548.7h0.8v0.8h-0.8zM188.4 544.8h0.8v0.8h-0.8zM195.9 545.6h0.8v0.8h-0.8zM186.4 545.6h0.8v0.8h-0.8zM189.4 544.2h0.8v0.8h-0.8zM188.7 549.1h0.8v0.8h-0.8zM187.4 548.6h0.8v0.8h-0.8zM184.9 546.2h0.8v0.8h-0.8zM189.4 548.3h0.8v0.8h-0.8zM184.7 547.3h0.8v0.8h-0.8zM195.6 545.6h0.8v0.8h-0.8zM185.4 547.9h0.8v0.8h-0.8zM187.2 548.2h0.8v0.8h-0.8zM196.9 546.3h0.8v0.8h-0.8zM195.8 545.8h0.8v0.8h-0.8zM195.9 545.3h0.8v0.8h-0.8zM194.1 544.8h0.8v0.8h-0.8zM184.9 547.0h0.8v0.8h-0.8zM196.3 545.8h0.8v0.8h-0.8zM194.1 548.4h0.8v0.8h-0.8zM184.5 547.5h0.8v0.8h-0.8zM187.8 548.8h0.8v0.8h-0.8zM193.9 548.9h0.8v0.8h-0.8zM186.3 545.4h0.8v0.8h-0.8zM189.3 544.5h0.8v0.8h-0.8zM186.1 545.6h0.8v0.8h-0.8zM196.4 545.5h0.8v0.8h-0.8zM185.3 546.5h0.8v0.8h-0.8zM186.0 545.9h0.8v0.8h-0.8zM193.9 544.7h0.8v0.8h-0.8zM188.9 548.6h0.8v0.8h-0.8zM185.0 546.3h0.8v0.8h-0.8zM195.5 546.0h0.8v0.8h-0.8zM189.3 548.7h0.8v0.8h-0.8zM187.2 548.5h0.8v0.8h-0.8zM187.5 548.3h0.8v0.8h-0.8zM185.9 545.4h0.8v0.8h-0.8zM196.3 546.1h0.8v0.8h-0.8zM185.1 546.3h0.8v0.8h-0.8zM197.1 546.7h0.8v0.8h-0.8zM188.6 544.4h0.8v0.8h-0.8zM184.9 546.7h0.8v0.8h-0.8zM196.2 545.4h0.8v0.8h-0.8zM193.5 544.9h0.8v0.8h-0.8zM193.9 548.8h0.8v0.8h-0.8zM185.3 547.6h0.8v0.8h-0.8zM188.0 549.1h0.8v0.8h-0.8zM193.6 548.5h0.8v0.8h-0.8zM185.9 545.2h0.8v0.8h-0.8zM194.0 548.2h0.8v0.8h-0.8zM185.2 546.7h0.8v0.8h-0.8zM185.2 547.7h0.8v0.8h-0.8zM189.0 548.3h0.8v0.8h-0.8zM193.6 544.4h0.8v0.8h-0.8zM189.0 544.7h0.8v0.8h-0.8zM188.4 548.6h0.8v0.8h-0.8zM197.2 546.6h0.8v0.8h-0.8zM186.9 548.4h0.8v0.8h-0.8zM184.9 546.3h0.8v0.8h-0.8zM193.7 548.7h0.8v0.8h-0.8zM185.1 547.9h0.8v0.8h-0.8zM195.8 545.8h0.8v0.8h-0.8zM196.5 546.2h0.8v0.8h-0.8zM188.4 548.2h0.8v0.8h-0.8zM197.0 547.0h0.8v0.8h-0.8zM187.9 549.0h0.8v0.8h-0.8zM188.8 544.6h0.8v0.8h-0.8z"/><path fill="rgb(204, 230, 13)" d="M192.1 544.2h0.8v0.8h-0.8zM186.7 545.8h0.8v0.8h-0.8zM191.4 548.5h0.8v0.8h-0.8zM193.4 548.7h0.8v0.8h-0.8zM196.0 547.5h0.8v0.8h-0.8zM196.3 547.4h0.8v0.8h-0.8zM190.2 544.4h0.8v0.8h-0.8zM190.1 548.2h0.8v0.8h-0.8zM190.3 548.5h0.8v0.8h-0.8zM192.4 545.0h0.8v0.8h-0.8zM190.3 548.6h0.8v0.8h-0.8zM192.5 548.9h0.8v0.8h-0.8zM192.7 544.9h0.8v0.8h-0.8zM186.7 545.8h0.8v0.8h-0.8zM193.2 544.8h0.8v0.8h-0.8zM192.6 544.5h0.8v0.8h-0.8zM191.8 545.0h0.8v0.8h-0.8zM189.8 548.7h0.8v0.8h-0.8zM191.6 544.1h0.8v0.8h-0.8zM189.6 548.1h0.8v0.8h-0.8zM191.9 544.7h0.8v0.8h-0.8zM190.6 548.7h0.8v0.8h-0.8zM192.8 548.7h0.8v0.8h-0.8zM190.4 544.9h0.8v0.8h-0.8zM193.3 549.0h0.8v0.8h-0.8zM195.6 547.9h0.8v0.8h-0.8zM193.3 548.2h0.8v0.8h-0.8zM193.3 548.5h0.8v0.8h-0.8zM195.7 548.0h0.8v0.8h-0.8zM191.1 548.4h0.8v0.8h-0.8zM192.7 548.7h0.8v0.8h-0.8zM187.0 545.9h0.8v0.8h-0.8zM193.0 548.3h0.8v0.8h-0.8zM190.2 548.1h0.8v0.8h-0.8zM193.0 548.3h0.8v0.8h-0.8zM189.9 544.8h0.8v0.8h-0.8zM190.1 548.3h0.8v0.8h-0.8zM190.9 548.1h0.8v0.8h-0.8zM191.4 548.3h0.8v0.8h-0.8zM190.4 544.2h0.8v0.8h-0.8zM193.1 548.3h0.8v0.8h-0.8zM190.2 544.7h0.8v0.8h-0.8zM186.9 545.5h0.8v0.8h-0.8zM195.7 547.3h0.8v0.8h-0.8zM189.8 544.2h0.8v0.8h-0.8zM191.9 544.8h0.8v0.8h-0.8zM195.7 547.8h0.8v0.8h-0.8zM190.2 549.1h0.8v0.8h-0.8zM196.0 547.7h0.8v0.8h-0.8zM192.5 544.1h0.8v0.8h-0.8zM195.5 547.7h0.8v0.8h-0.8zM189.6 544.9h0.8v0.8h-0.8zM190.3 548.5h0.8v0.8h-0.8zM189.7 548.9h0.8v0.8h-0.8zM186.7 546.0h0.8v0.8h-0.8zM192.1 545.0h0.8v0.8h-0.8zM190.5 548.2h0.8v0.8h-0.8zM195.6 547.9h0.8v0.8h-0.8zM193.4 548.7h0.8v0.8h-0.8zM192.8 545.0h0.8v0.8h-0.8zM190.3 544.2h0.8v0.8h-0.8zM190.3 544.8h0.8v0.8h-0.8zM193.4 544.7h0.8v0.8h-0.8zM189.7 544.6h0.8v0.8h-0.8zM192.9 544.2h0.8v0.8h-0.8zM190.3 544.4h0.8v0.8h-0.8zM187.3 545.8h0.8v0.8h-0.8zM190.9 548.1h0.8v0.8h-0.8zM191.9 544.4h0.8v0.8h-0.8zM187.2 545.3h0.8v0.8h-0.8zM193.3 544.4h0.8v0.8h-0.8zM192.0 545.0h0.8v0.8h-0.8zM192.8 548.7h0.8v0.8h-0.8zM196.0 547.9h0.8v0.8h-0.8zM193.0 548.2h0.8v0.8h-0.8zM196.4 548.0h0.8v0.8h-0.8zM193.0 548.9h0.8v0.8h-0.8zM192.5 548.4h0.8v0.8h-0.8zM192.0 545.0h0.8v0.8h-0.8zM190.4 544.4h0.8v0.8h-0.8zM192.2 545.0h0.8v0.8h-0.8zM195.7 548.1h0.8v0.8h-0.8zM190.1 544.2h0.8v0.8h-0.8zM196.0 547.6h0.8v0.8h-0.8zM192.4 548.3h0.8v0.8h-0.8zM192.6 544.7h0.8v0.8h-0.8zM189.6 548.2h0.8v0.8h-0.8zM196.2 547.6h0.8v0.8h-0.8zM190.5 549.0h0.8v0.8h-0.8zM192.5 544.2h0.8v0.8h-0.8zM192.5 544.7h0.8v0.8h-0.8zM196.1 547.1h0.8v0.8h-0.8zM189.9 544.9h0.8v0.8h-0.8zM195.8 547.2h0.8v0.8h-0.8zM190.5 549.1h0.8v0.8h-0.8zM187.0 545.3h0.8v0.8h-0.8zM193.3 544.9h0.8v0.8h-0.8zM192.1 544.5h0.8v0.8h-0.8zM195.7 547.7h0.8v0.8h-0.8zM189.7 548.9h0.8v0.8h-0.8zM190.2 544.1h0.8v0.8h-0.8zM187.3 545.8h0.8v0.8h-0.8zM192.6 544.5h0.8v0.8h-0.8zM189.6 545.0h0.8v0.8h-0.8zM187.1 545.6h0.8v0.8h-0.8zM196.0 547.2h0.8v0.8h-0.8zM192.4 544.6h0.8v0.8h-0.8zM192.1 545.1h0.8v0.8h-0.8zM192.8 548.6h0.8v0.8h-0.8zM190.8 548.1h0.8v0.8h-0.8z"/><path fill="rgb(245, 230, 1)" d="M191.2 544.8h0.8v0.8h-0.8zM196.0 546.6h0.8v0.8h-0.8zM195.2 545.8h0.8v0.8h-0.8zM186.3 547.1h0.8v0.8h-0.8zM195.2 545.6h0.8v0.8h-0.8zM185.7 546.7h0.8v0.8h-0.8zM195.0 546.0h0.8v0.8h-0.8zM186.0 547.6h0.8v0.8h-0.8zM186.2 546.8h0.8v0.8h-0.8zM186.4 547.0h0.8v0.8h-0.8zM186.3 547.4h0.8v0.8h-0.8zM192.1 548.6h0.8v0.8h-0.8zM194.9 545.9h0.8v0.8h-0.8zM195.9 546.8h0.8v0.8h-0.8zM185.4 546.2h0.8v0.8h-0.8zM195.5 547.0h0.8v0.8h-0.8zM185.9 547.6h0.8v0.8h-0.8zM186.3 546.2h0.8v0.8h-0.8zM185.7 546.5h0.8v0.8h-0.8zM186.3 546.8h0.8v0.8h-0.8zM191.4 544.9h0.8v0.8h-0.8zM185.9 546.3h0.8v0.8h-0.8zM191.9 548.2h0.8v0.8h-0.8zM195.1 545.7h0.8v0.8h-0.8zM185.9 547.4h0.8v0.8h-0.8zM195.6 546.4h0.8v0.8h-0.8zM186.4 547.3h0.8v0.8h-0.8zM186.0 546.5h0.8v0.8h-0.8zM186.3 548.1h0.8v0.8h-0.8zM192.3 548.4h0.8v0.8h-0.8zM191.3 545.0h0.8v0.8h-0.8zM195.6 547.1h0.8v0.8h-0.8zM185.9 546.6h0.8v0.8h-0.8zM191.8 548.5h0.8v0.8h-0.8zM191.8 548.5h0.8v0.8h-0.8zM195.8 546.2h0.8v0.8h-0.8zM191.6 548.8h0.8v0.8h-0.8zM185.8 547.5h0.8v0.8h-0.8zM185.4 547.0h0.8v0.8h-0.8zM186.2 547.9h0.8v0.8h-0.8zM191.7 548.6h0.8v0.8h-0.8zM196.4 546.6h0.8v0.8h-0.8zM191.2 545.0h0.8v0.8h-0.8zM186.2 546.2h0.8v0.8h-0.8zM186.1 547.3h0.8v0.8h-0.8zM196.4 546.9h0.8v0.8h-0.8zM195.6 546.2h0.8v0.8h-0.8zM195.0 545.4h0.8v0.8h-0.8zM196.2 547.0h0.8v0.8h-0.8zM191.4 544.6h0.8v0.8h-0.8zM196.1 546.5h0.8v0.8h-0.8zM191.1 544.3h0.8v0.8h-0.8zM194.9 545.8h0.8v0.8h-0.8zM192.0 548.6h0.8v0.8h-0.8zM194.8 545.3h0.8v0.8h-0.8zM186.0 547.6h0.8v0.8h-0.8zM186.4 547.7h0.8v0.8h-0.8zM195.7 547.0h0.8v0.8h-0.8zM191.7 548.9h0.8v0.8h-0.8zM190.6 545.0h0.8v0.8h-0.8zM191.3 544.8h0.8v0.8h-0.8zM186.4 547.0h0.8v0.8h-0.8zM196.2 546.8h0.8v0.8h-0.8zM191.5 548.5h0.8v0.8h-0.8zM191.2 544.7h0.8v0.8h-0.8zM185.6 547.1h0.8v0.8h-0.8zM191.1 544.5h0.8v0.8h-0.8zM192.4 548.4h0.8v0.8h-0.8zM185.6 546.3h0.8v0.8h-0.8zM191.3 544.8h0.8v0.8h-0.8zM186.0 547.5h0.8v0.8h-0.8zM185.8 547.2h0.8v0.8h-0.8zM191.0 544.5h0.8v0.8h-0.8zM192.2 548.6h0.8v0.8h-0.8zM192.4 548.7h0.8v0.8h-0.8zM192.4 548.5h0.8v0.8h-0.8zM191.3 544.4h0.8v0.8h-0.8zM191.8 548.3h0.8v0.8h-0.8zM196.2 546.6h0.8v0.8h-0.8zM194.6 545.6h0.8v0.8h-0.8zM195.4 545.6h0.8v0.8h-0.8zM195.9 547.0h0.8v0.8h-0.8zM185.5 546.8h0.8v0.8h-0.8zM185.8 547.3h0.8v0.8h-0.8zM186.0 547.9h0.8v0.8h-0.8zM191.5 548.9h0.8v0.8h-0.8zM195.0 545.6h0.8v0.8h-0.8zM191.9 549.0h0.8v0.8h-0.8zM185.9 547.0h0.8v0.8h-0.8zM194.9 546.0h0.8v0.8h-0.8zM185.9 546.8h0.8v0.8h-0.8zM190.8 544.2h0.8v0.8h-0.8zM185.9 547.0h0.8v0.8h-0.8zM185.5 548.0h0.8v0.8h-0.8zM190.5 544.3h0.8v0.8h-0.8zM191.8 548.6h0.8v0.8h-0.8zM192.0 548.5h0.8v0.8h-0.8zM191.5 548.5h0.8v0.8h-0.8zM185.7 546.5h0.8v0.8h-0.8zM195.6 546.5h0.8v0.8h-0.8zM191.0 544.1h0.8v0.8h-0.8zM194.7 545.7h0.8v0.8h-0.8zM191.9 548.4h0.8v0.8h-0.8zM191.6 548.6h0.8v0.8h-0.8zM186.4 546.2h0.8v0.8h-0.8zM190.8 544.4h0.8v0.8h-0.8zM185.8 548.0h0.8v0.8h-0.8zM186.4 547.1h0.8v0.8h-0.8zM191.9 548.3h0.8v0.8h-0.8zM185.9 547.2h0.8v0.8h-0.8zM194.9 545.5h0.8v0.8h-0.8zM186.4 547.7h0.8v0.8h-0.8zM185.8 548.1h0.8v0.8h-0.8zM185.7 547.0h0.8v0.8h-0.8zM191.7 548.3h0.8v0.8h-0.8zM186.2 546.8h0.8v0.8h-0.8zM192.0 548.8h0.8v0.8h-0.8zM196.3 546.4h0.8v0.8h-0.8zM190.8 544.8h0.8v0.8h-0.8zM195.2 546.0h0.8v0.8h-0.8zM195.4 545.2h0.8v0.8h-0.8zM191.5 548.4h0.8v0.8h-0.8zM194.5 545.6h0.8v0.8h-0.8zM195.1 545.7h0.8v0.8h-0.8z"/><path fill="rgb(252, 189, 0)" d="M187.3 546.4h0.8v0.8h-0.8zM188.3 545.7h0.8v0.8h-0.8zM187.5 547.7h0.8v0.8h-0.8zM186.7 547.7h0.8v0.8h-0.8zM186.7 547.2h0.8v0.8h-0.8zM187.1 546.1h0.8v0.8h-0.8zM188.0 545.6h0.8v0.8h-0.8zM186.9 546.5h0.8v0.8h-0.8zM195.3 547.4h0.8v0.8h-0.8zM187.1 546.8h0.8v0.8h-0.8zM188.4 545.5h0.8v0.8h-0.8zM194.1 546.1h0.8v0.8h-0.8zM193.6 545.8h0.8v0.8h-0.8zM186.6 547.0h0.8v0.8h-0.8zM186.6 547.7h0.8v0.8h-0.8zM194.2 545.4h0.8v0.8h-0.8zM193.8 545.5h0.8v0.8h-0.8zM194.4 545.1h0.8v0.8h-0.8zM186.9 546.7h0.8v0.8h-0.8zM194.4 545.9h0.8v0.8h-0.8zM186.7 547.0h0.8v0.8h-0.8zM187.3 547.1h0.8v0.8h-0.8zM194.8 547.2h0.8v0.8h-0.8zM187.3 547.7h0.8v0.8h-0.8zM187.3 547.5h0.8v0.8h-0.8zM194.5 547.7h0.8v0.8h-0.8zM194.4 545.6h0.8v0.8h-0.8zM187.1 546.8h0.8v0.8h-0.8zM188.4 545.6h0.8v0.8h-0.8zM187.0 546.4h0.8v0.8h-0.8zM195.0 548.0h0.8v0.8h-0.8zM187.8 545.4h0.8v0.8h-0.8zM187.9 547.9h0.8v0.8h-0.8zM193.8 546.0h0.8v0.8h-0.8zM187.3 547.6h0.8v0.8h-0.8zM193.5 545.6h0.8v0.8h-0.8zM188.3 547.6h0.8v0.8h-0.8zM194.9 547.3h0.8v0.8h-0.8zM187.0 546.2h0.8v0.8h-0.8zM186.5 546.6h0.8v0.8h-0.8zM194.1 546.0h0.8v0.8h-0.8zM195.0 547.4h0.8v0.8h-0.8zM195.4 547.8h0.8v0.8h-0.8zM187.7 545.4h0.8v0.8h-0.8zM195.4 548.0h0.8v0.8h-0.8zM188.0 547.3h0.8v0.8h-0.8zM194.9 547.9h0.8v0.8h-0.8zM193.5 546.0h0.8v0.8h-0.8zM187.1 546.7h0.8v0.8h-0.8zM186.8 546.9h0.8v0.8h-0.8zM193.8 545.7h0.8v0.8h-0.8zM187.9 545.7h0.8v0.8h-0.8zM195.4 547.2h0.8v0.8h-0.8zM187.4 545.7h0.8v0.8h-0.8zM188.3 547.7h0.8v0.8h-0.8zM188.4 546.1h0.8v0.8h-0.8zM195.1 547.4h0.8v0.8h-0.8zM194.4 546.0h0.8v0.8h-0.8zM187.0 546.7h0.8v0.8h-0.8zM195.3 547.4h0.8v0.8h-0.8zM194.0 545.5h0.8v0.8h-0.8zM195.0 547.3h0.8v0.8h-0.8zM188.3 547.2h0.8v0.8h-0.8zM187.9 546.1h0.8v0.8h-0.8zM187.3 546.4h0.8v0.8h-0.8zM187.2 547.4h0.8v0.8h-0.8zM186.8 547.3h0.8v0.8h-0.8zM186.9 546.5h0.8v0.8h-0.8zM188.2 547.2h0.8v0.8h-0.8zM194.4 545.7h0.8v0.8h-0.8zM187.5 547.2h0.8v0.8h-0.8zM187.2 546.9h0.8v0.8h-0.8zM187.1 546.2h0.8v0.8h-0.8zM187.8 545.2h0.8v0.8h-0.8zM187.2 547.0h0.8v0.8h-0.8zM195.2 547.3h0.8v0.8h-0.8zM194.2 545.2h0.8v0.8h-0.8zM187.4 546.5h0.8v0.8h-0.8zM188.1 545.4h0.8v0.8h-0.8zM194.4 545.4h0.8v0.8h-0.8zM194.7 547.5h0.8v0.8h-0.8zM186.8 547.4h0.8v0.8h-0.8zM186.9 546.1h0.8v0.8h-0.8zM195.3 548.1h0.8v0.8h-0.8zM187.5 546.0h0.8v0.8h-0.8zM187.4 547.7h0.8v0.8h-0.8zM187.6 545.6h0.8v0.8h-0.8zM187.1 547.8h0.8v0.8h-0.8zM187.7 545.2h0.8v0.8h-0.8zM187.9 547.1h0.8v0.8h-0.8zM186.6 548.0h0.8v0.8h-0.8zM187.8 547.8h0.8v0.8h-0.8zM186.5 548.1h0.8v0.8h-0.8zM187.8 545.8h0.8v0.8h-0.8zM187.7 547.3h0.8v0.8h-0.8zM186.8 546.6h0.8v0.8h-0.8zM188.4 545.7h0.8v0.8h-0.8zM187.2 546.4h0.8v0.8h-0.8zM188.0 547.6h0.8v0.8h-0.8zM193.9 545.6h0.8v0.8h-0.8zM194.5 548.0h0.8v0.8h-0.8zM188.1 547.6h0.8v0.8h-0.8zM188.0 547.2h0.8v0.8h-0.8zM187.3 547.7h0.8v0.8h-0.8zM188.3 547.5h0.8v0.8h-0.8zM195.4 547.3h0.8v0.8h-0.8zM193.9 545.3h0.8v0.8h-0.8zM187.9 547.3h0.8v0.8h-0.8zM187.3 547.7h0.8v0.8h-0.8zM188.3 545.8h0.8v0.8h-0.8zM188.0 545.6h0.8v0.8h-0.8zM194.7 547.2h0.8v0.8h-0.8zM186.9 547.7h0.8v0.8h-0.8zM187.0 546.9h0.8v0.8h-0.8zM187.5 545.9h0.8v0.8h-0.8zM194.6 547.3h0.8v0.8h-0.8zM186.6 547.8h0.8v0.8h-0.8zM187.3 547.4h0.8v0.8h-0.8zM186.6 546.2h0.8v0.8h-0.8zM188.0 548.0h0.8v0.8h-0.8zM188.0 547.5h0.8v0.8h-0.8zM194.1 545.8h0.8v0.8h-0.8zM194.8 547.4h0.8v0.8h-0.8zM193.8 545.6h0.8v0.8h-0.8zM187.1 547.8h0.8v0.8h-0.8zM194.9 547.9h0.8v0.8h-0.8zM186.9 547.0h0.8v0.8h-0.8zM186.6 546.2h0.8v0.8h-0.8zM187.4 547.2h0.8v0.8h-0.8zM194.1 546.0h0.8v0.8h-0.8zM188.3 545.7h0.8v0.8h-0.8zM186.8 548.0h0.8v0.8h-0.8zM186.5 546.8h0.8v0.8h-0.8zM186.8 546.4h0.8v0.8h-0.8zM186.5 546.1h0.8v0.8h-0.8zM187.5 545.3h0.8v0.8h-0.8zM194.3 546.1h0.8v0.8h-0.8z"/><path fill="rgb(254, 144, 0)" d="M188.3 546.2h0.8v0.8h-0.8zM188.6 545.6h0.8v0.8h-0.8zM187.8 546.7h0.8v0.8h-0.8zM189.1 545.6h0.8v0.8h-0.8zM188.0 546.6h0.8v0.8h-0.8zM190.3 547.3h0.8v0.8h-0.8zM193.0 545.6h0.8v0.8h-0.8zM190.3 547.2h0.8v0.8h-0.8zM188.6 547.4h0.8v0.8h-0.8zM193.6 547.6h0.8v0.8h-0.8zM193.4 545.7h0.8v0.8h-0.8zM188.0 546.8h0.8v0.8h-0.8zM192.6 545.9h0.8v0.8h-0.8zM193.1 546.1h0.8v0.8h-0.8zM193.8 547.5h0.8v0.8h-0.8zM193.6 547.4h0.8v0.8h-0.8zM190.0 547.1h0.8v0.8h-0.8zM188.6 548.0h0.8v0.8h-0.8zM189.1 547.9h0.8v0.8h-0.8zM189.0 545.3h0.8v0.8h-0.8zM188.2 546.4h0.8v0.8h-0.8zM194.3 547.7h0.8v0.8h-0.8zM193.8 547.5h0.8v0.8h-0.8zM188.8 547.6h0.8v0.8h-0.8zM189.0 545.9h0.8v0.8h-0.8zM189.3 547.3h0.8v0.8h-0.8zM192.8 545.9h0.8v0.8h-0.8zM193.2 545.1h0.8v0.8h-0.8zM188.9 547.7h0.8v0.8h-0.8zM192.9 545.7h0.8v0.8h-0.8zM189.0 546.0h0.8v0.8h-0.8zM192.5 545.9h0.8v0.8h-0.8zM194.6 546.6h0.8v0.8h-0.8zM188.2 546.3h0.8v0.8h-0.8zM188.3 546.3h0.8v0.8h-0.8zM192.6 545.5h0.8v0.8h-0.8zM194.4 547.5h0.8v0.8h-0.8zM195.3 546.7h0.8v0.8h-0.8zM193.3 546.1h0.8v0.8h-0.8zM192.8 545.9h0.8v0.8h-0.8zM188.4 546.6h0.8v0.8h-0.8zM188.6 547.8h0.8v0.8h-0.8zM188.8 548.1h0.8v0.8h-0.8zM193.1 545.1h0.8v0.8h-0.8zM192.5 545.9h0.8v0.8h-0.8zM188.3 546.2h0.8v0.8h-0.8zM194.1 547.8h0.8v0.8h-0.8zM190.1 547.8h0.8v0.8h-0.8zM195.2 546.9h0.8v0.8h-0.8zM193.4 545.8h0.8v0.8h-0.8zM187.6 546.8h0.8v0.8h-0.8zM189.4 547.5h0.8v0.8h-0.8zM188.8 548.1h0.8v0.8h-0.8zM188.8 545.5h0.8v0.8h-0.8zM189.7 547.5h0.8v0.8h-0.8zM195.4 546.8h0.8v0.8h-0.8zM188.0 547.1h0.8v0.8h-0.8zM193.9 548.1h0.8v0.8h-0.8zM190.2 548.0h0.8v0.8h-0.8zM187.7 546.4h0.8v0.8h-0.8zM194.3 547.3h0.8v0.8h-0.8zM189.0 548.1h0.8v0.8h-0.8zM193.1 545.7h0.8v0.8h-0.8zM193.9 548.1h0.8v0.8h-0.8zM194.7 547.0h0.8v0.8h-0.8zM194.2 547.8h0.8v0.8h-0.8zM194.8 547.0h0.8v0.8h-0.8zM190.2 547.4h0.8v0.8h-0.8zM189.0 545.5h0.8v0.8h-0.8zM189.3 545.9h0.8v0.8h-0.8zM189.1 545.1h0.8v0.8h-0.8zM188.9 546.0h0.8v0.8h-0.8zM188.7 546.1h0.8v0.8h-0.8zM188.7 547.5h0.8v0.8h-0.8zM194.2 548.1h0.8v0.8h-0.8zM187.9 546.5h0.8v0.8h-0.8zM188.7 546.1h0.8v0.8h-0.8zM194.6 546.5h0.8v0.8h-0.8zM188.8 547.5h0.8v0.8h-0.8zM188.1 546.5h0.8v0.8h-0.8zM189.4 548.1h0.8v0.8h-0.8zM190.1 547.9h0.8v0.8h-0.8zM187.5 547.0h0.8v0.8h-0.8zM195.0 546.3h0.8v0.8h-0.8zM193.6 547.5h0.8v0.8h-0.8zM193.8 547.4h0.8v0.8h-0.8zM188.5 545.5h0.8v0.8h-0.8zM188.8 545.6h0.8v0.8h-0.8zM189.3 547.4h0.8v0.8h-0.8zM189.8 547.7h0.8v0.8h-0.8zM189.6 547.3h0.8v0.8h-0.8zM189.3 547.9h0.8v0.8h-0.8zM193.1 546.1h0.8v0.8h-0.8zM194.4 547.3h0.8v0.8h-0.8zM194.8 546.3h0.8v0.8h-0.8zM189.0 545.2h0.8v0.8h-0.8zM188.5 545.2h0.8v0.8h-0.8zM194.3 548.0h0.8v0.8h-0.8zM187.8 546.5h0.8v0.8h-0.8zM188.2 546.2h0.8v0.8h-0.8zM188.7 547.2h0.8v0.8h-0.8zM190.1 547.4h0.8v0.8h-0.8zM192.7 545.5h0.8v0.8h-0.8zM192.6 545.3h0.8v0.8h-0.8zM188.5 545.2h0.8v0.8h-0.8zM189.3 546.0h0.8v0.8h-0.8zM188.8 545.5h0.8v0.8h-0.8zM194.8 546.5h0.8v0.8h-0.8zM189.3 547.5h0.8v0.8h-0.8zM195.4 546.5h0.8v0.8h-0.8zM195.1 547.0h0.8v0.8h-0.8zM189.4 548.1h0.8v0.8h-0.8zM193.6 548.1h0.8v0.8h-0.8zM193.8 547.3h0.8v0.8h-0.8zM189.5 548.0h0.8v0.8h-0.8zM187.9 546.1h0.8v0.8h-0.8zM188.4 545.6h0.8v0.8h-0.8zM193.8 547.1h0.8v0.8h-0.8zM194.9 546.8h0.8v0.8h-0.8zM193.2 545.8h0.8v0.8h-0.8zM192.6 545.6h0.8v0.8h-0.8zM194.6 546.6h0.8v0.8h-0.8zM194.3 547.5h0.8v0.8h-0.8zM188.0 546.9h0.8v0.8h-0.8zM192.5 545.6h0.8v0.8h-0.8zM194.6 546.1h0.8v0.8h-0.8zM187.5 546.6h0.8v0.8h-0.8zM194.9 547.0h0.8v0.8h-0.8zM195.1 546.9h0.8v0.8h-0.8zM187.6 546.4h0.8v0.8h-0.8zM188.5 547.8h0.8v0.8h-0.8zM195.1 546.4h0.8v0.8h-0.8zM190.0 547.3h0.8v0.8h-0.8zM188.2 546.9h0.8v0.8h-0.8zM190.3 547.9h0.8v0.8h-0.8zM194.7 546.4h0.8v0.8h-0.8zM187.6 546.6h0.8v0.8h-0.8zM188.0 546.2h0.8v0.8h-0.8zM192.8 545.3h0.8v0.8h-0.8zM193.6 547.4h0.8v0.8h-0.8zM194.3 547.9h0.8v0.8h-0.8zM189.3 547.3h0.8v0.8h-0.8zM195.4 547.0h0.8v0.8h-0.8zM188.4 547.6h0.8v0.8h-0.8zM195.2 547.0h0.8v0.8h-0.8zM188.7 547.7h0.8v0.8h-0.8zM194.5 546.7h0.8v0.8h-0.8zM189.6 547.7h0.8v0.8h-0.8zM193.9 547.7h0.8v0.8h-0.8zM189.3 548.1h0.8v0.8h-0.8zM187.7 546.2h0.8v0.8h-0.8zM188.0 546.4h0.8v0.8h-0.8zM187.6 546.6h0.8v0.8h-0.8zM195.1 547.1h0.8v0.8h-0.8zM189.4 546.1h0.8v0.8h-0.8zM190.1 547.1h0.8v0.8h-0.8z"/><path fill="rgb(247, 94, 3)" d="M191.9 545.6h0.8v0.8h-0.8zM189.3 547.0h0.8v0.8h-0.8zM189.4 546.2h0.8v0.8h-0.8zM193.6 546.6h0.8v0.8h-0.8zM191.1 545.1h0.8v0.8h-0.8zM191.9 548.0h0.8v0.8h-0.8zM192.4 545.9h0.8v0.8h-0.8zM188.5 546.8h0.8v0.8h-0.8zM191.1 547.4h0.8v0.8h-0.8zM193.5 546.2h0.8v0.8h-0.8zM189.1 546.9h0.8v0.8h-0.8zM192.4 545.3h0.8v0.8h-0.8zM191.2 546.0h0.8v0.8h-0.8zM191.1 545.2h0.8v0.8h-0.8zM190.4 545.8h0.8v0.8h-0.8zM191.9 547.4h0.8v0.8h-0.8zM192.4 547.1h0.8v0.8h-0.8zM190.6 545.6h0.8v0.8h-0.8zM194.4 546.5h0.8v0.8h-0.8zM190.6 545.7h0.8v0.8h-0.8zM192.1 547.1h0.8v0.8h-0.8zM192.7 547.6h0.8v0.8h-0.8zM189.5 545.4h0.8v0.8h-0.8zM191.8 547.5h0.8v0.8h-0.8zM190.6 545.5h0.8v0.8h-0.8zM189.5 546.1h0.8v0.8h-0.8zM190.1 546.0h0.8v0.8h-0.8zM194.4 547.0h0.8v0.8h-0.8zM190.6 545.7h0.8v0.8h-0.8zM191.7 547.5h0.8v0.8h-0.8zM190.4 545.9h0.8v0.8h-0.8zM189.0 546.8h0.8v0.8h-0.8zM191.1 545.7h0.8v0.8h-0.8zM191.3 545.3h0.8v0.8h-0.8zM194.4 546.8h0.8v0.8h-0.8zM191.5 545.4h0.8v0.8h-0.8zM193.9 546.3h0.8v0.8h-0.8zM193.6 546.9h0.8v0.8h-0.8zM189.1 546.5h0.8v0.8h-0.8zM194.3 546.7h0.8v0.8h-0.8zM190.5 545.7h0.8v0.8h-0.8zM189.6 545.2h0.8v0.8h-0.8zM190.5 546.1h0.8v0.8h-0.8zM192.1 546.0h0.8v0.8h-0.8zM191.0 547.1h0.8v0.8h-0.8zM191.8 545.6h0.8v0.8h-0.8zM189.6 545.4h0.8v0.8h-0.8zM192.2 546.1h0.8v0.8h-0.8zM190.5 546.0h0.8v0.8h-0.8zM188.8 546.8h0.8v0.8h-0.8zM189.3 546.5h0.8v0.8h-0.8zM189.9 545.5h0.8v0.8h-0.8zM191.4 545.9h0.8v0.8h-0.8zM192.2 548.0h0.8v0.8h-0.8zM193.1 547.7h0.8v0.8h-0.8zM191.7 547.8h0.8v0.8h-0.8zM192.4 547.7h0.8v0.8h-0.8zM190.8 547.9h0.8v0.8h-0.8zM192.1 545.8h0.8v0.8h-0.8zM191.1 545.8h0.8v0.8h-0.8zM192.3 545.9h0.8v0.8h-0.8zM188.7 546.7h0.8v0.8h-0.8zM188.8 546.5h0.8v0.8h-0.8zM189.4 546.2h0.8v0.8h-0.8zM191.4 545.4h0.8v0.8h-0.8zM190.5 545.9h0.8v0.8h-0.8zM189.3 546.7h0.8v0.8h-0.8zM191.4 545.2h0.8v0.8h-0.8zM189.0 546.5h0.8v0.8h-0.8zM189.0 546.7h0.8v0.8h-0.8zM190.6 545.9h0.8v0.8h-0.8zM194.1 547.0h0.8v0.8h-0.8zM191.3 545.9h0.8v0.8h-0.8zM194.1 547.0h0.8v0.8h-0.8zM193.8 546.4h0.8v0.8h-0.8zM194.2 546.8h0.8v0.8h-0.8zM191.6 547.3h0.8v0.8h-0.8zM192.5 547.5h0.8v0.8h-0.8zM188.8 546.5h0.8v0.8h-0.8zM194.4 546.6h0.8v0.8h-0.8zM192.2 547.1h0.8v0.8h-0.8zM190.7 545.7h0.8v0.8h-0.8zM193.1 548.0h0.8v0.8h-0.8zM193.1 547.5h0.8v0.8h-0.8zM191.8 547.8h0.8v0.8h-0.8zM189.5 545.8h0.8v0.8h-0.8zM193.9 546.9h0.8v0.8h-0.8zM192.2 547.1h0.8v0.8h-0.8zM188.5 546.4h0.8v0.8h-0.8zM190.7 547.6h0.8v0.8h-0.8zM192.0 546.0h0.8v0.8h-0.8zM188.5 546.4h0.8v0.8h-0.8zM191.4 545.5h0.8v0.8h-0.8zM188.6 546.3h0.8v0.8h-0.8zM191.2 547.8h0.8v0.8h-0.8zM192.1 547.5h0.8v0.8h-0.8zM189.8 545.6h0.8v0.8h-0.8zM192.3 545.7h0.8v0.8h-0.8zM192.6 547.4h0.8v0.8h-0.8zM194.1 546.3h0.8v0.8h-0.8zM194.4 547.0h0.8v0.8h-0.8zM192.2 545.5h0.8v0.8h-0.8zM193.8 546.6h0.8v0.8h-0.8zM191.8 547.2h0.8v0.8h-0.8zM192.3 547.5h0.8v0.8h-0.8zM193.6 546.7h0.8v0.8h-0.8zM188.5 546.9h0.8v0.8h-0.8zM192.6 547.3h0.8v0.8h-0.8zM189.2 546.5h0.8v0.8h-0.8zM189.3 546.9h0.8v0.8h-0.8zM189.0 546.2h0.8v0.8h-0.8zM191.5 547.4h0.8v0.8h-0.8zM192.5 547.6h0.8v0.8h-0.8zM191.0 545.8h0.8v0.8h-0.8zM191.9 547.6h0.8v0.8h-0.8zM193.1 547.7h0.8v0.8h-0.8zM191.8 545.7h0.8v0.8h-0.8zM189.0 546.1h0.8v0.8h-0.8zM188.9 546.6h0.8v0.8h-0.8zM191.9 545.2h0.8v0.8h-0.8zM190.5 547.2h0.8v0.8h-0.8zM193.8 546.8h0.8v0.8h-0.8zM191.9 545.2h0.8v0.8h-0.8zM191.6 547.3h0.8v0.8h-0.8zM193.7 546.3h0.8v0.8h-0.8zM193.9 546.6h0.8v0.8h-0.8zM191.4 545.8h0.8v0.8h-0.8zM193.0 547.2h0.8v0.8h-0.8zM188.5 546.3h0.8v0.8h-0.8zM191.4 547.3h0.8v0.8h-0.8zM190.1 546.0h0.8v0.8h-0.8zM192.3 546.0h0.8v0.8h-0.8zM193.9 546.4h0.8v0.8h-0.8zM191.7 547.3h0.8v0.8h-0.8zM192.2 545.5h0.8v0.8h-0.8zM194.4 546.7h0.8v0.8h-0.8zM191.6 547.5h0.8v0.8h-0.8zM191.6 545.4h0.8v0.8h-0.8zM192.0 548.0h0.8v0.8h-0.8zM192.7 548.0h0.8v0.8h-0.8zM193.6 546.3h0.8v0.8h-0.8zM192.6 547.6h0.8v0.8h-0.8zM192.1 545.9h0.8v0.8h-0.8zM192.0 547.8h0.8v0.8h-0.8zM192.4 548.0h0.8v0.8h-0.8zM189.3 546.8h0.8v0.8h-0.8zM190.8 545.7h0.8v0.8h-0.8zM191.6 547.6h0.8v0.8h-0.8zM188.5 546.2h0.8v0.8h-0.8zM191.8 547.7h0.8v0.8h-0.8zM191.6 548.0h0.8v0.8h-0.8zM190.0 545.3h0.8v0.8h-0.8zM193.4 547.9h0.8v0.8h-0.8zM193.7 546.9h0.8v0.8h-0.8zM191.5 545.9h0.8v0.8h-0.8zM192.4 547.1h0.8v0.8h-0.8zM190.9 546.0h0.8v0.8h-0.8zM188.5 546.2h0.8v0.8h-0.8zM192.2 547.8h0.8v0.8h-0.8zM190.8 545.4h0.8v0.8h-0.8zM191.6 546.0h0.8v0.8h-0.8zM191.6 545.2h0.8v0.8h-0.8zM193.5 547.0h0.8v0.8h-0.8zM191.5 546.1h0.8v0.8h-0.8zM191.6 547.6h0.8v0.8h-0.8zM193.5 546.7h0.8v0.8h-0.8zM191.3 545.9h0.8v0.8h-0.8zM191.9 547.6h0.8v0.8h-0.8zM193.4 546.3h0.8v0.8h-0.8zM193.4 547.4h0.8v0.8h-0.8zM192.7 547.6h0.8v0.8h-0.8zM191.3 545.3h0.8v0.8h-0.8zM191.5 547.3h0.8v0.8h-0.8zM191.3 547.7h0.8v0.8h-0.8zM192.9 547.5h0.8v0.8h-0.8zM191.9 545.8h0.8v0.8h-0.8zM191.2 546.1h0.8v0.8h-0.8zM192.4 545.4h0.8v0.8h-0.8zM190.3 545.3h0.8v0.8h-0.8zM190.0 545.4h0.8v0.8h-0.8zM190.5 547.5h0.8v0.8h-0.8zM191.4 545.2h0.8v0.8h-0.8zM190.6 547.8h0.8v0.8h-0.8zM192.1 547.4h0.8v0.8h-0.8zM192.9 548.1h0.8v0.8h-0.8zM189.9 545.7h0.8v0.8h-0.8zM192.2 545.3h0.8v0.8h-0.8zM192.8 547.2h0.8v0.8h-0.8zM193.7 546.4h0.8v0.8h-0.8zM188.7 546.7h0.8v0.8h-0.8zM191.9 545.8h0.8v0.8h-0.8zM189.7 545.7h0.8v0.8h-0.8zM191.0 545.3h0.8v0.8h-0.8zM189.4 545.5h0.8v0.8h-0.8zM190.4 546.0h0.8v0.8h-0.8zM188.6 546.7h0.8v0.8h-0.8zM190.5 547.3h0.8v0.8h-0.8zM193.0 547.6h0.8v0.8h-0.8zM190.8 547.6h0.8v0.8h-0.8zM191.3 547.1h0.8v0.8h-0.8zM193.8 546.3h0.8v0.8h-0.8zM189.4 546.9h0.8v0.8h-0.8zM190.9 546.0h0.8v0.8h-0.8zM190.3 545.6h0.8v0.8h-0.8zM192.4 545.2h0.8v0.8h-0.8zM189.7 546.1h0.8v0.8h-0.8zM188.7 546.4h0.8v0.8h-0.8zM189.5 545.7h0.8v0.8h-0.8zM190.7 547.4h0.8v0.8h-0.8zM192.3 545.2h0.8v0.8h-0.8z"/><path fill="rgb(239, 45, 7)" d="M191.7 546.4h0.8v0.8h-0.8zM192.0 546.9h0.8v0.8h-0.8zM190.5 546.7h0.8v0.8h-0.8zM190.1 546.7h0.8v0.8h-0.8zM193.2 546.5h0.8v0.8h-0.8zM192.4 547.0h0.8v0.8h-0.8zM191.1 546.8h0.8v0.8h-0.8zM193.3 546.6h0.8v0.8h-0.8zM191.2 546.3h0.8v0.8h-0.8zM190.6 546.8h0.8v0.8h-0.8zM190.4 546.5h0.8v0.8h-0.8zM190.0 546.2h0.8v0.8h-0.8zM190.4 547.0h0.8v0.8h-0.8zM190.6 547.0h0.8v0.8h-0.8zM189.6 546.6h0.8v0.8h-0.8zM190.8 547.0h0.8v0.8h-0.8zM192.9 546.5h0.8v0.8h-0.8zM189.7 546.8h0.8v0.8h-0.8zM192.8 546.7h0.8v0.8h-0.8zM193.0 546.1h0.8v0.8h-0.8zM191.1 546.9h0.8v0.8h-0.8zM193.3 547.0h0.8v0.8h-0.8zM189.8 546.9h0.8v0.8h-0.8zM190.2 546.9h0.8v0.8h-0.8zM192.6 546.7h0.8v0.8h-0.8zM190.0 546.5h0.8v0.8h-0.8zM191.0 546.5h0.8v0.8h-0.8zM189.9 546.5h0.8v0.8h-0.8zM192.2 547.1h0.8v0.8h-0.8zM193.4 546.7h0.8v0.8h-0.8zM190.0 546.6h0.8v0.8h-0.8zM192.7 547.0h0.8v0.8h-0.8zM190.1 546.1h0.8v0.8h-0.8zM191.4 546.8h0.8v0.8h-0.8zM190.8 547.1h0.8v0.8h-0.8zM190.9 546.2h0.8v0.8h-0.8zM190.6 546.1h0.8v0.8h-0.8zM192.1 546.7h0.8v0.8h-0.8zM193.0 546.3h0.8v0.8h-0.8zM191.2 546.1h0.8v0.8h-0.8zM193.3 546.3h0.8v0.8h-0.8zM193.1 546.2h0.8v0.8h-0.8zM191.6 546.4h0.8v0.8h-0.8zM190.6 546.7h0.8v0.8h-0.8zM193.1 546.4h0.8v0.8h-0.8zM190.7 546.3h0.8v0.8h-0.8zM192.9 546.2h0.8v0.8h-0.8zM190.6 546.9h0.8v0.8h-0.8zM193.0 546.5h0.8v0.8h-0.8zM191.7 546.4h0.8v0.8h-0.8zM190.0 546.9h0.8v0.8h-0.8zM189.8 546.6h0.8v0.8h-0.8zM189.8 547.0h0.8v0.8h-0.8zM192.4 546.7h0.8v0.8h-0.8zM190.9 546.6h0.8v0.8h-0.8zM189.6 546.3h0.8v0.8h-0.8zM193.2 546.3h0.8v0.8h-0.8zM191.0 546.9h0.8v0.8h-0.8zM191.9 546.4h0.8v0.8h-0.8zM190.9 546.6h0.8v0.8h-0.8zM191.4 546.9h0.8v0.8h-0.8zM191.0 546.5h0.8v0.8h-0.8zM193.1 547.0h0.8v0.8h-0.8zM190.4 546.5h0.8v0.8h-0.8zM189.5 546.3h0.8v0.8h-0.8zM191.9 546.9h0.8v0.8h-0.8zM190.6 546.7h0.8v0.8h-0.8zM192.8 546.2h0.8v0.8h-0.8zM190.5 546.3h0.8v0.8h-0.8zM193.2 546.1h0.8v0.8h-0.8zM189.9 546.5h0.8v0.8h-0.8zM193.3 546.2h0.8v0.8h-0.8zM191.2 546.2h0.8v0.8h-0.8zM191.6 546.3h0.8v0.8h-0.8zM191.3 546.7h0.8v0.8h-0.8zM192.3 546.7h0.8v0.8h-0.8zM192.7 546.8h0.8v0.8h-0.8zM190.5 546.8h0.8v0.8h-0.8zM193.4 546.6h0.8v0.8h-0.8zM189.9 546.6h0.8v0.8h-0.8zM190.3 546.9h0.8v0.8h-0.8zM192.3 546.6h0.8v0.8h-0.8zM190.4 546.5h0.8v0.8h-0.8zM190.8 547.0h0.8v0.8h-0.8zM189.6 546.4h0.8v0.8h-0.8zM191.0 546.7h0.8v0.8h-0.8zM191.8 546.4h0.8v0.8h-0.8zM192.3 546.4h0.8v0.8h-0.8zM192.5 546.8h0.8v0.8h-0.8zM192.1 547.0h0.8v0.8h-0.8zM190.4 546.7h0.8v0.8h-0.8zM192.0 546.3h0.8v0.8h-0.8zM191.3 546.3h0.8v0.8h-0.8zM190.0 546.3h0.8v0.8h-0.8zM190.2 546.3h0.8v0.8h-0.8zM190.2 546.4h0.8v0.8h-0.8zM191.8 546.9h0.8v0.8h-0.8zM190.2 546.5h0.8v0.8h-0.8zM192.5 546.8h0.8v0.8h-0.8zM191.6 546.3h0.8v0.8h-0.8zM190.1 546.2h0.8v0.8h-0.8zM192.1 546.9h0.8v0.8h-0.8zM190.7 546.4h0.8v0.8h-0.8zM190.4 546.6h0.8v0.8h-0.8zM190.5 546.2h0.8v0.8h-0.8zM193.1 546.7h0.8v0.8h-0.8zM189.7 546.9h0.8v0.8h-0.8zM191.6 546.3h0.8v0.8h-0.8zM189.4 546.3h0.8v0.8h-0.8zM193.2 546.9h0.8v0.8h-0.8zM189.9 547.1h0.8v0.8h-0.8zM192.7 546.4h0.8v0.8h-0.8zM190.8 546.2h0.8v0.8h-0.8zM193.3 546.4h0.8v0.8h-0.8zM190.9 546.6h0.8v0.8h-0.8zM192.4 546.1h0.8v0.8h-0.8zM189.7 547.0h0.8v0.8h-0.8zM190.2 546.9h0.8v0.8h-0.8zM192.3 546.3h0.8v0.8h-0.8zM192.4 547.1h0.8v0.8h-0.8zM193.4 546.4h0.8v0.8h-0.8zM193.3 546.4h0.8v0.8h-0.8zM193.0 546.7h0.8v0.8h-0.8zM192.0 546.3h0.8v0.8h-0.8zM190.9 546.8h0.8v0.8h-0.8zM192.2 546.4h0.8v0.8h-0.8zM191.0 546.7h0.8v0.8h-0.8zM190.8 546.6h0.8v0.8h-0.8zM193.3 546.2h0.8v0.8h-0.8zM189.9 546.3h0.8v0.8h-0.8zM189.5 547.1h0.8v0.8h-0.8zM190.6 546.6h0.8v0.8h-0.8zM190.1 546.4h0.8v0.8h-0.8zM192.2 546.1h0.8v0.8h-0.8zM190.4 546.9h0.8v0.8h-0.8zM191.3 546.4h0.8v0.8h-0.8zM192.6 546.4h0.8v0.8h-0.8z"/>
<rect x="32.5" y="464.5" width="89.8" height="94.7" fill="none" stroke="#6a6a6a" stroke-width="1"/>
<rect x="157.4" y="464.5" width="89.1" height="94.7" fill="none" stroke="#6a6a6a" stroke-width="1"/>
<path d="M71.5,492.3 L101.5,489.3 L106.9,509.6 L88.4,521.2 L78.5,518.8 L68.5,505 Z" fill="none" stroke="#222" stroke-width="0.8" />
<path d="M157.4,541.2 L206.6,541.2 L206.6,559.2" fill="none" stroke="#333" stroke-width="0.8" />
<path d="M246.5,520.5 L212.4,520.5 L212.4,544.2 L246.5,544.2" fill="none" stroke="#333" stroke-width="0.8" />
<line x1="103.8" y1="495.8" x2="153" y2="495.8" stroke="#111" stroke-width="1.2"/>
<path d="M152,493.6 L157.3,495.8 L152,498 Z" fill="#111" stroke="none" stroke-width="1" />
<line x1="30.8" y1="484.2" x2="32.5" y2="484.2" stroke="#444" stroke-width="0.8"/>
<line x1="30.8" y1="507.3" x2="32.5" y2="507.3" stroke="#444" stroke-width="0.8"/>
<line x1="30.8" y1="530.4" x2="32.5" y2="530.4" stroke="#444" stroke-width="0.8"/>
<line x1="30.8" y1="552.3" x2="32.5" y2="552.3" stroke="#444" stroke-width="0.8"/>
<line x1="31.6" y1="467" x2="32.5" y2="467" stroke="#666" stroke-width="0.5"/>
<line x1="31.6" y1="471" x2="32.5" y2="471" stroke="#666" stroke-width="0.5"/>
<line x1="31.6" y1="475" x2="32.5" y2="475" stroke="#666" stroke-width="0.5"/>
<line x1="31.6" y1="479" x2="32.5" y2="479" stroke="#666" stroke-width="0.5"/>
<line x1="31.6" y1="483" x2="32.5" y2="483" stroke="#666" stroke-width="0.5"/>
<line x1="31.6" y1="487" x2="32.5" y2="487" stroke="#666" stroke-width="0.5"/>
<line x1="31.6" y1="491" x2="32.5" y2="491" stroke="#666" stroke-width="0.5"/>
<line x1="31.6" y1="495" x2="32.5" y2="495" stroke="#666" stroke-width="0.5"/>
<line x1="31.6" y1="499" x2="32.5" y2="499" stroke="#666" stroke-width="0.5"/>
<line x1="31.6" y1="503" x2="32.5" y2="503" stroke="#666" stroke-width="0.5"/>
<line x1="31.6" y1="507" x2="32.5" y2="507" stroke="#666" stroke-width="0.5"/>
<line x1="31.6" y1="511" x2="32.5" y2="511" stroke="#666" stroke-width="0.5"/>
<line x1="31.6" y1="515" x2="32.5" y2="515" stroke="#666" stroke-width="0.5"/>
<line x1="31.6" y1="519" x2="32.5" y2="519" stroke="#666" stroke-width="0.5"/>
<line x1="31.6" y1="523" x2="32.5" y2="523" stroke="#666" stroke-width="0.5"/>
<line x1="31.6" y1="527" x2="32.5" y2="527" stroke="#666" stroke-width="0.5"/>
<line x1="31.6" y1="531" x2="32.5" y2="531" stroke="#666" stroke-width="0.5"/>
<line x1="31.6" y1="535" x2="32.5" y2="535" stroke="#666" stroke-width="0.5"/>
<line x1="31.6" y1="539" x2="32.5" y2="539" stroke="#666" stroke-width="0.5"/>
<line x1="31.6" y1="543" x2="32.5" y2="543" stroke="#666" stroke-width="0.5"/>
<line x1="31.6" y1="547" x2="32.5" y2="547" stroke="#666" stroke-width="0.5"/>
<line x1="31.6" y1="551" x2="32.5" y2="551" stroke="#666" stroke-width="0.5"/>
<line x1="31.6" y1="555" x2="32.5" y2="555" stroke="#666" stroke-width="0.5"/>
<line x1="36" y1="559.2" x2="36" y2="560.3" stroke="#666" stroke-width="0.5"/>
<line x1="40" y1="559.2" x2="40" y2="560.3" stroke="#666" stroke-width="0.5"/>
<line x1="44" y1="559.2" x2="44" y2="560.3" stroke="#666" stroke-width="0.5"/>
<line x1="48" y1="559.2" x2="48" y2="560.3" stroke="#666" stroke-width="0.5"/>
<line x1="52" y1="559.2" x2="52" y2="560.3" stroke="#666" stroke-width="0.5"/>
<line x1="56" y1="559.2" x2="56" y2="560.3" stroke="#666" stroke-width="0.5"/>
<line x1="60" y1="559.2" x2="60" y2="560.3" stroke="#666" stroke-width="0.5"/>
<line x1="64" y1="559.2" x2="64" y2="560.3" stroke="#666" stroke-width="0.5"/>
<line x1="68" y1="559.2" x2="68" y2="560.3" stroke="#666" stroke-width="0.5"/>
<line x1="72" y1="559.2" x2="72" y2="560.3" stroke="#666" stroke-width="0.5"/>
<line x1="76" y1="559.2" x2="76" y2="560.3" stroke="#666" stroke-width="0.5"/>
<line x1="80" y1="559.2" x2="80" y2="560.3" stroke="#666" stroke-width="0.5"/>
<line x1="84" y1="559.2" x2="84" y2="560.3" stroke="#666" stroke-width="0.5"/>
<line x1="88" y1="559.2" x2="88" y2="560.3" stroke="#666" stroke-width="0.5"/>
<line x1="92" y1="559.2" x2="92" y2="560.3" stroke="#666" stroke-width="0.5"/>
<line x1="96" y1="559.2" x2="96" y2="560.3" stroke="#666" stroke-width="0.5"/>
<line x1="100" y1="559.2" x2="100" y2="560.3" stroke="#666" stroke-width="0.5"/>
<line x1="104" y1="559.2" x2="104" y2="560.3" stroke="#666" stroke-width="0.5"/>
<line x1="108" y1="559.2" x2="108" y2="560.3" stroke="#666" stroke-width="0.5"/>
<line x1="112" y1="559.2" x2="112" y2="560.3" stroke="#666" stroke-width="0.5"/>
<line x1="116" y1="559.2" x2="116" y2="560.3" stroke="#666" stroke-width="0.5"/>
<line x1="120" y1="559.2" x2="120" y2="560.3" stroke="#666" stroke-width="0.5"/>
<line x1="38" y1="559.2" x2="38" y2="561.2" stroke="#444" stroke-width="0.8"/>
<line x1="60" y1="559.2" x2="60" y2="561.2" stroke="#444" stroke-width="0.8"/>
<line x1="82" y1="559.2" x2="82" y2="561.2" stroke="#444" stroke-width="0.8"/>
<line x1="104" y1="559.2" x2="104" y2="561.2" stroke="#444" stroke-width="0.8"/>
<line x1="121" y1="559.2" x2="121" y2="561.2" stroke="#444" stroke-width="0.8"/>
<line x1="155.6" y1="474" x2="157.4" y2="474" stroke="#444" stroke-width="0.8"/>
<line x1="155.6" y1="490" x2="157.4" y2="490" stroke="#444" stroke-width="0.8"/>
<line x1="155.6" y1="507" x2="157.4" y2="507" stroke="#444" stroke-width="0.8"/>
<line x1="155.6" y1="523" x2="157.4" y2="523" stroke="#444" stroke-width="0.8"/>
<line x1="155.6" y1="540" x2="157.4" y2="540" stroke="#444" stroke-width="0.8"/>
<line x1="155.6" y1="556" x2="157.4" y2="556" stroke="#444" stroke-width="0.8"/>
<line x1="156.4" y1="467" x2="157.4" y2="467" stroke="#666" stroke-width="0.5"/>
<line x1="156.4" y1="471" x2="157.4" y2="471" stroke="#666" stroke-width="0.5"/>
<line x1="156.4" y1="475" x2="157.4" y2="475" stroke="#666" stroke-width="0.5"/>
<line x1="156.4" y1="479" x2="157.4" y2="479" stroke="#666" stroke-width="0.5"/>
<line x1="156.4" y1="483" x2="157.4" y2="483" stroke="#666" stroke-width="0.5"/>
<line x1="156.4" y1="487" x2="157.4" y2="487" stroke="#666" stroke-width="0.5"/>
<line x1="156.4" y1="491" x2="157.4" y2="491" stroke="#666" stroke-width="0.5"/>
<line x1="156.4" y1="495" x2="157.4" y2="495" stroke="#666" stroke-width="0.5"/>
<line x1="156.4" y1="499" x2="157.4" y2="499" stroke="#666" stroke-width="0.5"/>
<line x1="156.4" y1="503" x2="157.4" y2="503" stroke="#666" stroke-width="0.5"/>
<line x1="156.4" y1="507" x2="157.4" y2="507" stroke="#666" stroke-width="0.5"/>
<line x1="156.4" y1="511" x2="157.4" y2="511" stroke="#666" stroke-width="0.5"/>
<line x1="156.4" y1="515" x2="157.4" y2="515" stroke="#666" stroke-width="0.5"/>
<line x1="156.4" y1="519" x2="157.4" y2="519" stroke="#666" stroke-width="0.5"/>
<line x1="156.4" y1="523" x2="157.4" y2="523" stroke="#666" stroke-width="0.5"/>
<line x1="156.4" y1="527" x2="157.4" y2="527" stroke="#666" stroke-width="0.5"/>
<line x1="156.4" y1="531" x2="157.4" y2="531" stroke="#666" stroke-width="0.5"/>
<line x1="156.4" y1="535" x2="157.4" y2="535" stroke="#666" stroke-width="0.5"/>
<line x1="156.4" y1="539" x2="157.4" y2="539" stroke="#666" stroke-width="0.5"/>
<line x1="156.4" y1="543" x2="157.4" y2="543" stroke="#666" stroke-width="0.5"/>
<line x1="156.4" y1="547" x2="157.4" y2="547" stroke="#666" stroke-width="0.5"/>
<line x1="156.4" y1="551" x2="157.4" y2="551" stroke="#666" stroke-width="0.5"/>
<line x1="156.4" y1="555" x2="157.4" y2="555" stroke="#666" stroke-width="0.5"/>
<line x1="160" y1="559.2" x2="160" y2="560.3" stroke="#666" stroke-width="0.5"/>
<line x1="164" y1="559.2" x2="164" y2="560.3" stroke="#666" stroke-width="0.5"/>
<line x1="168" y1="559.2" x2="168" y2="560.3" stroke="#666" stroke-width="0.5"/>
<line x1="172" y1="559.2" x2="172" y2="560.3" stroke="#666" stroke-width="0.5"/>
<line x1="176" y1="559.2" x2="176" y2="560.3" stroke="#666" stroke-width="0.5"/>
<line x1="180" y1="559.2" x2="180" y2="560.3" stroke="#666" stroke-width="0.5"/>
<line x1="184" y1="559.2" x2="184" y2="560.3" stroke="#666" stroke-width="0.5"/>
<line x1="188" y1="559.2" x2="188" y2="560.3" stroke="#666" stroke-width="0.5"/>
<line x1="192" y1="559.2" x2="192" y2="560.3" stroke="#666" stroke-width="0.5"/>
<line x1="196" y1="559.2" x2="196" y2="560.3" stroke="#666" stroke-width="0.5"/>
<line x1="200" y1="559.2" x2="200" y2="560.3" stroke="#666" stroke-width="0.5"/>
<line x1="204" y1="559.2" x2="204" y2="560.3" stroke="#666" stroke-width="0.5"/>
<line x1="208" y1="559.2" x2="208" y2="560.3" stroke="#666" stroke-width="0.5"/>
<line x1="212" y1="559.2" x2="212" y2="560.3" stroke="#666" stroke-width="0.5"/>
<line x1="216" y1="559.2" x2="216" y2="560.3" stroke="#666" stroke-width="0.5"/>
<line x1="220" y1="559.2" x2="220" y2="560.3" stroke="#666" stroke-width="0.5"/>
<line x1="224" y1="559.2" x2="224" y2="560.3" stroke="#666" stroke-width="0.5"/>
<line x1="228" y1="559.2" x2="228" y2="560.3" stroke="#666" stroke-width="0.5"/>
<line x1="232" y1="559.2" x2="232" y2="560.3" stroke="#666" stroke-width="0.5"/>
<line x1="236" y1="559.2" x2="236" y2="560.3" stroke="#666" stroke-width="0.5"/>
<line x1="240" y1="559.2" x2="240" y2="560.3" stroke="#666" stroke-width="0.5"/>
<line x1="244" y1="559.2" x2="244" y2="560.3" stroke="#666" stroke-width="0.5"/>
<rect x="57.2" y="559.4" width="8.4" height="2.2" fill="#111" stroke="none" stroke-width="0"/>
<rect x="183.8" y="559.5" width="12" height="1.8" fill="#333" stroke="none" stroke-width="0"/>
<rect x="30.9" y="528.2" width="2.0" height="4.8" fill="#111" stroke="none" stroke-width="0"/>
<text x="263.5" y="443.6" font-size="13.6" text-anchor="start" fill="#111" font-weight="bold" >F</text>
<line x1="302.8" y1="571.5" x2="305.7" y2="571.5" stroke="#111" stroke-width="1"/>
<text x="299.3" y="574.5" font-size="9" text-anchor="end" fill="#222" >0</text>
<line x1="302.8" y1="548.87" x2="305.7" y2="548.87" stroke="#111" stroke-width="1"/>
<text x="299.3" y="551.87" font-size="9" text-anchor="end" fill="#222" textLength="8.6" lengthAdjust="spacingAndGlyphs" >20</text>
<line x1="302.8" y1="526.24" x2="305.7" y2="526.24" stroke="#111" stroke-width="1"/>
<text x="299.3" y="529.24" font-size="9" text-anchor="end" fill="#222" textLength="8.6" lengthAdjust="spacingAndGlyphs" >40</text>
<line x1="302.8" y1="503.61" x2="305.7" y2="503.61" stroke="#111" stroke-width="1"/>
<text x="299.3" y="506.61" font-size="9" text-anchor="end" fill="#222" textLength="8.6" lengthAdjust="spacingAndGlyphs" >60</text>
<line x1="302.8" y1="480.98" x2="305.7" y2="480.98" stroke="#111" stroke-width="1"/>
<text x="299.3" y="483.98" font-size="9" text-anchor="end" fill="#222" textLength="8.6" lengthAdjust="spacingAndGlyphs" >80</text>
<line x1="302.8" y1="458.35" x2="305.7" y2="458.35" stroke="#111" stroke-width="1"/>
<text x="299.3" y="461.35" font-size="9" text-anchor="end" fill="#222" textLength="13.05" lengthAdjust="spacingAndGlyphs" >100</text>
<line x1="305.7" y1="455.8" x2="305.7" y2="572.2" stroke="#111" stroke-width="1.2"/>
<line x1="303.5" y1="571.6" x2="483.5" y2="571.6" stroke="#111" stroke-width="1.2"/>
<text x="280.1" y="513.4" font-size="10.3" text-anchor="middle" fill="#222" textLength="67" lengthAdjust="spacingAndGlyphs" transform="rotate(-90 280.1 513.4)" >Specific killing (%)</text>
<line x1="335.3" y1="571.6" x2="335.3" y2="574" stroke="#111" stroke-width="1"/>
<text x="335.3" y="584.8" font-size="8.4" text-anchor="middle" fill="#222" textLength="28.8" lengthAdjust="spacingAndGlyphs" >090596</text>
<line x1="394.3" y1="571.6" x2="394.3" y2="574" stroke="#111" stroke-width="1"/>
<text x="394.3" y="584.8" font-size="8.4" text-anchor="middle" fill="#222" textLength="28.8" lengthAdjust="spacingAndGlyphs" >110010</text>
<line x1="454.0" y1="571.6" x2="454.0" y2="574" stroke="#111" stroke-width="1"/>
<text x="454.0" y="584.8" font-size="8.4" text-anchor="middle" fill="#222" textLength="28.8" lengthAdjust="spacingAndGlyphs" >130794</text>
<text x="352.6" y="599.4" font-size="10.3" text-anchor="start" fill="#222" textLength="82.8" lengthAdjust="spacingAndGlyphs" >AML patient sample&#160; ID</text>
<line x1="316.8" y1="527.8" x2="331.6" y2="527.8" stroke="#c41d45" stroke-width="1.1"/>
<line x1="320.9" y1="524.4" x2="327.6" y2="524.4" stroke="#c41d45" stroke-width="1.1"/>
<line x1="324.5" y1="524.4" x2="324.5" y2="531" stroke="#c41d45" stroke-width="1.1"/>
<circle cx="320.2" cy="523.7" r="2.5" fill="#a20e31" stroke="#111" stroke-width="0.95"/>
<circle cx="324.2" cy="530.5" r="2.5" fill="#a20e31" stroke="#111" stroke-width="0.95"/>
<circle cx="328.1" cy="528.9" r="2.5" fill="#a20e31" stroke="#111" stroke-width="0.95"/>
<line x1="316.8" y1="527.8" x2="331.6" y2="527.8" stroke="#d0405f" stroke-width="0.9"/>
<line x1="339" y1="484.3" x2="353.9" y2="484.3" stroke="#62297a" stroke-width="1.2"/>
<line x1="343.1" y1="480.2" x2="350" y2="480.2" stroke="#62297a" stroke-width="1.1"/>
<line x1="343.1" y1="488.4" x2="350" y2="488.4" stroke="#62297a" stroke-width="1.1"/>
<line x1="346.6" y1="479" x2="346.6" y2="488.4" stroke="#62297a" stroke-width="1.1"/>
<circle cx="346.6" cy="479.1" r="2.5" fill="#4f1864" stroke="none" stroke-width="0"/>
<circle cx="342.7" cy="486.9" r="2.5" fill="#4f1864" stroke="none" stroke-width="0"/>
<circle cx="350" cy="486.9" r="2.5" fill="#4f1864" stroke="none" stroke-width="0"/>
<path d="M324.1,472.4 L324.1,468.8 L346.8,468.8 L346.8,472.4" fill="none" stroke="#222" stroke-width="1.25" />
<text x="335.6" y="468.6" font-size="9" text-anchor="middle" fill="#222" font-weight="bold" >***</text>
<line x1="376" y1="520" x2="390.7" y2="520" stroke="#c41d45" stroke-width="1.1"/>
<circle cx="379.2" cy="517.6" r="2.5" fill="#a20e31" stroke="#111" stroke-width="0.95"/>
<circle cx="387.8" cy="518.7" r="2.5" fill="#a20e31" stroke="#111" stroke-width="0.95"/>
<circle cx="383.5" cy="523" r="2.5" fill="#a20e31" stroke="#111" stroke-width="0.95"/>
<line x1="376" y1="520" x2="390.7" y2="520" stroke="#d0405f" stroke-width="0.9"/>
<line x1="398.3" y1="469.4" x2="412.6" y2="469.4" stroke="#62297a" stroke-width="1.2"/>
<line x1="405.3" y1="461.5" x2="405.3" y2="477.4" stroke="#62297a" stroke-width="1.1"/>
<line x1="402" y1="461.5" x2="408.6" y2="461.5" stroke="#62297a" stroke-width="1.1"/>
<line x1="402" y1="477.4" x2="408.6" y2="477.4" stroke="#62297a" stroke-width="1.1"/>
<circle cx="405.3" cy="461.5" r="2.5" fill="#4f1864" stroke="none" stroke-width="0"/>
<circle cx="405.3" cy="469.4" r="2.5" fill="#4f1864" stroke="none" stroke-width="0"/>
<circle cx="405.3" cy="477.4" r="2.5" fill="#4f1864" stroke="none" stroke-width="0"/>
<path d="M383,456.1 L383,452.5 L406.3,452.5 L406.3,456.1" fill="none" stroke="#222" stroke-width="1.25" />
<text x="394.6" y="452.5" font-size="9" text-anchor="middle" fill="#222" font-weight="bold" >**</text>
<line x1="435.1" y1="539.3" x2="449.4" y2="539.3" stroke="#c41d45" stroke-width="1.1"/>
<circle cx="438.3" cy="537.2" r="2.5" fill="#a20e31" stroke="#111" stroke-width="0.95"/>
<circle cx="445.9" cy="539.3" r="2.5" fill="#a20e31" stroke="#111" stroke-width="0.95"/>
<circle cx="442.4" cy="542.4" r="2.5" fill="#a20e31" stroke="#111" stroke-width="0.95"/>
<line x1="435.1" y1="539.3" x2="449.4" y2="539.3" stroke="#d0405f" stroke-width="0.9"/>
<line x1="457.4" y1="492.9" x2="471.7" y2="492.9" stroke="#62297a" stroke-width="1.2"/>
<line x1="464.7" y1="482.3" x2="464.7" y2="503.3" stroke="#62297a" stroke-width="1.1"/>
<line x1="461" y1="482.3" x2="468.2" y2="482.3" stroke="#62297a" stroke-width="1.1"/>
<line x1="461" y1="503.3" x2="468.2" y2="503.3" stroke="#62297a" stroke-width="1.1"/>
<circle cx="460.7" cy="485.8" r="2.5" fill="#4f1864" stroke="none" stroke-width="0"/>
<circle cx="468.2" cy="488.2" r="2.5" fill="#4f1864" stroke="none" stroke-width="0"/>
<circle cx="464.7" cy="505.4" r="2.5" fill="#4f1864" stroke="none" stroke-width="0"/>
<path d="M441.5,476.4 L441.5,472.9 L464.7,472.9 L464.7,476.4" fill="none" stroke="#222" stroke-width="1.25" />
<text x="453.4" y="473.0" font-size="9" text-anchor="middle" fill="#222" font-weight="bold" >***</text>
<circle cx="359" cy="615.8" r="2.5" fill="#a20e31" stroke="#111" stroke-width="0.8"/>
<text x="365" y="618.8" font-size="8.8" text-anchor="start" fill="#222" textLength="20.6" lengthAdjust="spacingAndGlyphs" >CD64</text>
<text x="386.6" y="615" font-size="6" text-anchor="start" fill="#222" >-</text>
<circle cx="400.4" cy="615.8" r="1.9" fill="#4f1864" stroke="none" stroke-width="0"/>
<text x="406.2" y="618.8" font-size="8.8" text-anchor="start" fill="#222" textLength="20.7" lengthAdjust="spacingAndGlyphs" >CD64</text>
<text x="427.6" y="614.8" font-size="6.4" text-anchor="start" fill="#222" >+</text>
<rect x="0" y="0" width="520" height="1.3" fill="#000"/>
<rect x="0" y="0" width="1.2" height="628" fill="#000"/>
<rect x="518.5" y="0" width="1.5" height="628" fill="#000"/>
<rect x="0" y="625.6" width="520" height="2.4" fill="#000"/>
</svg></div></body></html>
